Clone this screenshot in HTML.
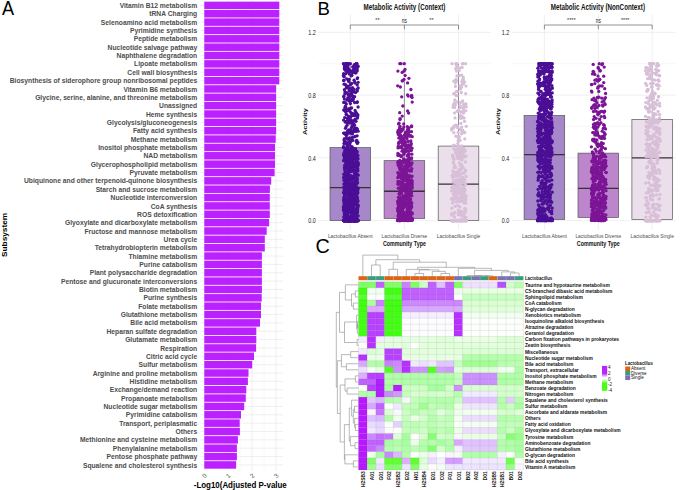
<!DOCTYPE html>
<html><head><meta charset="utf-8"><style>
html,body{margin:0;padding:0;background:#fff;width:685px;height:490px;overflow:hidden;}
svg{display:block;}
</style></head><body>
<svg width="685" height="490" viewBox="0 0 685 490">
<rect width="685" height="490" fill="#fff"/>
<line x1="200.5" x2="283" y1="5.40" y2="5.40" stroke="#ebebeb" stroke-width="0.8"/><line x1="200.5" x2="283" y1="13.76" y2="13.76" stroke="#ebebeb" stroke-width="0.8"/><line x1="200.5" x2="283" y1="22.11" y2="22.11" stroke="#ebebeb" stroke-width="0.8"/><line x1="200.5" x2="283" y1="30.46" y2="30.46" stroke="#ebebeb" stroke-width="0.8"/><line x1="200.5" x2="283" y1="38.82" y2="38.82" stroke="#ebebeb" stroke-width="0.8"/><line x1="200.5" x2="283" y1="47.18" y2="47.18" stroke="#ebebeb" stroke-width="0.8"/><line x1="200.5" x2="283" y1="55.53" y2="55.53" stroke="#ebebeb" stroke-width="0.8"/><line x1="200.5" x2="283" y1="63.88" y2="63.88" stroke="#ebebeb" stroke-width="0.8"/><line x1="200.5" x2="283" y1="72.24" y2="72.24" stroke="#ebebeb" stroke-width="0.8"/><line x1="200.5" x2="283" y1="80.60" y2="80.60" stroke="#ebebeb" stroke-width="0.8"/><line x1="200.5" x2="283" y1="88.95" y2="88.95" stroke="#ebebeb" stroke-width="0.8"/><line x1="200.5" x2="283" y1="97.31" y2="97.31" stroke="#ebebeb" stroke-width="0.8"/><line x1="200.5" x2="283" y1="105.66" y2="105.66" stroke="#ebebeb" stroke-width="0.8"/><line x1="200.5" x2="283" y1="114.02" y2="114.02" stroke="#ebebeb" stroke-width="0.8"/><line x1="200.5" x2="283" y1="122.37" y2="122.37" stroke="#ebebeb" stroke-width="0.8"/><line x1="200.5" x2="283" y1="130.73" y2="130.73" stroke="#ebebeb" stroke-width="0.8"/><line x1="200.5" x2="283" y1="139.08" y2="139.08" stroke="#ebebeb" stroke-width="0.8"/><line x1="200.5" x2="283" y1="147.44" y2="147.44" stroke="#ebebeb" stroke-width="0.8"/><line x1="200.5" x2="283" y1="155.79" y2="155.79" stroke="#ebebeb" stroke-width="0.8"/><line x1="200.5" x2="283" y1="164.15" y2="164.15" stroke="#ebebeb" stroke-width="0.8"/><line x1="200.5" x2="283" y1="172.50" y2="172.50" stroke="#ebebeb" stroke-width="0.8"/><line x1="200.5" x2="283" y1="180.86" y2="180.86" stroke="#ebebeb" stroke-width="0.8"/><line x1="200.5" x2="283" y1="189.21" y2="189.21" stroke="#ebebeb" stroke-width="0.8"/><line x1="200.5" x2="283" y1="197.57" y2="197.57" stroke="#ebebeb" stroke-width="0.8"/><line x1="200.5" x2="283" y1="205.92" y2="205.92" stroke="#ebebeb" stroke-width="0.8"/><line x1="200.5" x2="283" y1="214.28" y2="214.28" stroke="#ebebeb" stroke-width="0.8"/><line x1="200.5" x2="283" y1="222.63" y2="222.63" stroke="#ebebeb" stroke-width="0.8"/><line x1="200.5" x2="283" y1="230.99" y2="230.99" stroke="#ebebeb" stroke-width="0.8"/><line x1="200.5" x2="283" y1="239.34" y2="239.34" stroke="#ebebeb" stroke-width="0.8"/><line x1="200.5" x2="283" y1="247.70" y2="247.70" stroke="#ebebeb" stroke-width="0.8"/><line x1="200.5" x2="283" y1="256.05" y2="256.05" stroke="#ebebeb" stroke-width="0.8"/><line x1="200.5" x2="283" y1="264.40" y2="264.40" stroke="#ebebeb" stroke-width="0.8"/><line x1="200.5" x2="283" y1="272.76" y2="272.76" stroke="#ebebeb" stroke-width="0.8"/><line x1="200.5" x2="283" y1="281.12" y2="281.12" stroke="#ebebeb" stroke-width="0.8"/><line x1="200.5" x2="283" y1="289.47" y2="289.47" stroke="#ebebeb" stroke-width="0.8"/><line x1="200.5" x2="283" y1="297.82" y2="297.82" stroke="#ebebeb" stroke-width="0.8"/><line x1="200.5" x2="283" y1="306.18" y2="306.18" stroke="#ebebeb" stroke-width="0.8"/><line x1="200.5" x2="283" y1="314.53" y2="314.53" stroke="#ebebeb" stroke-width="0.8"/><line x1="200.5" x2="283" y1="322.89" y2="322.89" stroke="#ebebeb" stroke-width="0.8"/><line x1="200.5" x2="283" y1="331.25" y2="331.25" stroke="#ebebeb" stroke-width="0.8"/><line x1="200.5" x2="283" y1="339.60" y2="339.60" stroke="#ebebeb" stroke-width="0.8"/><line x1="200.5" x2="283" y1="347.95" y2="347.95" stroke="#ebebeb" stroke-width="0.8"/><line x1="200.5" x2="283" y1="356.31" y2="356.31" stroke="#ebebeb" stroke-width="0.8"/><line x1="200.5" x2="283" y1="364.67" y2="364.67" stroke="#ebebeb" stroke-width="0.8"/><line x1="200.5" x2="283" y1="373.02" y2="373.02" stroke="#ebebeb" stroke-width="0.8"/><line x1="200.5" x2="283" y1="381.38" y2="381.38" stroke="#ebebeb" stroke-width="0.8"/><line x1="200.5" x2="283" y1="389.73" y2="389.73" stroke="#ebebeb" stroke-width="0.8"/><line x1="200.5" x2="283" y1="398.08" y2="398.08" stroke="#ebebeb" stroke-width="0.8"/><line x1="200.5" x2="283" y1="406.44" y2="406.44" stroke="#ebebeb" stroke-width="0.8"/><line x1="200.5" x2="283" y1="414.80" y2="414.80" stroke="#ebebeb" stroke-width="0.8"/><line x1="200.5" x2="283" y1="423.15" y2="423.15" stroke="#ebebeb" stroke-width="0.8"/><line x1="200.5" x2="283" y1="431.50" y2="431.50" stroke="#ebebeb" stroke-width="0.8"/><line x1="200.5" x2="283" y1="439.86" y2="439.86" stroke="#ebebeb" stroke-width="0.8"/><line x1="200.5" x2="283" y1="448.21" y2="448.21" stroke="#ebebeb" stroke-width="0.8"/><line x1="200.5" x2="283" y1="456.57" y2="456.57" stroke="#ebebeb" stroke-width="0.8"/><line x1="200.5" x2="283" y1="464.93" y2="464.93" stroke="#ebebeb" stroke-width="0.8"/><line x1="216.25" x2="216.25" y1="-2" y2="471" stroke="#f3f3f3" stroke-width="0.6"/><line x1="240.15" x2="240.15" y1="-2" y2="471" stroke="#f3f3f3" stroke-width="0.6"/><line x1="264.05" x2="264.05" y1="-2" y2="471" stroke="#f3f3f3" stroke-width="0.6"/><line x1="204.30" x2="204.30" y1="-2" y2="471" stroke="#ebebeb" stroke-width="0.8"/><line x1="228.20" x2="228.20" y1="-2" y2="471" stroke="#ebebeb" stroke-width="0.8"/><line x1="252.10" x2="252.10" y1="-2" y2="471" stroke="#ebebeb" stroke-width="0.8"/><line x1="276.00" x2="276.00" y1="-2" y2="471" stroke="#ebebeb" stroke-width="0.8"/>
<rect x="204.3" y="1.65" width="75.00" height="7.5" fill="#bb20ff"/><rect x="204.3" y="10.01" width="75.00" height="7.5" fill="#bb20ff"/><rect x="204.3" y="18.36" width="75.00" height="7.5" fill="#bb20ff"/><rect x="204.3" y="26.71" width="75.00" height="7.5" fill="#bb20ff"/><rect x="204.3" y="35.07" width="75.00" height="7.5" fill="#bb20ff"/><rect x="204.3" y="43.43" width="75.00" height="7.5" fill="#bb20ff"/><rect x="204.3" y="51.78" width="75.00" height="7.5" fill="#bb20ff"/><rect x="204.3" y="60.13" width="75.00" height="7.5" fill="#bb20ff"/><rect x="204.3" y="68.49" width="75.00" height="7.5" fill="#bb20ff"/><rect x="204.3" y="76.85" width="75.00" height="7.5" fill="#bb20ff"/><rect x="204.3" y="85.20" width="71.80" height="7.5" fill="#bb20ff"/><rect x="204.3" y="93.56" width="71.80" height="7.5" fill="#bb20ff"/><rect x="204.3" y="101.91" width="71.80" height="7.5" fill="#bb20ff"/><rect x="204.3" y="110.27" width="71.80" height="7.5" fill="#bb20ff"/><rect x="204.3" y="118.62" width="71.80" height="7.5" fill="#bb20ff"/><rect x="204.3" y="126.98" width="71.80" height="7.5" fill="#bb20ff"/><rect x="204.3" y="135.33" width="71.40" height="7.5" fill="#bb20ff"/><rect x="204.3" y="143.69" width="70.70" height="7.5" fill="#bb20ff"/><rect x="204.3" y="152.04" width="70.70" height="7.5" fill="#bb20ff"/><rect x="204.3" y="160.40" width="70.70" height="7.5" fill="#bb20ff"/><rect x="204.3" y="168.75" width="70.30" height="7.5" fill="#bb20ff"/><rect x="204.3" y="177.11" width="66.90" height="7.5" fill="#bb20ff"/><rect x="204.3" y="185.46" width="65.60" height="7.5" fill="#bb20ff"/><rect x="204.3" y="193.82" width="65.50" height="7.5" fill="#bb20ff"/><rect x="204.3" y="202.17" width="65.50" height="7.5" fill="#bb20ff"/><rect x="204.3" y="210.53" width="65.50" height="7.5" fill="#bb20ff"/><rect x="204.3" y="218.88" width="64.80" height="7.5" fill="#bb20ff"/><rect x="204.3" y="227.24" width="62.40" height="7.5" fill="#bb20ff"/><rect x="204.3" y="235.59" width="60.50" height="7.5" fill="#bb20ff"/><rect x="204.3" y="243.95" width="60.50" height="7.5" fill="#bb20ff"/><rect x="204.3" y="252.30" width="57.60" height="7.5" fill="#bb20ff"/><rect x="204.3" y="260.65" width="57.60" height="7.5" fill="#bb20ff"/><rect x="204.3" y="269.01" width="57.60" height="7.5" fill="#bb20ff"/><rect x="204.3" y="277.37" width="57.60" height="7.5" fill="#bb20ff"/><rect x="204.3" y="285.72" width="57.60" height="7.5" fill="#bb20ff"/><rect x="204.3" y="294.07" width="57.40" height="7.5" fill="#bb20ff"/><rect x="204.3" y="302.43" width="56.70" height="7.5" fill="#bb20ff"/><rect x="204.3" y="310.78" width="56.70" height="7.5" fill="#bb20ff"/><rect x="204.3" y="319.14" width="55.70" height="7.5" fill="#bb20ff"/><rect x="204.3" y="327.50" width="52.00" height="7.5" fill="#bb20ff"/><rect x="204.3" y="335.85" width="52.00" height="7.5" fill="#bb20ff"/><rect x="204.3" y="344.20" width="51.80" height="7.5" fill="#bb20ff"/><rect x="204.3" y="352.56" width="49.70" height="7.5" fill="#bb20ff"/><rect x="204.3" y="360.92" width="47.90" height="7.5" fill="#bb20ff"/><rect x="204.3" y="369.27" width="44.20" height="7.5" fill="#bb20ff"/><rect x="204.3" y="377.62" width="43.60" height="7.5" fill="#bb20ff"/><rect x="204.3" y="385.98" width="42.00" height="7.5" fill="#bb20ff"/><rect x="204.3" y="394.33" width="41.50" height="7.5" fill="#bb20ff"/><rect x="204.3" y="402.69" width="39.90" height="7.5" fill="#bb20ff"/><rect x="204.3" y="411.05" width="36.70" height="7.5" fill="#bb20ff"/><rect x="204.3" y="419.40" width="35.40" height="7.5" fill="#bb20ff"/><rect x="204.3" y="427.75" width="35.60" height="7.5" fill="#bb20ff"/><rect x="204.3" y="436.11" width="33.60" height="7.5" fill="#bb20ff"/><rect x="204.3" y="444.46" width="32.60" height="7.5" fill="#bb20ff"/><rect x="204.3" y="452.82" width="32.60" height="7.5" fill="#bb20ff"/><rect x="204.3" y="461.18" width="31.80" height="7.5" fill="#bb20ff"/>
<g font-family='"Liberation Sans", sans-serif' font-weight="bold" font-size="7.8" fill="#4d4d4d" text-anchor="end"><text x="197.2" y="8.00" textLength="77.55" lengthAdjust="spacingAndGlyphs">Vitamin B12 metabolism</text><text x="197.2" y="16.36" textLength="47.91" lengthAdjust="spacingAndGlyphs">tRNA Charging</text><text x="197.2" y="24.71" textLength="96.34" lengthAdjust="spacingAndGlyphs">Selenoamino acid metabolism</text><text x="197.2" y="33.06" textLength="67.22" lengthAdjust="spacingAndGlyphs">Pyrimidine synthesis</text><text x="197.2" y="41.42" textLength="63.48" lengthAdjust="spacingAndGlyphs">Peptide metabolism</text><text x="197.2" y="49.78" textLength="89.62" lengthAdjust="spacingAndGlyphs">Nucleotide salvage pathway</text><text x="197.2" y="58.13" textLength="80.64" lengthAdjust="spacingAndGlyphs">Naphthalene degradation</text><text x="197.2" y="66.48" textLength="63.10" lengthAdjust="spacingAndGlyphs">Lipoate metabolism</text><text x="197.2" y="74.84" textLength="69.83" lengthAdjust="spacingAndGlyphs">Cell wall biosynthesis</text><text x="197.2" y="83.20" textLength="187.42" lengthAdjust="spacingAndGlyphs">Biosynthesis of siderophore group nonribosomal peptides</text><text x="197.2" y="91.55" textLength="73.81" lengthAdjust="spacingAndGlyphs">Vitamin B6 metabolism</text><text x="197.2" y="99.91" textLength="162.06" lengthAdjust="spacingAndGlyphs">Glycine, serine, alanine, and threonine metabolism</text><text x="197.2" y="108.26" textLength="38.09" lengthAdjust="spacingAndGlyphs">Unassigned</text><text x="197.2" y="116.62" textLength="51.17" lengthAdjust="spacingAndGlyphs">Heme synthesis</text><text x="197.2" y="124.97" textLength="90.37" lengthAdjust="spacingAndGlyphs">Glycolysis/gluconeogenesis</text><text x="197.2" y="133.33" textLength="64.23" lengthAdjust="spacingAndGlyphs">Fatty acid synthesis</text><text x="197.2" y="141.68" textLength="66.46" lengthAdjust="spacingAndGlyphs">Methane metabolism</text><text x="197.2" y="150.03" textLength="98.94" lengthAdjust="spacingAndGlyphs">Inositol phosphate metabolism</text><text x="197.2" y="158.39" textLength="53.77" lengthAdjust="spacingAndGlyphs">NAD metabolism</text><text x="197.2" y="166.75" textLength="106.41" lengthAdjust="spacingAndGlyphs">Glycerophospholipid metabolism</text><text x="197.2" y="175.10" textLength="67.60" lengthAdjust="spacingAndGlyphs">Pyruvate metabolism</text><text x="197.2" y="183.46" textLength="173.21" lengthAdjust="spacingAndGlyphs">Ubiquinone and other terpenoid-quinone biosynthesis</text><text x="197.2" y="191.81" textLength="101.57" lengthAdjust="spacingAndGlyphs">Starch and sucrose metabolism</text><text x="197.2" y="200.17" textLength="86.62" lengthAdjust="spacingAndGlyphs">Nucleotide interconversion</text><text x="197.2" y="208.52" textLength="46.43" lengthAdjust="spacingAndGlyphs">CoA synthesis</text><text x="197.2" y="216.88" textLength="60.11" lengthAdjust="spacingAndGlyphs">ROS detoxification</text><text x="197.2" y="225.23" textLength="132.20" lengthAdjust="spacingAndGlyphs">Glyoxylate and dicarboxylate metabolism</text><text x="197.2" y="233.59" textLength="112.77" lengthAdjust="spacingAndGlyphs">Fructose and mannose metabolism</text><text x="197.2" y="241.94" textLength="33.62" lengthAdjust="spacingAndGlyphs">Urea cycle</text><text x="197.2" y="250.30" textLength="102.55" lengthAdjust="spacingAndGlyphs">Tetrahydrobiopterin metabolism</text><text x="197.2" y="258.65" textLength="68.71" lengthAdjust="spacingAndGlyphs">Thiamine metabolism</text><text x="197.2" y="267.00" textLength="57.88" lengthAdjust="spacingAndGlyphs">Purine catabolism</text><text x="197.2" y="275.36" textLength="107.54" lengthAdjust="spacingAndGlyphs">Plant polysaccharide degradation</text><text x="197.2" y="283.72" textLength="136.29" lengthAdjust="spacingAndGlyphs">Pentose and glucuronate interconversions</text><text x="197.2" y="292.07" textLength="58.24" lengthAdjust="spacingAndGlyphs">Biotin metabolism</text><text x="197.2" y="300.43" textLength="53.78" lengthAdjust="spacingAndGlyphs">Purine synthesis</text><text x="197.2" y="308.78" textLength="59.00" lengthAdjust="spacingAndGlyphs">Folate metabolism</text><text x="197.2" y="317.13" textLength="76.54" lengthAdjust="spacingAndGlyphs">Glutathione metabolism</text><text x="197.2" y="325.49" textLength="66.85" lengthAdjust="spacingAndGlyphs">Bile acid metabolism</text><text x="197.2" y="333.85" textLength="90.73" lengthAdjust="spacingAndGlyphs">Heparan sulfate degradation</text><text x="197.2" y="342.20" textLength="72.07" lengthAdjust="spacingAndGlyphs">Glutamate metabolism</text><text x="197.2" y="350.56" textLength="36.96" lengthAdjust="spacingAndGlyphs">Respiration</text><text x="197.2" y="358.91" textLength="51.17" lengthAdjust="spacingAndGlyphs">Citric acid cycle</text><text x="197.2" y="367.27" textLength="58.62" lengthAdjust="spacingAndGlyphs">Sulfur metabolism</text><text x="197.2" y="375.62" textLength="104.54" lengthAdjust="spacingAndGlyphs">Arginine and proline metabolism</text><text x="197.2" y="383.98" textLength="67.58" lengthAdjust="spacingAndGlyphs">Histidine metabolism</text><text x="197.2" y="392.33" textLength="87.38" lengthAdjust="spacingAndGlyphs">Exchange/demand reaction</text><text x="197.2" y="400.69" textLength="76.17" lengthAdjust="spacingAndGlyphs">Propanoate metabolism</text><text x="197.2" y="409.04" textLength="93.72" lengthAdjust="spacingAndGlyphs">Nucleotide sugar metabolism</text><text x="197.2" y="417.40" textLength="71.33" lengthAdjust="spacingAndGlyphs">Pyrimidine catabolism</text><text x="197.2" y="425.75" textLength="78.05" lengthAdjust="spacingAndGlyphs">Transport, periplasmatic</text><text x="197.2" y="434.11" textLength="21.66" lengthAdjust="spacingAndGlyphs">Others</text><text x="197.2" y="442.46" textLength="117.24" lengthAdjust="spacingAndGlyphs">Methionine and cysteine metabolism</text><text x="197.2" y="450.81" textLength="84.39" lengthAdjust="spacingAndGlyphs">Phenylalanine metabolism</text><text x="197.2" y="459.17" textLength="90.73" lengthAdjust="spacingAndGlyphs">Pentose phosphate pathway</text><text x="197.2" y="467.53" textLength="114.27" lengthAdjust="spacingAndGlyphs">Squalene and cholesterol synthesis</text></g>
<text x="204.30" y="477.9" font-family='"Liberation Sans", sans-serif' font-size="6.2" fill="#4d4d4d" text-anchor="middle" transform="rotate(-45 204.30 475.6)">0</text>
<text x="228.20" y="477.9" font-family='"Liberation Sans", sans-serif' font-size="6.2" fill="#4d4d4d" text-anchor="middle" transform="rotate(-45 228.20 475.6)">1</text>
<text x="252.10" y="477.9" font-family='"Liberation Sans", sans-serif' font-size="6.2" fill="#4d4d4d" text-anchor="middle" transform="rotate(-45 252.10 475.6)">2</text>
<text x="276.00" y="477.9" font-family='"Liberation Sans", sans-serif' font-size="6.2" fill="#4d4d4d" text-anchor="middle" transform="rotate(-45 276.00 475.6)">3</text>
<text x="240.25" y="488.0" font-family='"Liberation Sans", sans-serif' font-weight="bold" font-size="8.6" fill="#000" text-anchor="middle" textLength="93" lengthAdjust="spacingAndGlyphs">-Log10(Adjusted P-value</text>
<text x="0" y="0" font-family='"Liberation Sans", sans-serif' font-weight="bold" font-size="8.1" fill="#000" text-anchor="middle" textLength="44.3" lengthAdjust="spacingAndGlyphs" transform="translate(6.8 234.9) rotate(-90)">Subsystem</text>
<text x="1.9" y="15.0" font-family='"Liberation Sans", sans-serif' font-size="19.6" fill="#000" textLength="12.1" lengthAdjust="spacingAndGlyphs">A</text>
<line x1="318" x2="491" y1="189.22" y2="189.22" stroke="#f2f2f2" stroke-width="0.6"/><line x1="318" x2="491" y1="126.46" y2="126.46" stroke="#f2f2f2" stroke-width="0.6"/><line x1="318" x2="491" y1="63.70" y2="63.70" stroke="#f2f2f2" stroke-width="0.6"/><line x1="318" x2="491" y1="220.60" y2="220.60" stroke="#ebebeb" stroke-width="0.8"/><line x1="318" x2="491" y1="157.84" y2="157.84" stroke="#ebebeb" stroke-width="0.8"/><line x1="318" x2="491" y1="95.08" y2="95.08" stroke="#ebebeb" stroke-width="0.8"/><line x1="318" x2="491" y1="32.32" y2="32.32" stroke="#ebebeb" stroke-width="0.8"/><line x1="350.3" x2="350.3" y1="14.6" y2="229.5" stroke="#ebebeb" stroke-width="0.8"/><line x1="404.4" x2="404.4" y1="14.6" y2="229.5" stroke="#ebebeb" stroke-width="0.8"/><line x1="458.5" x2="458.5" y1="14.6" y2="229.5" stroke="#ebebeb" stroke-width="0.8"/><text x="315.7" y="223.35" font-family='"Liberation Sans", sans-serif' font-size="7.3" fill="#1a1a1a" text-anchor="end" textLength="7.5" lengthAdjust="spacingAndGlyphs">0.0</text><text x="315.7" y="160.59" font-family='"Liberation Sans", sans-serif' font-size="7.3" fill="#1a1a1a" text-anchor="end" textLength="7.5" lengthAdjust="spacingAndGlyphs">0.4</text><text x="315.7" y="97.83" font-family='"Liberation Sans", sans-serif' font-size="7.3" fill="#1a1a1a" text-anchor="end" textLength="7.5" lengthAdjust="spacingAndGlyphs">0.8</text><text x="315.7" y="35.07" font-family='"Liberation Sans", sans-serif' font-size="7.3" fill="#1a1a1a" text-anchor="end" textLength="7.5" lengthAdjust="spacingAndGlyphs">1.2</text><line x1="350.3" x2="350.3" y1="63.70" y2="147.64" stroke="#666" stroke-width="0.7"/><rect x="330.00" y="147.64" width="40.60" height="72.96" fill="#a587ca" stroke="#555" stroke-width="0.7"/><line x1="330.00" x2="370.60" y1="187.65" y2="187.65" stroke="#333" stroke-width="1.3"/><g fill="#4b0f96"><circle cx="357.1" cy="193.9" r="1.65"/><circle cx="352.1" cy="192.2" r="1.65"/><circle cx="352.7" cy="220.6" r="1.65"/><circle cx="347.9" cy="132.8" r="1.65"/><circle cx="353.7" cy="220.6" r="1.65"/><circle cx="357.7" cy="220.6" r="1.65"/><circle cx="345.7" cy="163.0" r="1.65"/><circle cx="344.3" cy="220.6" r="1.65"/><circle cx="343.8" cy="220.6" r="1.65"/><circle cx="355.9" cy="192.4" r="1.65"/><circle cx="350.8" cy="184.6" r="1.65"/><circle cx="347.5" cy="161.7" r="1.65"/><circle cx="355.8" cy="64.3" r="1.65"/><circle cx="346.8" cy="154.4" r="1.65"/><circle cx="354.7" cy="215.5" r="1.65"/><circle cx="349.1" cy="200.8" r="1.65"/><circle cx="343.4" cy="75.7" r="1.65"/><circle cx="350.4" cy="220.6" r="1.65"/><circle cx="344.5" cy="68.8" r="1.65"/><circle cx="347.4" cy="166.9" r="1.65"/><circle cx="357.7" cy="220.6" r="1.65"/><circle cx="347.0" cy="144.9" r="1.65"/><circle cx="355.2" cy="220.6" r="1.65"/><circle cx="350.0" cy="220.6" r="1.65"/><circle cx="345.3" cy="220.6" r="1.65"/><circle cx="349.6" cy="164.7" r="1.65"/><circle cx="357.8" cy="220.6" r="1.65"/><circle cx="356.5" cy="129.2" r="1.65"/><circle cx="356.0" cy="220.6" r="1.65"/><circle cx="358.0" cy="165.0" r="1.65"/><circle cx="354.8" cy="220.6" r="1.65"/><circle cx="344.5" cy="210.2" r="1.65"/><circle cx="347.0" cy="220.6" r="1.65"/><circle cx="350.1" cy="171.4" r="1.65"/><circle cx="351.9" cy="75.3" r="1.65"/><circle cx="345.7" cy="107.3" r="1.65"/><circle cx="347.1" cy="92.8" r="1.65"/><circle cx="357.3" cy="220.6" r="1.65"/><circle cx="356.5" cy="220.6" r="1.65"/><circle cx="344.9" cy="171.1" r="1.65"/><circle cx="346.9" cy="220.6" r="1.65"/><circle cx="355.6" cy="154.9" r="1.65"/><circle cx="346.0" cy="172.2" r="1.65"/><circle cx="346.8" cy="152.4" r="1.65"/><circle cx="352.5" cy="178.2" r="1.65"/><circle cx="346.4" cy="216.6" r="1.65"/><circle cx="350.0" cy="220.6" r="1.65"/><circle cx="348.9" cy="220.6" r="1.65"/><circle cx="348.8" cy="176.1" r="1.65"/><circle cx="353.1" cy="98.9" r="1.65"/><circle cx="345.5" cy="157.0" r="1.65"/><circle cx="356.9" cy="63.7" r="1.65"/><circle cx="343.7" cy="155.5" r="1.65"/><circle cx="354.2" cy="165.9" r="1.65"/><circle cx="344.5" cy="211.5" r="1.65"/><circle cx="356.7" cy="180.3" r="1.65"/><circle cx="355.1" cy="149.7" r="1.65"/><circle cx="353.5" cy="90.6" r="1.65"/><circle cx="349.6" cy="95.5" r="1.65"/><circle cx="351.9" cy="133.6" r="1.65"/><circle cx="352.0" cy="167.7" r="1.65"/><circle cx="352.9" cy="170.2" r="1.65"/><circle cx="354.2" cy="65.4" r="1.65"/><circle cx="352.0" cy="202.4" r="1.65"/><circle cx="344.6" cy="195.5" r="1.65"/><circle cx="352.3" cy="147.6" r="1.65"/><circle cx="353.7" cy="190.2" r="1.65"/><circle cx="357.0" cy="188.0" r="1.65"/><circle cx="347.9" cy="63.7" r="1.65"/><circle cx="345.9" cy="159.1" r="1.65"/><circle cx="349.9" cy="93.8" r="1.65"/><circle cx="353.3" cy="98.6" r="1.65"/><circle cx="355.3" cy="220.6" r="1.65"/><circle cx="349.1" cy="90.8" r="1.65"/><circle cx="345.4" cy="174.4" r="1.65"/><circle cx="356.0" cy="188.1" r="1.65"/><circle cx="347.5" cy="153.8" r="1.65"/><circle cx="347.5" cy="220.6" r="1.65"/><circle cx="352.7" cy="220.6" r="1.65"/><circle cx="355.8" cy="188.5" r="1.65"/><circle cx="344.5" cy="68.4" r="1.65"/><circle cx="344.0" cy="220.6" r="1.65"/><circle cx="348.0" cy="154.3" r="1.65"/><circle cx="345.4" cy="63.7" r="1.65"/><circle cx="355.7" cy="193.6" r="1.65"/><circle cx="344.1" cy="220.6" r="1.65"/><circle cx="352.7" cy="167.0" r="1.65"/><circle cx="357.6" cy="162.8" r="1.65"/><circle cx="350.4" cy="158.1" r="1.65"/><circle cx="350.4" cy="63.7" r="1.65"/><circle cx="347.4" cy="153.4" r="1.65"/><circle cx="351.1" cy="208.0" r="1.65"/><circle cx="349.2" cy="169.3" r="1.65"/><circle cx="344.7" cy="133.1" r="1.65"/><circle cx="345.3" cy="84.5" r="1.65"/><circle cx="356.9" cy="193.8" r="1.65"/><circle cx="356.4" cy="203.9" r="1.65"/><circle cx="350.3" cy="131.5" r="1.65"/><circle cx="354.1" cy="163.4" r="1.65"/><circle cx="354.0" cy="124.0" r="1.65"/><circle cx="357.9" cy="220.6" r="1.65"/><circle cx="355.1" cy="69.6" r="1.65"/><circle cx="356.1" cy="211.3" r="1.65"/><circle cx="349.9" cy="207.6" r="1.65"/><circle cx="350.6" cy="179.6" r="1.65"/><circle cx="344.3" cy="220.6" r="1.65"/><circle cx="348.4" cy="130.4" r="1.65"/><circle cx="345.6" cy="134.5" r="1.65"/><circle cx="355.8" cy="185.0" r="1.65"/><circle cx="350.7" cy="157.3" r="1.65"/><circle cx="346.7" cy="78.8" r="1.65"/><circle cx="354.2" cy="183.4" r="1.65"/><circle cx="355.9" cy="165.4" r="1.65"/><circle cx="349.0" cy="178.1" r="1.65"/><circle cx="346.5" cy="114.7" r="1.65"/><circle cx="351.2" cy="112.8" r="1.65"/><circle cx="351.3" cy="176.0" r="1.65"/><circle cx="343.8" cy="187.1" r="1.65"/><circle cx="349.3" cy="71.8" r="1.65"/><circle cx="350.7" cy="130.0" r="1.65"/><circle cx="351.4" cy="157.1" r="1.65"/><circle cx="357.1" cy="199.0" r="1.65"/><circle cx="345.3" cy="218.1" r="1.65"/><circle cx="356.7" cy="196.4" r="1.65"/><circle cx="346.2" cy="190.7" r="1.65"/><circle cx="345.3" cy="168.8" r="1.65"/><circle cx="346.3" cy="137.5" r="1.65"/><circle cx="348.2" cy="220.6" r="1.65"/><circle cx="345.0" cy="206.7" r="1.65"/><circle cx="351.0" cy="150.7" r="1.65"/><circle cx="351.2" cy="220.5" r="1.65"/><circle cx="349.5" cy="196.0" r="1.65"/><circle cx="346.4" cy="183.0" r="1.65"/><circle cx="351.2" cy="166.6" r="1.65"/><circle cx="356.1" cy="112.6" r="1.65"/><circle cx="355.4" cy="220.6" r="1.65"/><circle cx="348.1" cy="94.8" r="1.65"/><circle cx="358.2" cy="87.9" r="1.65"/><circle cx="346.9" cy="100.1" r="1.65"/><circle cx="344.8" cy="151.4" r="1.65"/><circle cx="355.1" cy="119.2" r="1.65"/><circle cx="353.5" cy="220.6" r="1.65"/><circle cx="353.5" cy="220.6" r="1.65"/><circle cx="345.1" cy="91.8" r="1.65"/><circle cx="350.8" cy="186.7" r="1.65"/><circle cx="344.4" cy="157.9" r="1.65"/><circle cx="351.6" cy="220.6" r="1.65"/><circle cx="345.6" cy="185.3" r="1.65"/><circle cx="355.8" cy="220.6" r="1.65"/><circle cx="344.8" cy="66.2" r="1.65"/><circle cx="350.2" cy="220.6" r="1.65"/><circle cx="350.3" cy="142.5" r="1.65"/><circle cx="352.3" cy="185.2" r="1.65"/><circle cx="355.9" cy="220.6" r="1.65"/><circle cx="354.3" cy="220.6" r="1.65"/><circle cx="345.8" cy="200.1" r="1.65"/><circle cx="356.6" cy="63.7" r="1.65"/><circle cx="356.1" cy="129.8" r="1.65"/><circle cx="352.3" cy="166.9" r="1.65"/><circle cx="355.3" cy="187.0" r="1.65"/><circle cx="354.4" cy="219.5" r="1.65"/><circle cx="349.4" cy="138.0" r="1.65"/><circle cx="353.7" cy="97.0" r="1.65"/><circle cx="349.4" cy="141.7" r="1.65"/><circle cx="348.5" cy="152.0" r="1.65"/><circle cx="348.7" cy="63.7" r="1.65"/><circle cx="346.8" cy="165.5" r="1.65"/><circle cx="348.4" cy="80.3" r="1.65"/><circle cx="351.3" cy="162.1" r="1.65"/><circle cx="352.9" cy="202.2" r="1.65"/><circle cx="357.9" cy="155.4" r="1.65"/><circle cx="354.3" cy="220.6" r="1.65"/><circle cx="344.1" cy="219.7" r="1.65"/><circle cx="344.9" cy="220.6" r="1.65"/><circle cx="351.5" cy="220.5" r="1.65"/><circle cx="351.8" cy="186.4" r="1.65"/><circle cx="355.4" cy="65.0" r="1.65"/><circle cx="354.6" cy="220.6" r="1.65"/><circle cx="345.8" cy="220.6" r="1.65"/><circle cx="350.7" cy="191.4" r="1.65"/><circle cx="357.4" cy="169.9" r="1.65"/><circle cx="352.2" cy="198.1" r="1.65"/><circle cx="353.1" cy="205.4" r="1.65"/><circle cx="354.0" cy="177.9" r="1.65"/><circle cx="347.0" cy="63.7" r="1.65"/><circle cx="354.6" cy="220.6" r="1.65"/><circle cx="354.5" cy="202.2" r="1.65"/><circle cx="357.4" cy="220.6" r="1.65"/><circle cx="349.8" cy="220.6" r="1.65"/><circle cx="347.0" cy="190.6" r="1.65"/><circle cx="354.1" cy="183.9" r="1.65"/><circle cx="355.5" cy="191.8" r="1.65"/><circle cx="352.6" cy="171.1" r="1.65"/><circle cx="344.2" cy="193.5" r="1.65"/><circle cx="350.0" cy="183.2" r="1.65"/><circle cx="347.3" cy="160.8" r="1.65"/><circle cx="354.9" cy="174.5" r="1.65"/><circle cx="357.5" cy="182.7" r="1.65"/><circle cx="345.1" cy="150.2" r="1.65"/><circle cx="352.6" cy="98.3" r="1.65"/><circle cx="353.5" cy="206.2" r="1.65"/><circle cx="352.8" cy="177.3" r="1.65"/><circle cx="347.1" cy="146.5" r="1.65"/><circle cx="356.4" cy="69.0" r="1.65"/><circle cx="347.4" cy="220.6" r="1.65"/><circle cx="344.9" cy="197.5" r="1.65"/><circle cx="344.7" cy="181.0" r="1.65"/><circle cx="352.7" cy="159.4" r="1.65"/><circle cx="346.5" cy="204.4" r="1.65"/><circle cx="355.8" cy="208.3" r="1.65"/><circle cx="355.4" cy="220.6" r="1.65"/><circle cx="346.6" cy="167.8" r="1.65"/><circle cx="355.4" cy="197.6" r="1.65"/><circle cx="358.0" cy="204.9" r="1.65"/><circle cx="354.4" cy="210.7" r="1.65"/><circle cx="348.9" cy="88.6" r="1.65"/><circle cx="344.6" cy="220.6" r="1.65"/><circle cx="350.6" cy="220.6" r="1.65"/><circle cx="354.9" cy="158.0" r="1.65"/><circle cx="353.2" cy="220.6" r="1.65"/><circle cx="354.1" cy="220.6" r="1.65"/><circle cx="345.5" cy="156.6" r="1.65"/><circle cx="348.8" cy="206.4" r="1.65"/><circle cx="351.8" cy="220.6" r="1.65"/><circle cx="356.9" cy="89.3" r="1.65"/><circle cx="347.9" cy="195.8" r="1.65"/><circle cx="357.2" cy="211.7" r="1.65"/><circle cx="348.8" cy="97.6" r="1.65"/><circle cx="349.3" cy="205.4" r="1.65"/><circle cx="351.7" cy="202.5" r="1.65"/><circle cx="355.8" cy="131.4" r="1.65"/><circle cx="354.6" cy="177.6" r="1.65"/><circle cx="343.7" cy="102.4" r="1.65"/><circle cx="351.8" cy="185.1" r="1.65"/><circle cx="355.3" cy="72.8" r="1.65"/><circle cx="355.1" cy="220.6" r="1.65"/><circle cx="354.3" cy="220.6" r="1.65"/><circle cx="352.8" cy="96.1" r="1.65"/><circle cx="353.0" cy="220.6" r="1.65"/><circle cx="354.7" cy="220.6" r="1.65"/><circle cx="349.2" cy="184.2" r="1.65"/><circle cx="353.4" cy="209.0" r="1.65"/><circle cx="354.1" cy="188.5" r="1.65"/><circle cx="349.5" cy="154.3" r="1.65"/><circle cx="356.0" cy="121.3" r="1.65"/><circle cx="356.6" cy="128.3" r="1.65"/><circle cx="351.2" cy="75.8" r="1.65"/><circle cx="349.6" cy="154.0" r="1.65"/><circle cx="354.4" cy="198.1" r="1.65"/><circle cx="345.9" cy="66.1" r="1.65"/><circle cx="347.7" cy="220.6" r="1.65"/><circle cx="348.0" cy="71.6" r="1.65"/><circle cx="354.9" cy="220.6" r="1.65"/><circle cx="350.2" cy="220.6" r="1.65"/><circle cx="343.9" cy="174.2" r="1.65"/><circle cx="346.6" cy="220.6" r="1.65"/><circle cx="352.2" cy="220.6" r="1.65"/><circle cx="347.6" cy="220.6" r="1.65"/><circle cx="348.0" cy="220.6" r="1.65"/><circle cx="350.5" cy="179.9" r="1.65"/><circle cx="356.9" cy="219.2" r="1.65"/><circle cx="357.6" cy="208.5" r="1.65"/><circle cx="344.1" cy="189.9" r="1.65"/><circle cx="349.1" cy="79.3" r="1.65"/><circle cx="347.5" cy="183.2" r="1.65"/><circle cx="346.9" cy="66.3" r="1.65"/><circle cx="348.9" cy="220.6" r="1.65"/><circle cx="352.4" cy="131.5" r="1.65"/><circle cx="348.2" cy="220.6" r="1.65"/><circle cx="351.0" cy="219.4" r="1.65"/><circle cx="347.3" cy="165.7" r="1.65"/><circle cx="354.8" cy="182.1" r="1.65"/><circle cx="355.9" cy="220.6" r="1.65"/><circle cx="347.4" cy="122.7" r="1.65"/><circle cx="350.5" cy="153.0" r="1.65"/><circle cx="352.1" cy="191.8" r="1.65"/><circle cx="355.1" cy="110.5" r="1.65"/><circle cx="344.7" cy="198.6" r="1.65"/><circle cx="351.4" cy="121.2" r="1.65"/><circle cx="355.7" cy="183.5" r="1.65"/><circle cx="344.5" cy="212.5" r="1.65"/><circle cx="354.0" cy="213.3" r="1.65"/><circle cx="345.0" cy="206.1" r="1.65"/><circle cx="357.7" cy="201.6" r="1.65"/><circle cx="343.6" cy="120.1" r="1.65"/><circle cx="346.9" cy="203.8" r="1.65"/><circle cx="343.6" cy="177.4" r="1.65"/><circle cx="346.5" cy="65.9" r="1.65"/><circle cx="349.0" cy="169.1" r="1.65"/><circle cx="348.4" cy="181.3" r="1.65"/><circle cx="347.2" cy="201.9" r="1.65"/><circle cx="348.3" cy="220.6" r="1.65"/><circle cx="354.1" cy="80.2" r="1.65"/><circle cx="344.8" cy="209.8" r="1.65"/><circle cx="353.4" cy="220.6" r="1.65"/><circle cx="349.4" cy="154.3" r="1.65"/><circle cx="344.7" cy="117.6" r="1.65"/><circle cx="345.2" cy="220.6" r="1.65"/><circle cx="357.0" cy="199.9" r="1.65"/><circle cx="353.0" cy="197.3" r="1.65"/><circle cx="349.1" cy="141.8" r="1.65"/><circle cx="343.6" cy="209.9" r="1.65"/><circle cx="357.9" cy="200.7" r="1.65"/><circle cx="352.4" cy="133.9" r="1.65"/><circle cx="348.5" cy="220.6" r="1.65"/><circle cx="349.0" cy="163.5" r="1.65"/><circle cx="355.6" cy="186.2" r="1.65"/><circle cx="354.7" cy="169.8" r="1.65"/><circle cx="348.6" cy="94.7" r="1.65"/><circle cx="354.0" cy="187.6" r="1.65"/><circle cx="354.0" cy="67.2" r="1.65"/><circle cx="357.4" cy="118.1" r="1.65"/><circle cx="344.6" cy="167.3" r="1.65"/><circle cx="353.7" cy="220.6" r="1.65"/><circle cx="348.7" cy="210.2" r="1.65"/><circle cx="357.8" cy="192.5" r="1.65"/><circle cx="351.4" cy="220.6" r="1.65"/><circle cx="347.3" cy="177.9" r="1.65"/><circle cx="355.5" cy="92.5" r="1.65"/><circle cx="355.6" cy="171.4" r="1.65"/><circle cx="347.0" cy="215.5" r="1.65"/><circle cx="346.1" cy="175.9" r="1.65"/><circle cx="343.9" cy="180.0" r="1.65"/><circle cx="357.3" cy="220.6" r="1.65"/><circle cx="353.3" cy="162.3" r="1.65"/><circle cx="352.2" cy="149.6" r="1.65"/><circle cx="346.4" cy="63.7" r="1.65"/><circle cx="349.1" cy="191.9" r="1.65"/><circle cx="351.1" cy="176.5" r="1.65"/><circle cx="348.3" cy="218.8" r="1.65"/><circle cx="353.3" cy="165.0" r="1.65"/><circle cx="352.3" cy="220.6" r="1.65"/><circle cx="352.6" cy="191.6" r="1.65"/><circle cx="354.5" cy="157.4" r="1.65"/><circle cx="355.8" cy="189.5" r="1.65"/><circle cx="349.8" cy="111.3" r="1.65"/><circle cx="351.2" cy="177.1" r="1.65"/><circle cx="356.8" cy="183.6" r="1.65"/><circle cx="354.1" cy="211.3" r="1.65"/><circle cx="352.2" cy="95.7" r="1.65"/><circle cx="352.2" cy="147.0" r="1.65"/><circle cx="350.0" cy="220.6" r="1.65"/><circle cx="344.2" cy="187.2" r="1.65"/><circle cx="346.9" cy="156.5" r="1.65"/><circle cx="346.9" cy="213.2" r="1.65"/><circle cx="357.7" cy="220.6" r="1.65"/><circle cx="349.6" cy="161.1" r="1.65"/><circle cx="354.5" cy="128.5" r="1.65"/><circle cx="344.9" cy="177.0" r="1.65"/><circle cx="351.4" cy="133.0" r="1.65"/><circle cx="347.0" cy="63.7" r="1.65"/><circle cx="344.3" cy="214.1" r="1.65"/><circle cx="349.3" cy="97.4" r="1.65"/><circle cx="344.1" cy="206.6" r="1.65"/><circle cx="348.0" cy="220.6" r="1.65"/><circle cx="357.9" cy="187.9" r="1.65"/><circle cx="347.8" cy="191.3" r="1.65"/><circle cx="346.3" cy="87.9" r="1.65"/><circle cx="350.4" cy="117.2" r="1.65"/><circle cx="358.1" cy="220.6" r="1.65"/><circle cx="346.2" cy="220.6" r="1.65"/><circle cx="345.0" cy="102.6" r="1.65"/><circle cx="356.7" cy="151.5" r="1.65"/><circle cx="345.4" cy="106.3" r="1.65"/><circle cx="350.0" cy="156.3" r="1.65"/><circle cx="347.9" cy="220.6" r="1.65"/><circle cx="346.1" cy="154.0" r="1.65"/><circle cx="355.1" cy="220.6" r="1.65"/><circle cx="356.5" cy="204.5" r="1.65"/><circle cx="347.9" cy="173.3" r="1.65"/><circle cx="347.5" cy="86.5" r="1.65"/><circle cx="357.9" cy="165.3" r="1.65"/><circle cx="351.3" cy="195.5" r="1.65"/><circle cx="347.6" cy="220.6" r="1.65"/><circle cx="344.7" cy="220.5" r="1.65"/><circle cx="347.0" cy="216.0" r="1.65"/><circle cx="346.2" cy="216.8" r="1.65"/><circle cx="343.9" cy="96.8" r="1.65"/><circle cx="349.1" cy="192.7" r="1.65"/><circle cx="346.1" cy="85.6" r="1.65"/><circle cx="348.7" cy="178.7" r="1.65"/><circle cx="351.0" cy="162.3" r="1.65"/><circle cx="353.5" cy="186.8" r="1.65"/><circle cx="346.0" cy="184.4" r="1.65"/><circle cx="352.4" cy="137.4" r="1.65"/><circle cx="354.8" cy="220.6" r="1.65"/><circle cx="346.9" cy="135.0" r="1.65"/><circle cx="352.0" cy="189.1" r="1.65"/><circle cx="352.2" cy="187.8" r="1.65"/><circle cx="356.3" cy="153.3" r="1.65"/><circle cx="343.7" cy="220.6" r="1.65"/><circle cx="349.9" cy="188.2" r="1.65"/><circle cx="344.5" cy="218.9" r="1.65"/><circle cx="351.4" cy="93.2" r="1.65"/><circle cx="345.6" cy="133.2" r="1.65"/><circle cx="348.1" cy="212.6" r="1.65"/><circle cx="347.3" cy="168.3" r="1.65"/><circle cx="355.5" cy="173.5" r="1.65"/><circle cx="345.8" cy="220.6" r="1.65"/><circle cx="355.0" cy="157.1" r="1.65"/><circle cx="348.8" cy="220.6" r="1.65"/><circle cx="344.0" cy="220.6" r="1.65"/><circle cx="358.0" cy="189.0" r="1.65"/><circle cx="354.4" cy="220.6" r="1.65"/><circle cx="356.6" cy="220.6" r="1.65"/><circle cx="347.8" cy="220.6" r="1.65"/><circle cx="343.9" cy="197.6" r="1.65"/><circle cx="354.3" cy="64.7" r="1.65"/><circle cx="351.6" cy="220.6" r="1.65"/><circle cx="357.2" cy="220.6" r="1.65"/><circle cx="357.9" cy="205.6" r="1.65"/><circle cx="349.4" cy="169.9" r="1.65"/><circle cx="348.5" cy="163.7" r="1.65"/><circle cx="352.1" cy="156.5" r="1.65"/><circle cx="349.2" cy="100.5" r="1.65"/><circle cx="355.0" cy="115.5" r="1.65"/><circle cx="346.1" cy="220.6" r="1.65"/><circle cx="346.4" cy="179.7" r="1.65"/><circle cx="348.0" cy="220.6" r="1.65"/><circle cx="353.5" cy="194.6" r="1.65"/><circle cx="349.1" cy="108.7" r="1.65"/><circle cx="348.8" cy="220.6" r="1.65"/><circle cx="346.1" cy="63.7" r="1.65"/><circle cx="357.1" cy="219.0" r="1.65"/><circle cx="348.7" cy="153.2" r="1.65"/><circle cx="348.7" cy="220.6" r="1.65"/><circle cx="356.8" cy="142.2" r="1.65"/><circle cx="349.1" cy="220.6" r="1.65"/><circle cx="348.2" cy="220.6" r="1.65"/><circle cx="344.2" cy="140.5" r="1.65"/><circle cx="344.0" cy="201.6" r="1.65"/><circle cx="343.9" cy="220.6" r="1.65"/><circle cx="351.5" cy="212.4" r="1.65"/><circle cx="347.3" cy="220.6" r="1.65"/><circle cx="345.6" cy="151.6" r="1.65"/><circle cx="353.9" cy="220.6" r="1.65"/><circle cx="356.2" cy="200.1" r="1.65"/><circle cx="348.5" cy="220.6" r="1.65"/><circle cx="343.8" cy="220.6" r="1.65"/><circle cx="355.4" cy="166.8" r="1.65"/><circle cx="353.3" cy="70.1" r="1.65"/><circle cx="353.6" cy="89.2" r="1.65"/><circle cx="356.3" cy="161.0" r="1.65"/><circle cx="344.7" cy="220.6" r="1.65"/><circle cx="344.3" cy="197.2" r="1.65"/><circle cx="350.8" cy="203.0" r="1.65"/><circle cx="349.4" cy="216.7" r="1.65"/><circle cx="353.2" cy="190.9" r="1.65"/><circle cx="348.5" cy="220.6" r="1.65"/><circle cx="352.0" cy="197.9" r="1.65"/><circle cx="353.8" cy="155.4" r="1.65"/><circle cx="348.8" cy="220.6" r="1.65"/><circle cx="344.2" cy="220.6" r="1.65"/><circle cx="350.3" cy="188.2" r="1.65"/><circle cx="343.7" cy="210.6" r="1.65"/><circle cx="351.8" cy="207.8" r="1.65"/><circle cx="346.2" cy="219.0" r="1.65"/><circle cx="357.5" cy="191.7" r="1.65"/><circle cx="357.3" cy="205.8" r="1.65"/><circle cx="352.6" cy="140.2" r="1.65"/><circle cx="347.5" cy="199.4" r="1.65"/><circle cx="349.1" cy="120.1" r="1.65"/><circle cx="345.4" cy="92.4" r="1.65"/><circle cx="348.7" cy="186.5" r="1.65"/><circle cx="346.2" cy="69.7" r="1.65"/><circle cx="346.9" cy="220.6" r="1.65"/><circle cx="349.2" cy="220.6" r="1.65"/><circle cx="353.0" cy="220.6" r="1.65"/><circle cx="351.7" cy="179.9" r="1.65"/><circle cx="348.3" cy="119.6" r="1.65"/><circle cx="348.0" cy="207.9" r="1.65"/><circle cx="353.6" cy="153.1" r="1.65"/><circle cx="345.8" cy="73.7" r="1.65"/><circle cx="351.7" cy="168.2" r="1.65"/><circle cx="354.5" cy="204.8" r="1.65"/><circle cx="347.1" cy="182.2" r="1.65"/><circle cx="351.0" cy="210.7" r="1.65"/><circle cx="344.4" cy="220.6" r="1.65"/><circle cx="345.1" cy="220.6" r="1.65"/><circle cx="350.5" cy="194.0" r="1.65"/><circle cx="356.3" cy="220.6" r="1.65"/><circle cx="350.9" cy="220.6" r="1.65"/><circle cx="354.0" cy="131.6" r="1.65"/><circle cx="348.2" cy="220.4" r="1.65"/><circle cx="355.9" cy="209.6" r="1.65"/><circle cx="349.6" cy="120.5" r="1.65"/><circle cx="355.7" cy="154.5" r="1.65"/><circle cx="349.0" cy="129.9" r="1.65"/><circle cx="346.1" cy="160.5" r="1.65"/><circle cx="357.3" cy="220.6" r="1.65"/><circle cx="353.6" cy="71.4" r="1.65"/><circle cx="349.3" cy="198.3" r="1.65"/><circle cx="344.1" cy="84.2" r="1.65"/><circle cx="344.0" cy="153.5" r="1.65"/><circle cx="358.1" cy="215.8" r="1.65"/><circle cx="343.8" cy="220.6" r="1.65"/><circle cx="348.9" cy="180.8" r="1.65"/><circle cx="355.8" cy="212.8" r="1.65"/><circle cx="352.5" cy="216.2" r="1.65"/><circle cx="349.2" cy="142.3" r="1.65"/><circle cx="355.2" cy="156.6" r="1.65"/><circle cx="345.0" cy="220.6" r="1.65"/><circle cx="350.6" cy="84.2" r="1.65"/><circle cx="343.7" cy="220.6" r="1.65"/><circle cx="352.7" cy="177.1" r="1.65"/><circle cx="350.5" cy="217.4" r="1.65"/><circle cx="344.2" cy="205.3" r="1.65"/><circle cx="348.0" cy="220.6" r="1.65"/><circle cx="350.6" cy="220.6" r="1.65"/><circle cx="356.2" cy="64.4" r="1.65"/><circle cx="355.3" cy="189.7" r="1.65"/><circle cx="351.5" cy="201.4" r="1.65"/><circle cx="347.5" cy="162.5" r="1.65"/><circle cx="358.1" cy="82.3" r="1.65"/><circle cx="354.1" cy="195.1" r="1.65"/><circle cx="345.9" cy="220.6" r="1.65"/><circle cx="348.7" cy="220.6" r="1.65"/><circle cx="351.0" cy="146.4" r="1.65"/><circle cx="357.6" cy="220.6" r="1.65"/><circle cx="355.4" cy="220.6" r="1.65"/><circle cx="349.3" cy="133.0" r="1.65"/><circle cx="354.8" cy="129.3" r="1.65"/><circle cx="357.5" cy="67.4" r="1.65"/><circle cx="347.1" cy="200.5" r="1.65"/><circle cx="351.9" cy="92.4" r="1.65"/><circle cx="348.9" cy="220.6" r="1.65"/><circle cx="348.8" cy="162.5" r="1.65"/><circle cx="347.5" cy="165.6" r="1.65"/><circle cx="344.8" cy="94.0" r="1.65"/><circle cx="346.5" cy="209.4" r="1.65"/><circle cx="353.5" cy="148.7" r="1.65"/><circle cx="345.5" cy="220.6" r="1.65"/><circle cx="343.5" cy="207.4" r="1.65"/><circle cx="348.2" cy="187.2" r="1.65"/><circle cx="346.4" cy="181.7" r="1.65"/><circle cx="354.6" cy="102.5" r="1.65"/><circle cx="349.8" cy="220.6" r="1.65"/><circle cx="349.4" cy="74.1" r="1.65"/><circle cx="347.4" cy="154.7" r="1.65"/><circle cx="348.2" cy="159.3" r="1.65"/><circle cx="358.0" cy="220.6" r="1.65"/><circle cx="349.0" cy="220.6" r="1.65"/><circle cx="352.5" cy="164.6" r="1.65"/><circle cx="352.7" cy="100.0" r="1.65"/><circle cx="345.1" cy="186.9" r="1.65"/><circle cx="350.1" cy="117.4" r="1.65"/><circle cx="349.1" cy="161.2" r="1.65"/><circle cx="351.9" cy="220.6" r="1.65"/><circle cx="352.7" cy="185.2" r="1.65"/><circle cx="352.2" cy="194.7" r="1.65"/><circle cx="350.3" cy="84.8" r="1.65"/><circle cx="348.0" cy="65.6" r="1.65"/><circle cx="349.4" cy="149.8" r="1.65"/><circle cx="358.1" cy="107.0" r="1.65"/><circle cx="355.8" cy="188.8" r="1.65"/><circle cx="355.7" cy="163.8" r="1.65"/><circle cx="358.1" cy="131.2" r="1.65"/><circle cx="353.9" cy="220.6" r="1.65"/><circle cx="350.1" cy="220.5" r="1.65"/><circle cx="346.3" cy="181.8" r="1.65"/><circle cx="344.5" cy="216.7" r="1.65"/><circle cx="350.7" cy="178.8" r="1.65"/><circle cx="356.1" cy="220.6" r="1.65"/><circle cx="356.8" cy="140.4" r="1.65"/><circle cx="348.8" cy="131.5" r="1.65"/><circle cx="348.5" cy="220.6" r="1.65"/><circle cx="345.1" cy="107.9" r="1.65"/><circle cx="356.0" cy="220.6" r="1.65"/><circle cx="344.5" cy="168.9" r="1.65"/><circle cx="352.7" cy="66.9" r="1.65"/><circle cx="346.3" cy="103.9" r="1.65"/><circle cx="343.6" cy="160.7" r="1.65"/><circle cx="352.7" cy="208.8" r="1.65"/><circle cx="353.7" cy="216.8" r="1.65"/><circle cx="353.7" cy="220.6" r="1.65"/><circle cx="345.1" cy="192.1" r="1.65"/><circle cx="348.7" cy="81.6" r="1.65"/><circle cx="353.6" cy="220.6" r="1.65"/><circle cx="348.0" cy="149.8" r="1.65"/><circle cx="352.7" cy="199.7" r="1.65"/><circle cx="349.5" cy="197.6" r="1.65"/><circle cx="357.3" cy="193.3" r="1.65"/><circle cx="346.9" cy="207.9" r="1.65"/><circle cx="356.3" cy="175.0" r="1.65"/><circle cx="353.4" cy="215.8" r="1.65"/><circle cx="349.1" cy="193.6" r="1.65"/><circle cx="350.0" cy="148.7" r="1.65"/><circle cx="347.6" cy="220.6" r="1.65"/><circle cx="347.7" cy="195.4" r="1.65"/><circle cx="347.0" cy="156.5" r="1.65"/><circle cx="356.7" cy="199.3" r="1.65"/><circle cx="348.5" cy="220.4" r="1.65"/><circle cx="352.1" cy="123.3" r="1.65"/><circle cx="356.7" cy="180.3" r="1.65"/><circle cx="348.9" cy="220.6" r="1.65"/><circle cx="348.5" cy="152.0" r="1.65"/><circle cx="343.7" cy="96.5" r="1.65"/><circle cx="348.8" cy="166.4" r="1.65"/><circle cx="353.3" cy="192.3" r="1.65"/><circle cx="357.9" cy="170.8" r="1.65"/><circle cx="355.7" cy="65.6" r="1.65"/><circle cx="358.2" cy="163.7" r="1.65"/><circle cx="349.3" cy="220.6" r="1.65"/><circle cx="358.0" cy="162.7" r="1.65"/><circle cx="345.5" cy="220.6" r="1.65"/><circle cx="344.6" cy="201.5" r="1.65"/><circle cx="352.6" cy="220.6" r="1.65"/><circle cx="355.4" cy="148.9" r="1.65"/><circle cx="345.2" cy="150.7" r="1.65"/><circle cx="356.1" cy="63.7" r="1.65"/><circle cx="343.8" cy="80.4" r="1.65"/><circle cx="351.3" cy="207.3" r="1.65"/><circle cx="347.9" cy="220.6" r="1.65"/><circle cx="351.8" cy="186.5" r="1.65"/><circle cx="351.0" cy="220.6" r="1.65"/><circle cx="347.1" cy="214.8" r="1.65"/><circle cx="346.6" cy="199.0" r="1.65"/><circle cx="350.2" cy="194.0" r="1.65"/><circle cx="356.0" cy="112.8" r="1.65"/><circle cx="351.2" cy="220.6" r="1.65"/><circle cx="356.2" cy="200.0" r="1.65"/><circle cx="343.6" cy="73.7" r="1.65"/><circle cx="354.3" cy="220.6" r="1.65"/><circle cx="351.3" cy="153.6" r="1.65"/><circle cx="347.9" cy="220.6" r="1.65"/><circle cx="355.9" cy="72.9" r="1.65"/><circle cx="344.6" cy="220.6" r="1.65"/><circle cx="357.0" cy="219.2" r="1.65"/><circle cx="353.1" cy="210.2" r="1.65"/><circle cx="351.8" cy="100.4" r="1.65"/><circle cx="349.2" cy="187.5" r="1.65"/><circle cx="347.2" cy="214.1" r="1.65"/><circle cx="350.5" cy="205.1" r="1.65"/><circle cx="350.1" cy="206.3" r="1.65"/><circle cx="344.3" cy="220.6" r="1.65"/><circle cx="349.3" cy="183.2" r="1.65"/><circle cx="348.9" cy="220.6" r="1.65"/><circle cx="346.8" cy="212.1" r="1.65"/><circle cx="343.5" cy="147.7" r="1.65"/><circle cx="343.5" cy="200.0" r="1.65"/><circle cx="348.8" cy="172.7" r="1.65"/><circle cx="347.9" cy="172.0" r="1.65"/><circle cx="348.1" cy="170.2" r="1.65"/><circle cx="354.6" cy="188.0" r="1.65"/><circle cx="347.1" cy="220.6" r="1.65"/><circle cx="349.7" cy="217.9" r="1.65"/><circle cx="347.6" cy="109.6" r="1.65"/><circle cx="358.0" cy="158.9" r="1.65"/><circle cx="348.1" cy="119.4" r="1.65"/><circle cx="352.9" cy="123.7" r="1.65"/><circle cx="344.1" cy="220.6" r="1.65"/><circle cx="357.1" cy="167.7" r="1.65"/><circle cx="357.2" cy="165.5" r="1.65"/><circle cx="343.5" cy="146.7" r="1.65"/><circle cx="353.5" cy="149.7" r="1.65"/><circle cx="344.5" cy="68.0" r="1.65"/><circle cx="354.5" cy="136.8" r="1.65"/><circle cx="349.9" cy="203.8" r="1.65"/><circle cx="354.3" cy="220.6" r="1.65"/><circle cx="355.7" cy="220.6" r="1.65"/><circle cx="345.1" cy="161.0" r="1.65"/><circle cx="357.5" cy="220.6" r="1.65"/><circle cx="346.5" cy="178.0" r="1.65"/><circle cx="355.8" cy="198.9" r="1.65"/><circle cx="350.4" cy="220.6" r="1.65"/><circle cx="349.0" cy="220.6" r="1.65"/><circle cx="350.7" cy="159.7" r="1.65"/><circle cx="354.9" cy="157.3" r="1.65"/><circle cx="345.9" cy="220.6" r="1.65"/><circle cx="348.5" cy="173.9" r="1.65"/><circle cx="352.2" cy="220.6" r="1.65"/><circle cx="351.9" cy="184.5" r="1.65"/><circle cx="352.0" cy="115.7" r="1.65"/><circle cx="348.3" cy="190.2" r="1.65"/><circle cx="347.3" cy="156.1" r="1.65"/><circle cx="347.2" cy="150.8" r="1.65"/><circle cx="349.0" cy="220.6" r="1.65"/><circle cx="352.5" cy="153.0" r="1.65"/><circle cx="356.9" cy="178.1" r="1.65"/><circle cx="346.8" cy="193.5" r="1.65"/><circle cx="347.9" cy="146.6" r="1.65"/><circle cx="353.7" cy="113.9" r="1.65"/><circle cx="348.3" cy="176.8" r="1.65"/><circle cx="354.7" cy="220.6" r="1.65"/><circle cx="355.0" cy="128.4" r="1.65"/><circle cx="351.3" cy="220.6" r="1.65"/><circle cx="354.7" cy="170.1" r="1.65"/><circle cx="357.1" cy="174.5" r="1.65"/><circle cx="357.5" cy="157.4" r="1.65"/><circle cx="356.1" cy="152.7" r="1.65"/><circle cx="347.1" cy="151.3" r="1.65"/><circle cx="347.2" cy="220.6" r="1.65"/><circle cx="345.3" cy="214.9" r="1.65"/><circle cx="347.6" cy="189.6" r="1.65"/><circle cx="356.3" cy="217.0" r="1.65"/><circle cx="356.1" cy="220.6" r="1.65"/><circle cx="354.3" cy="170.1" r="1.65"/><circle cx="357.0" cy="182.1" r="1.65"/><circle cx="344.2" cy="138.9" r="1.65"/><circle cx="355.1" cy="83.1" r="1.65"/><circle cx="348.9" cy="220.6" r="1.65"/><circle cx="350.9" cy="151.0" r="1.65"/><circle cx="346.8" cy="177.1" r="1.65"/><circle cx="357.3" cy="78.5" r="1.65"/><circle cx="356.7" cy="162.5" r="1.65"/><circle cx="345.2" cy="220.6" r="1.65"/><circle cx="356.3" cy="66.6" r="1.65"/><circle cx="344.4" cy="220.6" r="1.65"/><circle cx="357.9" cy="220.6" r="1.65"/><circle cx="355.0" cy="158.0" r="1.65"/><circle cx="351.2" cy="184.3" r="1.65"/><circle cx="348.6" cy="220.6" r="1.65"/><circle cx="353.8" cy="187.8" r="1.65"/><circle cx="344.6" cy="198.6" r="1.65"/><circle cx="357.8" cy="189.4" r="1.65"/><circle cx="347.8" cy="177.8" r="1.65"/><circle cx="357.3" cy="209.3" r="1.65"/><circle cx="357.1" cy="70.0" r="1.65"/><circle cx="343.7" cy="110.1" r="1.65"/><circle cx="353.5" cy="189.0" r="1.65"/><circle cx="357.2" cy="169.6" r="1.65"/><circle cx="357.6" cy="220.6" r="1.65"/><circle cx="356.3" cy="220.6" r="1.65"/><circle cx="343.9" cy="76.0" r="1.65"/><circle cx="351.1" cy="120.1" r="1.65"/><circle cx="355.4" cy="174.8" r="1.65"/><circle cx="355.2" cy="220.6" r="1.65"/><circle cx="349.4" cy="70.1" r="1.65"/><circle cx="343.6" cy="209.3" r="1.65"/><circle cx="352.1" cy="140.7" r="1.65"/><circle cx="353.4" cy="183.5" r="1.65"/><circle cx="356.5" cy="193.6" r="1.65"/><circle cx="347.2" cy="220.6" r="1.65"/><circle cx="348.3" cy="190.4" r="1.65"/><circle cx="347.3" cy="220.6" r="1.65"/><circle cx="356.4" cy="184.0" r="1.65"/><circle cx="347.9" cy="220.6" r="1.65"/><circle cx="353.4" cy="210.1" r="1.65"/><circle cx="344.6" cy="133.7" r="1.65"/><circle cx="346.6" cy="143.0" r="1.65"/><circle cx="348.9" cy="198.9" r="1.65"/><circle cx="358.1" cy="206.6" r="1.65"/><circle cx="355.1" cy="202.5" r="1.65"/><circle cx="355.1" cy="136.5" r="1.65"/><circle cx="352.2" cy="203.5" r="1.65"/><circle cx="355.5" cy="149.0" r="1.65"/><circle cx="349.0" cy="220.6" r="1.65"/><circle cx="345.5" cy="220.6" r="1.65"/><circle cx="357.6" cy="220.6" r="1.65"/><circle cx="357.2" cy="84.9" r="1.65"/><circle cx="357.4" cy="220.6" r="1.65"/><circle cx="353.4" cy="220.6" r="1.65"/><circle cx="357.4" cy="101.8" r="1.65"/><circle cx="345.2" cy="193.7" r="1.65"/><circle cx="344.5" cy="217.6" r="1.65"/><circle cx="344.1" cy="220.6" r="1.65"/><circle cx="345.2" cy="213.1" r="1.65"/><circle cx="351.8" cy="183.3" r="1.65"/><circle cx="357.4" cy="143.4" r="1.65"/><circle cx="344.5" cy="220.6" r="1.65"/><circle cx="357.1" cy="212.8" r="1.65"/><circle cx="348.3" cy="187.0" r="1.65"/><circle cx="355.1" cy="176.7" r="1.65"/><circle cx="352.3" cy="70.9" r="1.65"/><circle cx="346.2" cy="114.4" r="1.65"/><circle cx="343.8" cy="80.5" r="1.65"/><circle cx="344.2" cy="143.2" r="1.65"/><circle cx="354.3" cy="220.6" r="1.65"/><circle cx="346.7" cy="63.7" r="1.65"/><circle cx="353.1" cy="130.6" r="1.65"/><circle cx="343.6" cy="192.3" r="1.65"/><circle cx="347.3" cy="213.4" r="1.65"/><circle cx="350.4" cy="168.6" r="1.65"/><circle cx="348.7" cy="167.8" r="1.65"/><circle cx="349.6" cy="101.3" r="1.65"/><circle cx="348.3" cy="181.2" r="1.65"/><circle cx="357.3" cy="91.0" r="1.65"/><circle cx="345.8" cy="112.0" r="1.65"/><circle cx="347.7" cy="186.2" r="1.65"/><circle cx="346.9" cy="220.6" r="1.65"/><circle cx="357.4" cy="174.3" r="1.65"/><circle cx="353.6" cy="216.1" r="1.65"/><circle cx="350.8" cy="207.8" r="1.65"/><circle cx="349.0" cy="88.0" r="1.65"/><circle cx="347.4" cy="220.6" r="1.65"/><circle cx="350.2" cy="175.8" r="1.65"/><circle cx="350.5" cy="220.6" r="1.65"/><circle cx="347.5" cy="165.0" r="1.65"/><circle cx="355.2" cy="195.2" r="1.65"/><circle cx="355.2" cy="220.6" r="1.65"/><circle cx="350.9" cy="220.0" r="1.65"/><circle cx="357.4" cy="197.4" r="1.65"/><circle cx="347.7" cy="189.0" r="1.65"/><circle cx="348.5" cy="116.1" r="1.65"/><circle cx="355.7" cy="220.6" r="1.65"/><circle cx="357.0" cy="129.1" r="1.65"/><circle cx="353.9" cy="158.0" r="1.65"/><circle cx="346.0" cy="127.0" r="1.65"/><circle cx="347.0" cy="125.3" r="1.65"/><circle cx="351.0" cy="89.0" r="1.65"/><circle cx="352.4" cy="208.3" r="1.65"/><circle cx="352.9" cy="91.9" r="1.65"/><circle cx="345.0" cy="220.6" r="1.65"/><circle cx="348.0" cy="68.4" r="1.65"/><circle cx="354.6" cy="220.6" r="1.65"/><circle cx="345.3" cy="67.6" r="1.65"/><circle cx="356.2" cy="151.4" r="1.65"/><circle cx="356.3" cy="141.2" r="1.65"/><circle cx="352.9" cy="176.6" r="1.65"/><circle cx="348.6" cy="188.7" r="1.65"/><circle cx="355.2" cy="220.6" r="1.65"/><circle cx="354.9" cy="220.6" r="1.65"/><circle cx="348.1" cy="156.5" r="1.65"/><circle cx="353.0" cy="217.6" r="1.65"/><circle cx="348.3" cy="157.8" r="1.65"/><circle cx="347.7" cy="86.4" r="1.65"/><circle cx="357.6" cy="77.8" r="1.65"/><circle cx="347.5" cy="139.3" r="1.65"/><circle cx="343.9" cy="184.0" r="1.65"/><circle cx="350.4" cy="108.7" r="1.65"/><circle cx="346.3" cy="148.5" r="1.65"/><circle cx="348.2" cy="174.7" r="1.65"/><circle cx="348.7" cy="220.6" r="1.65"/><circle cx="352.9" cy="183.3" r="1.65"/><circle cx="346.9" cy="198.9" r="1.65"/><circle cx="345.2" cy="191.1" r="1.65"/><circle cx="354.7" cy="196.5" r="1.65"/><circle cx="357.3" cy="178.8" r="1.65"/><circle cx="351.4" cy="94.9" r="1.65"/><circle cx="346.2" cy="64.4" r="1.65"/><circle cx="345.6" cy="142.1" r="1.65"/><circle cx="354.1" cy="179.4" r="1.65"/><circle cx="354.8" cy="151.4" r="1.65"/><circle cx="350.2" cy="164.0" r="1.65"/><circle cx="350.4" cy="196.6" r="1.65"/><circle cx="344.2" cy="76.8" r="1.65"/><circle cx="353.7" cy="220.6" r="1.65"/><circle cx="349.7" cy="195.9" r="1.65"/><circle cx="349.4" cy="175.9" r="1.65"/><circle cx="352.5" cy="163.7" r="1.65"/><circle cx="345.3" cy="220.6" r="1.65"/><circle cx="343.6" cy="220.6" r="1.65"/><circle cx="350.3" cy="220.6" r="1.65"/><circle cx="356.0" cy="220.6" r="1.65"/><circle cx="348.1" cy="189.4" r="1.65"/><circle cx="347.9" cy="68.0" r="1.65"/><circle cx="350.9" cy="220.6" r="1.65"/><circle cx="356.5" cy="199.5" r="1.65"/><circle cx="353.9" cy="219.6" r="1.65"/><circle cx="349.9" cy="194.5" r="1.65"/><circle cx="352.6" cy="193.8" r="1.65"/><circle cx="354.8" cy="199.4" r="1.65"/><circle cx="356.4" cy="193.6" r="1.65"/><circle cx="356.7" cy="193.6" r="1.65"/><circle cx="349.3" cy="69.9" r="1.65"/><circle cx="347.8" cy="160.3" r="1.65"/><circle cx="353.1" cy="151.8" r="1.65"/><circle cx="353.1" cy="160.6" r="1.65"/><circle cx="351.4" cy="220.6" r="1.65"/><circle cx="353.9" cy="68.9" r="1.65"/><circle cx="354.7" cy="220.6" r="1.65"/><circle cx="346.7" cy="219.4" r="1.65"/><circle cx="346.3" cy="201.0" r="1.65"/><circle cx="352.0" cy="91.3" r="1.65"/><circle cx="349.2" cy="123.0" r="1.65"/><circle cx="354.7" cy="173.2" r="1.65"/><circle cx="347.1" cy="148.2" r="1.65"/><circle cx="351.5" cy="154.8" r="1.65"/><circle cx="355.0" cy="67.1" r="1.65"/><circle cx="357.5" cy="210.7" r="1.65"/><circle cx="351.2" cy="217.4" r="1.65"/><circle cx="352.7" cy="188.3" r="1.65"/><circle cx="347.7" cy="98.0" r="1.65"/><circle cx="345.5" cy="128.3" r="1.65"/><circle cx="351.2" cy="170.7" r="1.65"/><circle cx="357.5" cy="66.0" r="1.65"/><circle cx="344.5" cy="207.1" r="1.65"/><circle cx="353.6" cy="214.0" r="1.65"/><circle cx="347.4" cy="120.5" r="1.65"/><circle cx="343.8" cy="206.3" r="1.65"/><circle cx="345.6" cy="204.2" r="1.65"/><circle cx="357.2" cy="212.5" r="1.65"/><circle cx="345.1" cy="220.6" r="1.65"/><circle cx="354.3" cy="220.6" r="1.65"/><circle cx="353.7" cy="218.7" r="1.65"/><circle cx="356.1" cy="220.6" r="1.65"/><circle cx="353.7" cy="220.6" r="1.65"/><circle cx="346.6" cy="209.1" r="1.65"/><circle cx="349.9" cy="191.1" r="1.65"/><circle cx="352.4" cy="126.1" r="1.65"/><circle cx="346.7" cy="67.1" r="1.65"/><circle cx="357.7" cy="168.5" r="1.65"/><circle cx="349.8" cy="208.6" r="1.65"/><circle cx="353.4" cy="120.8" r="1.65"/><circle cx="353.9" cy="220.6" r="1.65"/><circle cx="356.3" cy="220.6" r="1.65"/><circle cx="346.8" cy="220.6" r="1.65"/><circle cx="353.7" cy="152.7" r="1.65"/><circle cx="351.4" cy="220.6" r="1.65"/><circle cx="344.1" cy="174.3" r="1.65"/><circle cx="352.3" cy="207.0" r="1.65"/><circle cx="344.9" cy="108.8" r="1.65"/><circle cx="346.0" cy="220.6" r="1.65"/><circle cx="353.7" cy="217.6" r="1.65"/><circle cx="347.7" cy="211.1" r="1.65"/><circle cx="348.7" cy="177.8" r="1.65"/><circle cx="347.3" cy="220.6" r="1.65"/><circle cx="352.2" cy="220.6" r="1.65"/><circle cx="355.9" cy="218.1" r="1.65"/><circle cx="348.0" cy="191.7" r="1.65"/><circle cx="352.6" cy="100.2" r="1.65"/><circle cx="350.8" cy="162.1" r="1.65"/><circle cx="350.9" cy="199.1" r="1.65"/><circle cx="351.3" cy="191.8" r="1.65"/><circle cx="346.7" cy="134.3" r="1.65"/><circle cx="343.9" cy="220.6" r="1.65"/><circle cx="347.6" cy="131.6" r="1.65"/><circle cx="355.8" cy="220.6" r="1.65"/><circle cx="354.4" cy="158.3" r="1.65"/><circle cx="351.6" cy="193.6" r="1.65"/><circle cx="357.0" cy="102.5" r="1.65"/><circle cx="347.1" cy="118.1" r="1.65"/><circle cx="351.0" cy="71.3" r="1.65"/><circle cx="351.0" cy="212.7" r="1.65"/><circle cx="358.1" cy="66.2" r="1.65"/><circle cx="349.2" cy="220.6" r="1.65"/><circle cx="351.7" cy="165.3" r="1.65"/><circle cx="354.7" cy="82.1" r="1.65"/><circle cx="346.0" cy="172.9" r="1.65"/><circle cx="353.4" cy="192.4" r="1.65"/><circle cx="351.4" cy="220.6" r="1.65"/><circle cx="352.7" cy="209.2" r="1.65"/><circle cx="353.1" cy="220.6" r="1.65"/><circle cx="354.7" cy="220.6" r="1.65"/><circle cx="351.7" cy="209.5" r="1.65"/><circle cx="347.3" cy="220.6" r="1.65"/><circle cx="354.6" cy="125.4" r="1.65"/><circle cx="355.2" cy="220.6" r="1.65"/><circle cx="343.8" cy="220.6" r="1.65"/><circle cx="357.6" cy="220.6" r="1.65"/><circle cx="355.7" cy="211.2" r="1.65"/><circle cx="352.5" cy="220.6" r="1.65"/><circle cx="351.7" cy="83.5" r="1.65"/><circle cx="347.1" cy="203.1" r="1.65"/><circle cx="350.7" cy="153.2" r="1.65"/><circle cx="347.5" cy="72.1" r="1.65"/><circle cx="344.4" cy="89.7" r="1.65"/><circle cx="347.7" cy="220.6" r="1.65"/><circle cx="357.9" cy="114.9" r="1.65"/><circle cx="349.1" cy="160.5" r="1.65"/><circle cx="344.3" cy="152.9" r="1.65"/><circle cx="351.3" cy="188.7" r="1.65"/><circle cx="357.9" cy="220.6" r="1.65"/><circle cx="345.6" cy="204.6" r="1.65"/><circle cx="346.1" cy="172.8" r="1.65"/><circle cx="354.7" cy="187.6" r="1.65"/><circle cx="346.2" cy="177.2" r="1.65"/><circle cx="356.2" cy="151.7" r="1.65"/><circle cx="350.3" cy="220.6" r="1.65"/><circle cx="354.4" cy="115.1" r="1.65"/><circle cx="344.2" cy="143.8" r="1.65"/><circle cx="345.8" cy="121.6" r="1.65"/><circle cx="356.4" cy="220.6" r="1.65"/><circle cx="344.1" cy="203.3" r="1.65"/><circle cx="357.0" cy="114.3" r="1.65"/><circle cx="347.6" cy="220.6" r="1.65"/><circle cx="346.4" cy="220.6" r="1.65"/><circle cx="345.9" cy="165.2" r="1.65"/><circle cx="345.6" cy="182.0" r="1.65"/><circle cx="349.1" cy="176.7" r="1.65"/><circle cx="352.5" cy="191.0" r="1.65"/><circle cx="343.5" cy="220.6" r="1.65"/><circle cx="349.2" cy="100.0" r="1.65"/><circle cx="345.4" cy="181.0" r="1.65"/><circle cx="348.9" cy="203.0" r="1.65"/><circle cx="344.0" cy="154.6" r="1.65"/><circle cx="354.5" cy="216.1" r="1.65"/><circle cx="357.1" cy="135.8" r="1.65"/><circle cx="356.0" cy="220.6" r="1.65"/><circle cx="357.9" cy="142.3" r="1.65"/><circle cx="348.8" cy="149.2" r="1.65"/><circle cx="356.7" cy="170.8" r="1.65"/><circle cx="358.2" cy="175.3" r="1.65"/><circle cx="357.6" cy="116.8" r="1.65"/><circle cx="351.7" cy="220.6" r="1.65"/><circle cx="344.3" cy="220.6" r="1.65"/><circle cx="348.2" cy="167.0" r="1.65"/><circle cx="350.0" cy="170.6" r="1.65"/><circle cx="347.3" cy="110.6" r="1.65"/><circle cx="346.2" cy="205.4" r="1.65"/><circle cx="351.6" cy="113.4" r="1.65"/><circle cx="343.4" cy="63.7" r="1.65"/><circle cx="347.5" cy="220.6" r="1.65"/><circle cx="344.4" cy="66.0" r="1.65"/><circle cx="350.5" cy="153.1" r="1.65"/><circle cx="357.2" cy="152.0" r="1.65"/><circle cx="349.3" cy="198.1" r="1.65"/><circle cx="350.3" cy="212.3" r="1.65"/><circle cx="355.0" cy="158.0" r="1.65"/><circle cx="352.5" cy="72.7" r="1.65"/><circle cx="349.5" cy="220.6" r="1.65"/><circle cx="351.9" cy="220.6" r="1.65"/><circle cx="344.3" cy="159.7" r="1.65"/><circle cx="350.2" cy="220.6" r="1.65"/><circle cx="351.5" cy="121.9" r="1.65"/><circle cx="345.1" cy="110.9" r="1.65"/><circle cx="346.8" cy="165.0" r="1.65"/><circle cx="344.3" cy="220.6" r="1.65"/><circle cx="352.3" cy="182.6" r="1.65"/><circle cx="345.2" cy="122.0" r="1.65"/><circle cx="356.5" cy="160.3" r="1.65"/><circle cx="356.2" cy="179.0" r="1.65"/><circle cx="347.6" cy="159.3" r="1.65"/><circle cx="350.3" cy="139.2" r="1.65"/><circle cx="347.3" cy="220.6" r="1.65"/><circle cx="351.0" cy="171.4" r="1.65"/><circle cx="352.4" cy="220.6" r="1.65"/><circle cx="355.1" cy="158.5" r="1.65"/><circle cx="350.9" cy="215.3" r="1.65"/><circle cx="357.0" cy="129.0" r="1.65"/><circle cx="350.5" cy="189.8" r="1.65"/><circle cx="344.1" cy="206.5" r="1.65"/><circle cx="353.4" cy="200.9" r="1.65"/><circle cx="349.7" cy="220.6" r="1.65"/><circle cx="350.0" cy="171.3" r="1.65"/><circle cx="356.5" cy="214.7" r="1.65"/><circle cx="356.5" cy="63.7" r="1.65"/><circle cx="345.4" cy="189.9" r="1.65"/><circle cx="344.4" cy="99.1" r="1.65"/><circle cx="350.0" cy="159.6" r="1.65"/><circle cx="357.2" cy="170.8" r="1.65"/><circle cx="354.9" cy="209.4" r="1.65"/><circle cx="353.0" cy="220.6" r="1.65"/><circle cx="355.1" cy="191.6" r="1.65"/><circle cx="352.3" cy="220.6" r="1.65"/><circle cx="357.0" cy="191.6" r="1.65"/><circle cx="344.5" cy="220.6" r="1.65"/><circle cx="352.5" cy="87.6" r="1.65"/><circle cx="356.8" cy="211.3" r="1.65"/><circle cx="350.9" cy="132.1" r="1.65"/><circle cx="357.5" cy="220.6" r="1.65"/><circle cx="351.6" cy="107.9" r="1.65"/><circle cx="354.4" cy="211.7" r="1.65"/><circle cx="349.6" cy="144.4" r="1.65"/><circle cx="350.3" cy="156.2" r="1.65"/><circle cx="345.9" cy="220.6" r="1.65"/><circle cx="352.9" cy="121.2" r="1.65"/><circle cx="346.0" cy="205.5" r="1.65"/><circle cx="345.3" cy="70.3" r="1.65"/><circle cx="352.5" cy="155.2" r="1.65"/><circle cx="356.4" cy="140.8" r="1.65"/><circle cx="353.0" cy="71.7" r="1.65"/><circle cx="348.8" cy="204.2" r="1.65"/><circle cx="348.6" cy="164.1" r="1.65"/><circle cx="353.4" cy="114.2" r="1.65"/><circle cx="352.9" cy="115.3" r="1.65"/><circle cx="344.9" cy="220.4" r="1.65"/><circle cx="347.9" cy="130.9" r="1.65"/><circle cx="345.5" cy="203.7" r="1.65"/><circle cx="344.6" cy="165.5" r="1.65"/><circle cx="346.7" cy="220.0" r="1.65"/><circle cx="350.4" cy="103.5" r="1.65"/><circle cx="349.7" cy="220.6" r="1.65"/><circle cx="343.8" cy="216.9" r="1.65"/><circle cx="348.2" cy="165.4" r="1.65"/><circle cx="344.5" cy="220.6" r="1.65"/><circle cx="343.6" cy="133.1" r="1.65"/><circle cx="348.1" cy="193.8" r="1.65"/><circle cx="348.6" cy="220.6" r="1.65"/><circle cx="357.1" cy="71.0" r="1.65"/><circle cx="345.3" cy="106.8" r="1.65"/><circle cx="351.6" cy="127.6" r="1.65"/><circle cx="349.5" cy="220.6" r="1.65"/><circle cx="352.0" cy="220.6" r="1.65"/><circle cx="354.6" cy="96.7" r="1.65"/><circle cx="354.9" cy="164.3" r="1.65"/><circle cx="351.2" cy="160.5" r="1.65"/><circle cx="354.0" cy="199.0" r="1.65"/><circle cx="355.1" cy="157.4" r="1.65"/><circle cx="345.5" cy="121.6" r="1.65"/></g><line x1="404.4" x2="404.4" y1="77.82" y2="160.66" stroke="#666" stroke-width="0.7"/><rect x="384.10" y="160.66" width="40.60" height="57.90" fill="#bd86cc" stroke="#555" stroke-width="0.7"/><line x1="384.10" x2="424.70" y1="191.26" y2="191.26" stroke="#333" stroke-width="1.3"/><g fill="#7b1596"><circle cx="407.4" cy="194.0" r="1.65"/><circle cx="403.0" cy="219.4" r="1.65"/><circle cx="407.7" cy="215.9" r="1.65"/><circle cx="407.3" cy="178.8" r="1.65"/><circle cx="399.9" cy="219.4" r="1.65"/><circle cx="409.6" cy="135.3" r="1.65"/><circle cx="402.5" cy="220.0" r="1.65"/><circle cx="397.8" cy="201.7" r="1.65"/><circle cx="405.0" cy="220.1" r="1.65"/><circle cx="411.5" cy="219.9" r="1.65"/><circle cx="399.5" cy="219.7" r="1.65"/><circle cx="399.9" cy="211.7" r="1.65"/><circle cx="400.0" cy="167.2" r="1.65"/><circle cx="403.7" cy="150.0" r="1.65"/><circle cx="403.2" cy="179.5" r="1.65"/><circle cx="411.8" cy="220.4" r="1.65"/><circle cx="402.8" cy="106.0" r="1.65"/><circle cx="407.5" cy="206.2" r="1.65"/><circle cx="402.9" cy="219.7" r="1.65"/><circle cx="404.9" cy="189.9" r="1.65"/><circle cx="403.9" cy="220.4" r="1.65"/><circle cx="403.8" cy="188.9" r="1.65"/><circle cx="399.0" cy="203.5" r="1.65"/><circle cx="407.8" cy="185.1" r="1.65"/><circle cx="402.6" cy="220.3" r="1.65"/><circle cx="404.3" cy="174.5" r="1.65"/><circle cx="404.5" cy="218.9" r="1.65"/><circle cx="411.6" cy="126.7" r="1.65"/><circle cx="402.9" cy="219.2" r="1.65"/><circle cx="411.0" cy="219.1" r="1.65"/><circle cx="408.9" cy="220.5" r="1.65"/><circle cx="397.6" cy="208.5" r="1.65"/><circle cx="412.1" cy="220.3" r="1.65"/><circle cx="397.9" cy="71.1" r="1.65"/><circle cx="409.8" cy="210.6" r="1.65"/><circle cx="405.3" cy="174.2" r="1.65"/><circle cx="401.4" cy="193.7" r="1.65"/><circle cx="399.9" cy="128.6" r="1.65"/><circle cx="401.6" cy="214.0" r="1.65"/><circle cx="407.8" cy="129.1" r="1.65"/><circle cx="401.7" cy="166.2" r="1.65"/><circle cx="407.8" cy="218.0" r="1.65"/><circle cx="403.7" cy="219.5" r="1.65"/><circle cx="412.0" cy="218.6" r="1.65"/><circle cx="411.1" cy="183.9" r="1.65"/><circle cx="403.7" cy="124.0" r="1.65"/><circle cx="409.2" cy="180.4" r="1.65"/><circle cx="403.0" cy="181.4" r="1.65"/><circle cx="397.8" cy="162.4" r="1.65"/><circle cx="409.3" cy="165.5" r="1.65"/><circle cx="405.4" cy="136.6" r="1.65"/><circle cx="399.0" cy="154.3" r="1.65"/><circle cx="411.3" cy="207.3" r="1.65"/><circle cx="406.7" cy="168.1" r="1.65"/><circle cx="407.9" cy="219.6" r="1.65"/><circle cx="403.5" cy="202.8" r="1.65"/><circle cx="399.6" cy="210.5" r="1.65"/><circle cx="407.8" cy="219.9" r="1.65"/><circle cx="411.3" cy="159.1" r="1.65"/><circle cx="404.7" cy="205.9" r="1.65"/><circle cx="407.4" cy="197.4" r="1.65"/><circle cx="402.3" cy="208.6" r="1.65"/><circle cx="402.8" cy="129.1" r="1.65"/><circle cx="403.9" cy="215.3" r="1.65"/><circle cx="404.9" cy="218.8" r="1.65"/><circle cx="404.4" cy="167.0" r="1.65"/><circle cx="401.2" cy="178.2" r="1.65"/><circle cx="409.8" cy="195.7" r="1.65"/><circle cx="408.8" cy="218.7" r="1.65"/><circle cx="407.3" cy="202.7" r="1.65"/><circle cx="407.6" cy="110.9" r="1.65"/><circle cx="402.3" cy="207.6" r="1.65"/><circle cx="402.0" cy="191.3" r="1.65"/><circle cx="405.6" cy="219.5" r="1.65"/><circle cx="409.4" cy="218.4" r="1.65"/><circle cx="406.4" cy="214.7" r="1.65"/><circle cx="410.8" cy="203.4" r="1.65"/><circle cx="407.0" cy="210.8" r="1.65"/><circle cx="409.1" cy="145.6" r="1.65"/><circle cx="401.4" cy="200.8" r="1.65"/><circle cx="403.2" cy="201.4" r="1.65"/><circle cx="400.0" cy="202.2" r="1.65"/><circle cx="411.9" cy="218.9" r="1.65"/><circle cx="409.9" cy="188.5" r="1.65"/><circle cx="402.8" cy="140.5" r="1.65"/><circle cx="399.5" cy="162.5" r="1.65"/><circle cx="400.6" cy="141.9" r="1.65"/><circle cx="402.1" cy="139.5" r="1.65"/><circle cx="399.9" cy="220.5" r="1.65"/><circle cx="400.3" cy="164.8" r="1.65"/><circle cx="410.3" cy="219.1" r="1.65"/><circle cx="407.6" cy="178.2" r="1.65"/><circle cx="405.3" cy="186.8" r="1.65"/><circle cx="405.0" cy="172.7" r="1.65"/><circle cx="406.9" cy="174.7" r="1.65"/><circle cx="405.1" cy="203.4" r="1.65"/><circle cx="411.2" cy="164.9" r="1.65"/><circle cx="407.7" cy="192.2" r="1.65"/><circle cx="403.8" cy="127.1" r="1.65"/><circle cx="408.7" cy="201.5" r="1.65"/><circle cx="398.4" cy="146.2" r="1.65"/><circle cx="398.3" cy="219.7" r="1.65"/><circle cx="399.2" cy="220.5" r="1.65"/><circle cx="411.8" cy="168.6" r="1.65"/><circle cx="411.6" cy="125.8" r="1.65"/><circle cx="411.2" cy="220.4" r="1.65"/><circle cx="408.7" cy="193.9" r="1.65"/><circle cx="402.2" cy="199.6" r="1.65"/><circle cx="406.5" cy="218.6" r="1.65"/><circle cx="408.8" cy="127.6" r="1.65"/><circle cx="401.9" cy="130.8" r="1.65"/><circle cx="407.4" cy="132.4" r="1.65"/><circle cx="404.6" cy="220.5" r="1.65"/><circle cx="408.7" cy="163.0" r="1.65"/><circle cx="410.3" cy="208.8" r="1.65"/><circle cx="400.4" cy="87.0" r="1.65"/><circle cx="402.9" cy="176.0" r="1.65"/><circle cx="406.6" cy="218.7" r="1.65"/><circle cx="411.6" cy="219.6" r="1.65"/><circle cx="403.7" cy="161.3" r="1.65"/><circle cx="406.9" cy="219.8" r="1.65"/><circle cx="406.3" cy="219.2" r="1.65"/><circle cx="402.1" cy="181.8" r="1.65"/><circle cx="402.4" cy="207.1" r="1.65"/><circle cx="400.1" cy="191.0" r="1.65"/><circle cx="402.3" cy="202.2" r="1.65"/><circle cx="411.4" cy="205.8" r="1.65"/><circle cx="407.2" cy="213.4" r="1.65"/><circle cx="407.1" cy="202.5" r="1.65"/><circle cx="399.0" cy="220.0" r="1.65"/><circle cx="412.1" cy="218.5" r="1.65"/><circle cx="404.0" cy="170.0" r="1.65"/><circle cx="401.0" cy="215.0" r="1.65"/><circle cx="406.9" cy="219.0" r="1.65"/><circle cx="411.7" cy="180.3" r="1.65"/><circle cx="403.3" cy="195.8" r="1.65"/><circle cx="408.1" cy="195.0" r="1.65"/><circle cx="405.3" cy="160.4" r="1.65"/><circle cx="407.3" cy="163.5" r="1.65"/><circle cx="402.8" cy="177.0" r="1.65"/><circle cx="410.7" cy="212.4" r="1.65"/><circle cx="411.8" cy="154.2" r="1.65"/><circle cx="409.9" cy="135.8" r="1.65"/><circle cx="401.3" cy="199.9" r="1.65"/><circle cx="398.2" cy="200.7" r="1.65"/><circle cx="399.8" cy="219.6" r="1.65"/><circle cx="403.1" cy="219.6" r="1.65"/><circle cx="411.3" cy="192.3" r="1.65"/><circle cx="410.2" cy="219.4" r="1.65"/><circle cx="405.3" cy="134.7" r="1.65"/><circle cx="411.0" cy="205.8" r="1.65"/><circle cx="409.2" cy="158.2" r="1.65"/><circle cx="410.9" cy="217.4" r="1.65"/><circle cx="400.2" cy="219.7" r="1.65"/><circle cx="407.0" cy="146.4" r="1.65"/><circle cx="404.8" cy="198.3" r="1.65"/><circle cx="398.6" cy="206.6" r="1.65"/><circle cx="405.8" cy="132.9" r="1.65"/><circle cx="405.6" cy="145.6" r="1.65"/><circle cx="403.0" cy="185.9" r="1.65"/><circle cx="409.3" cy="136.2" r="1.65"/><circle cx="412.2" cy="187.9" r="1.65"/><circle cx="409.3" cy="218.8" r="1.65"/><circle cx="409.0" cy="161.1" r="1.65"/><circle cx="407.1" cy="169.6" r="1.65"/><circle cx="398.7" cy="206.2" r="1.65"/><circle cx="411.9" cy="219.6" r="1.65"/><circle cx="399.5" cy="219.5" r="1.65"/><circle cx="400.1" cy="118.7" r="1.65"/><circle cx="412.0" cy="148.2" r="1.65"/><circle cx="407.3" cy="218.8" r="1.65"/><circle cx="407.9" cy="215.0" r="1.65"/><circle cx="408.6" cy="160.4" r="1.65"/><circle cx="403.9" cy="214.7" r="1.65"/><circle cx="406.7" cy="219.2" r="1.65"/><circle cx="404.8" cy="206.8" r="1.65"/><circle cx="405.9" cy="200.6" r="1.65"/><circle cx="412.1" cy="186.5" r="1.65"/><circle cx="410.4" cy="135.5" r="1.65"/><circle cx="398.4" cy="211.4" r="1.65"/><circle cx="407.3" cy="211.1" r="1.65"/><circle cx="399.3" cy="166.0" r="1.65"/><circle cx="400.1" cy="126.5" r="1.65"/><circle cx="407.6" cy="198.8" r="1.65"/><circle cx="404.0" cy="71.2" r="1.65"/><circle cx="398.3" cy="134.4" r="1.65"/><circle cx="407.3" cy="126.6" r="1.65"/><circle cx="400.7" cy="193.4" r="1.65"/><circle cx="404.6" cy="220.0" r="1.65"/><circle cx="405.1" cy="136.8" r="1.65"/><circle cx="409.0" cy="170.0" r="1.65"/><circle cx="410.0" cy="166.0" r="1.65"/><circle cx="400.0" cy="169.5" r="1.65"/><circle cx="399.8" cy="194.4" r="1.65"/><circle cx="400.1" cy="219.0" r="1.65"/><circle cx="412.1" cy="176.1" r="1.65"/><circle cx="403.9" cy="168.7" r="1.65"/><circle cx="411.8" cy="203.1" r="1.65"/><circle cx="407.1" cy="134.0" r="1.65"/><circle cx="400.0" cy="219.4" r="1.65"/><circle cx="400.0" cy="210.4" r="1.65"/><circle cx="404.7" cy="218.7" r="1.65"/><circle cx="398.8" cy="137.9" r="1.65"/><circle cx="407.8" cy="130.0" r="1.65"/><circle cx="412.0" cy="184.4" r="1.65"/><circle cx="399.7" cy="191.8" r="1.65"/><circle cx="401.2" cy="215.8" r="1.65"/><circle cx="398.7" cy="142.8" r="1.65"/><circle cx="411.5" cy="219.3" r="1.65"/><circle cx="403.8" cy="139.8" r="1.65"/><circle cx="399.4" cy="220.3" r="1.65"/><circle cx="410.3" cy="219.0" r="1.65"/><circle cx="410.9" cy="219.1" r="1.65"/><circle cx="399.6" cy="220.5" r="1.65"/><circle cx="404.0" cy="213.2" r="1.65"/><circle cx="405.4" cy="132.7" r="1.65"/><circle cx="401.9" cy="219.9" r="1.65"/><circle cx="397.9" cy="153.5" r="1.65"/><circle cx="399.7" cy="209.4" r="1.65"/><circle cx="410.7" cy="219.9" r="1.65"/><circle cx="399.3" cy="217.1" r="1.65"/><circle cx="406.3" cy="171.9" r="1.65"/><circle cx="404.0" cy="161.6" r="1.65"/><circle cx="411.6" cy="95.3" r="1.65"/><circle cx="399.1" cy="134.0" r="1.65"/><circle cx="410.6" cy="216.0" r="1.65"/><circle cx="404.6" cy="217.8" r="1.65"/><circle cx="397.6" cy="220.6" r="1.65"/><circle cx="407.6" cy="218.7" r="1.65"/><circle cx="403.3" cy="142.2" r="1.65"/><circle cx="407.7" cy="167.2" r="1.65"/><circle cx="399.8" cy="219.8" r="1.65"/><circle cx="408.5" cy="197.2" r="1.65"/><circle cx="401.9" cy="148.2" r="1.65"/><circle cx="410.4" cy="163.4" r="1.65"/><circle cx="402.1" cy="211.4" r="1.65"/><circle cx="399.5" cy="165.1" r="1.65"/><circle cx="406.7" cy="220.1" r="1.65"/><circle cx="404.3" cy="63.7" r="1.65"/><circle cx="402.6" cy="207.0" r="1.65"/><circle cx="401.4" cy="219.7" r="1.65"/><circle cx="411.2" cy="220.1" r="1.65"/><circle cx="409.5" cy="164.5" r="1.65"/><circle cx="399.1" cy="162.1" r="1.65"/><circle cx="408.2" cy="96.1" r="1.65"/><circle cx="405.4" cy="219.4" r="1.65"/><circle cx="411.8" cy="219.9" r="1.65"/><circle cx="398.7" cy="176.2" r="1.65"/><circle cx="404.6" cy="160.6" r="1.65"/><circle cx="404.9" cy="219.5" r="1.65"/><circle cx="399.7" cy="199.2" r="1.65"/><circle cx="398.4" cy="197.3" r="1.65"/><circle cx="408.4" cy="194.1" r="1.65"/><circle cx="411.6" cy="157.8" r="1.65"/><circle cx="403.6" cy="219.2" r="1.65"/><circle cx="398.1" cy="220.0" r="1.65"/><circle cx="412.1" cy="97.5" r="1.65"/><circle cx="411.8" cy="220.1" r="1.65"/><circle cx="407.1" cy="156.1" r="1.65"/><circle cx="406.1" cy="193.2" r="1.65"/><circle cx="406.8" cy="185.4" r="1.65"/><circle cx="408.9" cy="180.7" r="1.65"/><circle cx="401.0" cy="209.8" r="1.65"/><circle cx="408.3" cy="193.3" r="1.65"/><circle cx="400.2" cy="220.0" r="1.65"/><circle cx="405.8" cy="176.6" r="1.65"/><circle cx="400.8" cy="139.2" r="1.65"/><circle cx="404.0" cy="179.4" r="1.65"/><circle cx="402.6" cy="219.1" r="1.65"/><circle cx="407.6" cy="94.8" r="1.65"/><circle cx="397.8" cy="132.2" r="1.65"/><circle cx="411.5" cy="131.7" r="1.65"/><circle cx="408.1" cy="154.3" r="1.65"/><circle cx="406.8" cy="183.6" r="1.65"/><circle cx="407.8" cy="196.0" r="1.65"/><circle cx="407.9" cy="220.6" r="1.65"/><circle cx="405.5" cy="141.7" r="1.65"/><circle cx="410.8" cy="219.4" r="1.65"/><circle cx="399.3" cy="220.1" r="1.65"/><circle cx="397.9" cy="203.9" r="1.65"/><circle cx="403.2" cy="197.0" r="1.65"/><circle cx="411.5" cy="219.2" r="1.65"/><circle cx="406.9" cy="219.7" r="1.65"/><circle cx="407.7" cy="215.3" r="1.65"/><circle cx="411.2" cy="218.9" r="1.65"/><circle cx="404.2" cy="218.9" r="1.65"/><circle cx="408.8" cy="156.1" r="1.65"/><circle cx="398.9" cy="175.8" r="1.65"/><circle cx="408.7" cy="182.2" r="1.65"/><circle cx="403.2" cy="204.8" r="1.65"/><circle cx="407.4" cy="147.4" r="1.65"/><circle cx="401.4" cy="220.1" r="1.65"/><circle cx="411.5" cy="193.0" r="1.65"/><circle cx="401.0" cy="63.7" r="1.65"/><circle cx="409.6" cy="191.1" r="1.65"/><circle cx="410.2" cy="219.9" r="1.65"/><circle cx="402.0" cy="189.5" r="1.65"/><circle cx="411.7" cy="219.4" r="1.65"/><circle cx="406.4" cy="137.8" r="1.65"/><circle cx="399.0" cy="193.8" r="1.65"/><circle cx="406.2" cy="160.0" r="1.65"/><circle cx="406.6" cy="176.2" r="1.65"/><circle cx="403.0" cy="219.1" r="1.65"/><circle cx="412.0" cy="183.5" r="1.65"/><circle cx="402.2" cy="219.8" r="1.65"/><circle cx="411.0" cy="144.9" r="1.65"/><circle cx="408.8" cy="153.6" r="1.65"/><circle cx="401.9" cy="169.3" r="1.65"/><circle cx="403.4" cy="219.5" r="1.65"/><circle cx="412.1" cy="213.0" r="1.65"/><circle cx="400.9" cy="219.4" r="1.65"/><circle cx="408.9" cy="154.0" r="1.65"/><circle cx="410.1" cy="181.1" r="1.65"/><circle cx="411.7" cy="219.7" r="1.65"/><circle cx="407.5" cy="216.6" r="1.65"/><circle cx="403.7" cy="173.4" r="1.65"/><circle cx="400.1" cy="136.9" r="1.65"/><circle cx="406.4" cy="169.3" r="1.65"/><circle cx="401.8" cy="137.1" r="1.65"/><circle cx="399.4" cy="141.8" r="1.65"/><circle cx="409.7" cy="219.4" r="1.65"/><circle cx="400.4" cy="219.0" r="1.65"/><circle cx="406.0" cy="176.4" r="1.65"/><circle cx="406.8" cy="160.6" r="1.65"/><circle cx="409.1" cy="219.6" r="1.65"/><circle cx="406.4" cy="205.1" r="1.65"/><circle cx="402.0" cy="151.2" r="1.65"/><circle cx="403.8" cy="149.4" r="1.65"/><circle cx="406.0" cy="164.5" r="1.65"/><circle cx="402.1" cy="210.4" r="1.65"/><circle cx="406.6" cy="137.1" r="1.65"/><circle cx="400.1" cy="188.5" r="1.65"/><circle cx="402.6" cy="173.3" r="1.65"/><circle cx="407.1" cy="189.7" r="1.65"/><circle cx="399.9" cy="155.3" r="1.65"/><circle cx="402.2" cy="116.1" r="1.65"/><circle cx="400.7" cy="219.9" r="1.65"/><circle cx="401.6" cy="136.5" r="1.65"/><circle cx="400.8" cy="201.4" r="1.65"/><circle cx="403.8" cy="184.1" r="1.65"/><circle cx="399.0" cy="123.2" r="1.65"/><circle cx="401.6" cy="146.1" r="1.65"/><circle cx="400.8" cy="197.3" r="1.65"/><circle cx="407.2" cy="219.7" r="1.65"/><circle cx="410.2" cy="183.9" r="1.65"/><circle cx="410.6" cy="198.9" r="1.65"/><circle cx="403.8" cy="219.5" r="1.65"/><circle cx="401.1" cy="174.3" r="1.65"/><circle cx="401.9" cy="218.7" r="1.65"/><circle cx="408.3" cy="131.8" r="1.65"/><circle cx="406.0" cy="201.5" r="1.65"/><circle cx="399.3" cy="155.3" r="1.65"/><circle cx="403.5" cy="158.8" r="1.65"/><circle cx="410.8" cy="208.5" r="1.65"/><circle cx="398.8" cy="218.9" r="1.65"/><circle cx="410.9" cy="189.4" r="1.65"/><circle cx="411.3" cy="171.2" r="1.65"/><circle cx="410.8" cy="140.9" r="1.65"/><circle cx="408.9" cy="146.7" r="1.65"/><circle cx="397.6" cy="220.4" r="1.65"/><circle cx="405.1" cy="199.4" r="1.65"/><circle cx="402.2" cy="208.8" r="1.65"/><circle cx="402.6" cy="171.5" r="1.65"/><circle cx="397.8" cy="172.7" r="1.65"/><circle cx="405.2" cy="195.7" r="1.65"/><circle cx="412.0" cy="163.0" r="1.65"/><circle cx="406.8" cy="188.2" r="1.65"/><circle cx="411.2" cy="150.3" r="1.65"/><circle cx="410.9" cy="89.5" r="1.65"/><circle cx="410.7" cy="206.1" r="1.65"/><circle cx="405.8" cy="148.3" r="1.65"/><circle cx="398.4" cy="220.5" r="1.65"/><circle cx="406.5" cy="188.0" r="1.65"/><circle cx="408.9" cy="219.3" r="1.65"/><circle cx="412.1" cy="181.5" r="1.65"/><circle cx="408.1" cy="220.4" r="1.65"/><circle cx="410.9" cy="181.3" r="1.65"/><circle cx="401.2" cy="219.8" r="1.65"/><circle cx="406.8" cy="179.1" r="1.65"/><circle cx="403.8" cy="152.4" r="1.65"/><circle cx="411.0" cy="184.4" r="1.65"/><circle cx="409.9" cy="203.3" r="1.65"/><circle cx="408.0" cy="147.1" r="1.65"/><circle cx="409.0" cy="187.4" r="1.65"/><circle cx="405.8" cy="176.5" r="1.65"/><circle cx="409.8" cy="170.6" r="1.65"/><circle cx="401.8" cy="161.7" r="1.65"/><circle cx="402.5" cy="171.5" r="1.65"/><circle cx="409.9" cy="213.4" r="1.65"/><circle cx="401.3" cy="215.7" r="1.65"/><circle cx="410.3" cy="184.3" r="1.65"/><circle cx="409.9" cy="220.0" r="1.65"/><circle cx="404.1" cy="153.5" r="1.65"/><circle cx="402.2" cy="80.8" r="1.65"/><circle cx="398.5" cy="161.4" r="1.65"/><circle cx="412.2" cy="136.7" r="1.65"/><circle cx="404.6" cy="196.5" r="1.65"/><circle cx="400.1" cy="136.1" r="1.65"/><circle cx="406.5" cy="220.4" r="1.65"/><circle cx="403.2" cy="219.7" r="1.65"/><circle cx="406.8" cy="220.2" r="1.65"/><circle cx="401.4" cy="218.7" r="1.65"/><circle cx="410.1" cy="206.0" r="1.65"/><circle cx="398.9" cy="220.2" r="1.65"/><circle cx="408.6" cy="113.0" r="1.65"/><circle cx="407.7" cy="189.5" r="1.65"/><circle cx="411.0" cy="219.4" r="1.65"/><circle cx="398.3" cy="218.8" r="1.65"/><circle cx="398.1" cy="165.1" r="1.65"/><circle cx="404.8" cy="142.5" r="1.65"/><circle cx="402.3" cy="189.5" r="1.65"/><circle cx="401.3" cy="192.2" r="1.65"/><circle cx="401.4" cy="218.7" r="1.65"/><circle cx="411.2" cy="219.8" r="1.65"/><circle cx="410.4" cy="218.9" r="1.65"/><circle cx="397.6" cy="210.8" r="1.65"/><circle cx="404.8" cy="219.5" r="1.65"/><circle cx="401.5" cy="142.3" r="1.65"/><circle cx="404.6" cy="202.9" r="1.65"/><circle cx="406.1" cy="167.8" r="1.65"/><circle cx="402.2" cy="72.4" r="1.65"/><circle cx="399.1" cy="173.5" r="1.65"/><circle cx="406.7" cy="151.1" r="1.65"/><circle cx="409.9" cy="183.8" r="1.65"/><circle cx="408.4" cy="189.4" r="1.65"/><circle cx="402.7" cy="209.4" r="1.65"/><circle cx="411.6" cy="177.1" r="1.65"/><circle cx="399.9" cy="176.4" r="1.65"/><circle cx="399.7" cy="147.6" r="1.65"/><circle cx="408.4" cy="181.7" r="1.65"/><circle cx="411.6" cy="219.1" r="1.65"/><circle cx="403.3" cy="219.2" r="1.65"/><circle cx="402.1" cy="219.5" r="1.65"/><circle cx="406.9" cy="185.3" r="1.65"/><circle cx="410.1" cy="205.0" r="1.65"/><circle cx="401.3" cy="161.7" r="1.65"/><circle cx="408.8" cy="190.1" r="1.65"/><circle cx="399.8" cy="63.7" r="1.65"/><circle cx="405.1" cy="75.4" r="1.65"/><circle cx="409.7" cy="219.7" r="1.65"/><circle cx="398.6" cy="212.0" r="1.65"/><circle cx="404.1" cy="212.4" r="1.65"/><circle cx="401.0" cy="220.5" r="1.65"/><circle cx="410.3" cy="147.5" r="1.65"/><circle cx="410.8" cy="192.0" r="1.65"/><circle cx="407.9" cy="159.7" r="1.65"/><circle cx="401.3" cy="130.1" r="1.65"/><circle cx="400.9" cy="162.6" r="1.65"/><circle cx="409.3" cy="203.9" r="1.65"/><circle cx="401.1" cy="220.2" r="1.65"/><circle cx="404.3" cy="219.6" r="1.65"/><circle cx="408.0" cy="196.4" r="1.65"/><circle cx="412.3" cy="219.1" r="1.65"/><circle cx="398.5" cy="209.5" r="1.65"/><circle cx="409.0" cy="187.0" r="1.65"/><circle cx="399.9" cy="201.2" r="1.65"/><circle cx="407.6" cy="82.9" r="1.65"/><circle cx="408.7" cy="218.8" r="1.65"/><circle cx="402.7" cy="173.3" r="1.65"/><circle cx="407.1" cy="150.7" r="1.65"/><circle cx="405.7" cy="166.0" r="1.65"/><circle cx="408.6" cy="132.3" r="1.65"/><circle cx="398.5" cy="164.0" r="1.65"/><circle cx="399.4" cy="167.6" r="1.65"/><circle cx="404.4" cy="135.0" r="1.65"/><circle cx="401.8" cy="212.3" r="1.65"/><circle cx="408.6" cy="177.5" r="1.65"/><circle cx="409.8" cy="219.4" r="1.65"/><circle cx="404.3" cy="188.3" r="1.65"/><circle cx="410.0" cy="200.0" r="1.65"/><circle cx="400.7" cy="135.4" r="1.65"/><circle cx="401.7" cy="175.4" r="1.65"/><circle cx="401.4" cy="204.7" r="1.65"/><circle cx="397.8" cy="177.7" r="1.65"/><circle cx="411.3" cy="220.2" r="1.65"/><circle cx="399.7" cy="181.7" r="1.65"/><circle cx="398.5" cy="184.2" r="1.65"/><circle cx="409.1" cy="209.4" r="1.65"/><circle cx="401.6" cy="183.4" r="1.65"/><circle cx="401.8" cy="203.0" r="1.65"/><circle cx="402.5" cy="80.8" r="1.65"/><circle cx="409.5" cy="175.4" r="1.65"/><circle cx="398.3" cy="188.2" r="1.65"/><circle cx="409.1" cy="220.0" r="1.65"/><circle cx="399.6" cy="166.7" r="1.65"/><circle cx="398.0" cy="181.5" r="1.65"/><circle cx="403.6" cy="176.6" r="1.65"/><circle cx="402.7" cy="207.3" r="1.65"/><circle cx="399.8" cy="218.9" r="1.65"/><circle cx="412.2" cy="102.1" r="1.65"/><circle cx="400.5" cy="176.8" r="1.65"/><circle cx="407.9" cy="165.0" r="1.65"/><circle cx="410.2" cy="218.9" r="1.65"/><circle cx="399.6" cy="214.5" r="1.65"/><circle cx="401.1" cy="171.0" r="1.65"/><circle cx="405.3" cy="220.0" r="1.65"/><circle cx="411.0" cy="150.6" r="1.65"/><circle cx="403.8" cy="218.6" r="1.65"/><circle cx="401.5" cy="170.9" r="1.65"/><circle cx="402.6" cy="215.2" r="1.65"/><circle cx="407.3" cy="163.3" r="1.65"/><circle cx="408.9" cy="220.2" r="1.65"/><circle cx="411.3" cy="96.6" r="1.65"/><circle cx="400.5" cy="202.6" r="1.65"/><circle cx="405.8" cy="218.4" r="1.65"/><circle cx="403.8" cy="217.9" r="1.65"/><circle cx="402.2" cy="218.8" r="1.65"/><circle cx="403.7" cy="220.3" r="1.65"/><circle cx="410.7" cy="176.9" r="1.65"/><circle cx="397.9" cy="220.0" r="1.65"/><circle cx="407.5" cy="212.2" r="1.65"/><circle cx="409.7" cy="219.9" r="1.65"/><circle cx="399.0" cy="133.2" r="1.65"/><circle cx="407.5" cy="208.7" r="1.65"/><circle cx="402.4" cy="129.4" r="1.65"/><circle cx="398.5" cy="218.8" r="1.65"/><circle cx="403.0" cy="142.3" r="1.65"/><circle cx="400.9" cy="218.8" r="1.65"/><circle cx="397.9" cy="201.6" r="1.65"/><circle cx="404.1" cy="207.3" r="1.65"/><circle cx="408.7" cy="130.5" r="1.65"/><circle cx="408.4" cy="144.8" r="1.65"/><circle cx="402.9" cy="163.1" r="1.65"/><circle cx="406.1" cy="144.6" r="1.65"/><circle cx="408.7" cy="128.4" r="1.65"/><circle cx="405.8" cy="219.1" r="1.65"/><circle cx="405.5" cy="151.7" r="1.65"/><circle cx="401.3" cy="161.3" r="1.65"/><circle cx="400.4" cy="219.8" r="1.65"/><circle cx="398.2" cy="183.8" r="1.65"/><circle cx="400.4" cy="130.3" r="1.65"/><circle cx="398.0" cy="216.1" r="1.65"/><circle cx="410.0" cy="219.3" r="1.65"/><circle cx="408.7" cy="220.1" r="1.65"/><circle cx="407.1" cy="175.7" r="1.65"/><circle cx="401.5" cy="165.4" r="1.65"/><circle cx="398.9" cy="175.1" r="1.65"/><circle cx="399.9" cy="173.8" r="1.65"/><circle cx="409.7" cy="210.1" r="1.65"/><circle cx="410.3" cy="184.0" r="1.65"/><circle cx="398.0" cy="147.9" r="1.65"/><circle cx="406.5" cy="180.5" r="1.65"/><circle cx="410.1" cy="219.8" r="1.65"/><circle cx="398.9" cy="219.1" r="1.65"/><circle cx="401.0" cy="219.4" r="1.65"/><circle cx="408.8" cy="202.9" r="1.65"/><circle cx="401.0" cy="156.5" r="1.65"/><circle cx="403.5" cy="217.4" r="1.65"/><circle cx="401.0" cy="219.7" r="1.65"/><circle cx="399.9" cy="174.9" r="1.65"/><circle cx="399.8" cy="160.4" r="1.65"/><circle cx="399.9" cy="218.9" r="1.65"/><circle cx="398.6" cy="124.1" r="1.65"/><circle cx="401.2" cy="219.0" r="1.65"/><circle cx="403.4" cy="178.0" r="1.65"/><circle cx="404.8" cy="185.2" r="1.65"/><circle cx="407.5" cy="204.4" r="1.65"/><circle cx="401.2" cy="200.4" r="1.65"/><circle cx="402.4" cy="219.8" r="1.65"/><circle cx="398.6" cy="143.5" r="1.65"/><circle cx="404.9" cy="219.7" r="1.65"/><circle cx="399.6" cy="127.9" r="1.65"/><circle cx="405.0" cy="219.1" r="1.65"/><circle cx="404.7" cy="145.5" r="1.65"/><circle cx="410.6" cy="219.9" r="1.65"/><circle cx="409.1" cy="182.1" r="1.65"/><circle cx="411.7" cy="206.8" r="1.65"/><circle cx="410.6" cy="194.8" r="1.65"/><circle cx="408.5" cy="135.3" r="1.65"/><circle cx="405.0" cy="69.4" r="1.65"/><circle cx="407.9" cy="129.9" r="1.65"/><circle cx="409.1" cy="218.9" r="1.65"/><circle cx="408.1" cy="220.0" r="1.65"/><circle cx="406.3" cy="131.9" r="1.65"/><circle cx="411.0" cy="202.0" r="1.65"/><circle cx="401.8" cy="156.0" r="1.65"/><circle cx="400.0" cy="119.5" r="1.65"/><circle cx="409.5" cy="218.7" r="1.65"/><circle cx="406.4" cy="216.6" r="1.65"/><circle cx="409.1" cy="170.9" r="1.65"/><circle cx="406.4" cy="219.8" r="1.65"/><circle cx="410.1" cy="135.8" r="1.65"/><circle cx="411.2" cy="143.5" r="1.65"/><circle cx="399.7" cy="112.7" r="1.65"/><circle cx="405.6" cy="214.4" r="1.65"/><circle cx="407.0" cy="195.0" r="1.65"/><circle cx="398.1" cy="132.5" r="1.65"/><circle cx="399.0" cy="214.5" r="1.65"/><circle cx="407.3" cy="204.3" r="1.65"/><circle cx="411.8" cy="195.8" r="1.65"/><circle cx="407.0" cy="138.8" r="1.65"/><circle cx="404.0" cy="79.4" r="1.65"/><circle cx="397.7" cy="85.8" r="1.65"/><circle cx="398.0" cy="184.0" r="1.65"/><circle cx="403.5" cy="139.8" r="1.65"/><circle cx="398.2" cy="130.5" r="1.65"/><circle cx="401.3" cy="220.1" r="1.65"/><circle cx="404.5" cy="171.2" r="1.65"/><circle cx="408.2" cy="147.1" r="1.65"/><circle cx="405.5" cy="218.9" r="1.65"/><circle cx="400.9" cy="206.5" r="1.65"/><circle cx="399.6" cy="163.9" r="1.65"/><circle cx="401.6" cy="215.4" r="1.65"/><circle cx="408.1" cy="219.3" r="1.65"/><circle cx="400.4" cy="220.6" r="1.65"/><circle cx="401.8" cy="191.3" r="1.65"/><circle cx="402.0" cy="145.9" r="1.65"/><circle cx="407.8" cy="220.6" r="1.65"/><circle cx="400.7" cy="132.1" r="1.65"/><circle cx="401.6" cy="178.4" r="1.65"/><circle cx="411.3" cy="220.1" r="1.65"/><circle cx="409.3" cy="208.7" r="1.65"/><circle cx="412.2" cy="219.0" r="1.65"/><circle cx="407.2" cy="219.0" r="1.65"/><circle cx="400.0" cy="164.3" r="1.65"/><circle cx="400.5" cy="136.5" r="1.65"/><circle cx="403.8" cy="154.3" r="1.65"/><circle cx="408.7" cy="217.2" r="1.65"/><circle cx="404.9" cy="219.6" r="1.65"/><circle cx="403.0" cy="144.5" r="1.65"/><circle cx="400.5" cy="183.3" r="1.65"/><circle cx="401.4" cy="219.6" r="1.65"/><circle cx="398.2" cy="219.2" r="1.65"/><circle cx="406.2" cy="217.8" r="1.65"/><circle cx="403.3" cy="138.7" r="1.65"/><circle cx="408.1" cy="155.4" r="1.65"/><circle cx="398.5" cy="163.7" r="1.65"/><circle cx="408.5" cy="213.1" r="1.65"/><circle cx="406.1" cy="145.3" r="1.65"/><circle cx="401.0" cy="186.6" r="1.65"/><circle cx="408.9" cy="78.3" r="1.65"/><circle cx="410.7" cy="148.5" r="1.65"/><circle cx="397.9" cy="155.4" r="1.65"/><circle cx="409.0" cy="210.7" r="1.65"/><circle cx="403.7" cy="220.3" r="1.65"/><circle cx="401.5" cy="219.8" r="1.65"/><circle cx="401.1" cy="170.3" r="1.65"/><circle cx="408.9" cy="150.6" r="1.65"/><circle cx="400.1" cy="219.5" r="1.65"/><circle cx="410.4" cy="218.6" r="1.65"/><circle cx="402.5" cy="190.8" r="1.65"/><circle cx="401.8" cy="220.1" r="1.65"/><circle cx="412.3" cy="213.8" r="1.65"/><circle cx="400.9" cy="187.2" r="1.65"/><circle cx="400.6" cy="220.1" r="1.65"/><circle cx="401.3" cy="186.2" r="1.65"/><circle cx="409.3" cy="215.9" r="1.65"/><circle cx="408.3" cy="206.9" r="1.65"/><circle cx="400.4" cy="164.4" r="1.65"/><circle cx="401.4" cy="177.9" r="1.65"/><circle cx="410.1" cy="147.3" r="1.65"/><circle cx="409.9" cy="135.3" r="1.65"/><circle cx="400.4" cy="175.8" r="1.65"/><circle cx="403.3" cy="219.1" r="1.65"/><circle cx="401.7" cy="96.8" r="1.65"/><circle cx="406.4" cy="174.2" r="1.65"/><circle cx="406.2" cy="163.1" r="1.65"/><circle cx="398.8" cy="201.2" r="1.65"/><circle cx="410.0" cy="219.8" r="1.65"/><circle cx="408.3" cy="141.5" r="1.65"/><circle cx="410.8" cy="205.6" r="1.65"/><circle cx="411.1" cy="180.7" r="1.65"/><circle cx="399.2" cy="214.3" r="1.65"/><circle cx="398.4" cy="214.1" r="1.65"/><circle cx="405.0" cy="191.0" r="1.65"/><circle cx="404.5" cy="220.2" r="1.65"/><circle cx="399.7" cy="142.1" r="1.65"/><circle cx="411.6" cy="181.6" r="1.65"/><circle cx="406.4" cy="173.4" r="1.65"/><circle cx="405.2" cy="167.3" r="1.65"/><circle cx="404.1" cy="218.9" r="1.65"/><circle cx="408.3" cy="132.8" r="1.65"/><circle cx="408.9" cy="219.7" r="1.65"/><circle cx="407.7" cy="218.2" r="1.65"/><circle cx="398.7" cy="208.7" r="1.65"/><circle cx="401.6" cy="219.6" r="1.65"/><circle cx="400.5" cy="218.9" r="1.65"/><circle cx="403.6" cy="203.4" r="1.65"/><circle cx="410.2" cy="220.1" r="1.65"/><circle cx="405.3" cy="180.3" r="1.65"/></g><line x1="458.5" x2="458.5" y1="63.70" y2="146.07" stroke="#666" stroke-width="0.7"/><rect x="438.20" y="146.07" width="40.60" height="74.53" fill="#ebdfeb" stroke="#555" stroke-width="0.7"/><line x1="438.20" x2="478.80" y1="184.20" y2="184.20" stroke="#333" stroke-width="1.3"/><g fill="#d8bfd8"><circle cx="461.7" cy="211.4" r="1.65"/><circle cx="455.0" cy="117.9" r="1.65"/><circle cx="462.5" cy="220.6" r="1.65"/><circle cx="454.8" cy="220.6" r="1.65"/><circle cx="464.0" cy="203.0" r="1.65"/><circle cx="455.7" cy="167.7" r="1.65"/><circle cx="463.6" cy="220.6" r="1.65"/><circle cx="462.6" cy="130.2" r="1.65"/><circle cx="455.4" cy="86.4" r="1.65"/><circle cx="462.8" cy="117.8" r="1.65"/><circle cx="457.0" cy="174.4" r="1.65"/><circle cx="453.3" cy="190.4" r="1.65"/><circle cx="466.2" cy="126.3" r="1.65"/><circle cx="462.7" cy="155.1" r="1.65"/><circle cx="458.2" cy="220.6" r="1.65"/><circle cx="459.3" cy="220.6" r="1.65"/><circle cx="460.6" cy="212.8" r="1.65"/><circle cx="458.9" cy="193.4" r="1.65"/><circle cx="454.5" cy="217.0" r="1.65"/><circle cx="461.2" cy="195.9" r="1.65"/><circle cx="462.2" cy="84.5" r="1.65"/><circle cx="453.7" cy="93.7" r="1.65"/><circle cx="461.1" cy="130.2" r="1.65"/><circle cx="464.4" cy="220.6" r="1.65"/><circle cx="454.6" cy="107.5" r="1.65"/><circle cx="462.2" cy="116.7" r="1.65"/><circle cx="460.5" cy="220.6" r="1.65"/><circle cx="460.7" cy="150.2" r="1.65"/><circle cx="456.9" cy="171.9" r="1.65"/><circle cx="456.0" cy="149.5" r="1.65"/><circle cx="453.3" cy="220.6" r="1.65"/><circle cx="461.1" cy="219.3" r="1.65"/><circle cx="452.2" cy="175.6" r="1.65"/><circle cx="453.0" cy="189.5" r="1.65"/><circle cx="453.4" cy="220.6" r="1.65"/><circle cx="460.4" cy="201.6" r="1.65"/><circle cx="457.0" cy="220.6" r="1.65"/><circle cx="456.6" cy="63.7" r="1.65"/><circle cx="459.2" cy="184.5" r="1.65"/><circle cx="456.0" cy="186.5" r="1.65"/><circle cx="465.1" cy="220.6" r="1.65"/><circle cx="461.7" cy="147.8" r="1.65"/><circle cx="460.3" cy="118.0" r="1.65"/><circle cx="455.9" cy="196.9" r="1.65"/><circle cx="452.2" cy="220.6" r="1.65"/><circle cx="462.8" cy="193.2" r="1.65"/><circle cx="463.1" cy="63.7" r="1.65"/><circle cx="459.8" cy="220.6" r="1.65"/><circle cx="458.0" cy="198.9" r="1.65"/><circle cx="453.3" cy="220.6" r="1.65"/><circle cx="456.1" cy="125.2" r="1.65"/><circle cx="453.5" cy="194.0" r="1.65"/><circle cx="464.6" cy="196.4" r="1.65"/><circle cx="459.5" cy="68.2" r="1.65"/><circle cx="456.4" cy="220.6" r="1.65"/><circle cx="453.5" cy="105.6" r="1.65"/><circle cx="464.4" cy="220.6" r="1.65"/><circle cx="457.1" cy="220.6" r="1.65"/><circle cx="454.8" cy="197.8" r="1.65"/><circle cx="465.4" cy="150.9" r="1.65"/><circle cx="458.1" cy="181.2" r="1.65"/><circle cx="464.0" cy="173.0" r="1.65"/><circle cx="453.6" cy="104.3" r="1.65"/><circle cx="459.5" cy="179.0" r="1.65"/><circle cx="456.0" cy="201.9" r="1.65"/><circle cx="452.1" cy="220.6" r="1.65"/><circle cx="462.2" cy="149.6" r="1.65"/><circle cx="463.6" cy="113.1" r="1.65"/><circle cx="463.9" cy="190.8" r="1.65"/><circle cx="462.9" cy="151.3" r="1.65"/><circle cx="466.3" cy="220.6" r="1.65"/><circle cx="463.2" cy="186.7" r="1.65"/><circle cx="452.0" cy="63.7" r="1.65"/><circle cx="465.5" cy="211.4" r="1.65"/><circle cx="464.2" cy="214.2" r="1.65"/><circle cx="462.9" cy="191.6" r="1.65"/><circle cx="458.4" cy="185.6" r="1.65"/><circle cx="454.5" cy="103.0" r="1.65"/><circle cx="454.4" cy="195.1" r="1.65"/><circle cx="463.8" cy="173.1" r="1.65"/><circle cx="460.3" cy="220.6" r="1.65"/><circle cx="459.0" cy="201.1" r="1.65"/><circle cx="454.8" cy="180.9" r="1.65"/><circle cx="457.9" cy="146.8" r="1.65"/><circle cx="464.4" cy="81.9" r="1.65"/><circle cx="453.9" cy="220.6" r="1.65"/><circle cx="465.3" cy="220.6" r="1.65"/><circle cx="460.6" cy="211.8" r="1.65"/><circle cx="451.7" cy="215.0" r="1.65"/><circle cx="456.6" cy="188.6" r="1.65"/><circle cx="462.0" cy="220.5" r="1.65"/><circle cx="462.6" cy="190.6" r="1.65"/><circle cx="465.4" cy="220.6" r="1.65"/><circle cx="461.7" cy="127.1" r="1.65"/><circle cx="460.3" cy="150.5" r="1.65"/><circle cx="462.3" cy="211.8" r="1.65"/><circle cx="461.1" cy="169.5" r="1.65"/><circle cx="463.1" cy="167.4" r="1.65"/><circle cx="463.7" cy="110.3" r="1.65"/><circle cx="457.7" cy="184.3" r="1.65"/><circle cx="465.7" cy="93.7" r="1.65"/><circle cx="465.1" cy="198.4" r="1.65"/><circle cx="452.8" cy="156.2" r="1.65"/><circle cx="463.6" cy="186.1" r="1.65"/><circle cx="458.2" cy="136.3" r="1.65"/><circle cx="462.7" cy="192.1" r="1.65"/><circle cx="453.8" cy="220.6" r="1.65"/><circle cx="465.9" cy="199.6" r="1.65"/><circle cx="456.0" cy="220.6" r="1.65"/><circle cx="452.9" cy="220.6" r="1.65"/><circle cx="452.6" cy="220.6" r="1.65"/><circle cx="454.0" cy="194.2" r="1.65"/><circle cx="452.3" cy="220.6" r="1.65"/><circle cx="464.7" cy="217.9" r="1.65"/><circle cx="462.0" cy="159.9" r="1.65"/><circle cx="453.9" cy="132.7" r="1.65"/><circle cx="459.3" cy="220.6" r="1.65"/><circle cx="454.2" cy="181.0" r="1.65"/><circle cx="457.8" cy="152.8" r="1.65"/><circle cx="460.2" cy="214.8" r="1.65"/><circle cx="455.7" cy="176.0" r="1.65"/><circle cx="461.2" cy="151.3" r="1.65"/><circle cx="465.9" cy="220.6" r="1.65"/><circle cx="454.9" cy="212.5" r="1.65"/><circle cx="458.1" cy="201.3" r="1.65"/><circle cx="460.1" cy="220.6" r="1.65"/><circle cx="455.1" cy="191.2" r="1.65"/><circle cx="451.6" cy="199.0" r="1.65"/><circle cx="453.1" cy="107.3" r="1.65"/><circle cx="458.2" cy="132.5" r="1.65"/><circle cx="451.6" cy="191.1" r="1.65"/><circle cx="453.8" cy="181.1" r="1.65"/><circle cx="457.0" cy="102.0" r="1.65"/><circle cx="453.2" cy="145.6" r="1.65"/><circle cx="460.9" cy="147.3" r="1.65"/><circle cx="460.5" cy="89.1" r="1.65"/><circle cx="459.8" cy="140.4" r="1.65"/><circle cx="457.2" cy="127.0" r="1.65"/><circle cx="456.6" cy="220.6" r="1.65"/><circle cx="459.8" cy="190.4" r="1.65"/><circle cx="460.4" cy="192.9" r="1.65"/><circle cx="458.1" cy="175.3" r="1.65"/><circle cx="462.3" cy="178.6" r="1.65"/><circle cx="459.9" cy="147.0" r="1.65"/><circle cx="455.2" cy="175.8" r="1.65"/><circle cx="464.9" cy="190.0" r="1.65"/><circle cx="462.6" cy="220.6" r="1.65"/><circle cx="454.0" cy="187.8" r="1.65"/><circle cx="460.0" cy="140.1" r="1.65"/><circle cx="463.5" cy="220.6" r="1.65"/><circle cx="457.9" cy="148.3" r="1.65"/><circle cx="458.2" cy="220.6" r="1.65"/><circle cx="457.6" cy="150.0" r="1.65"/><circle cx="465.8" cy="110.8" r="1.65"/><circle cx="460.3" cy="220.6" r="1.65"/><circle cx="459.2" cy="188.8" r="1.65"/><circle cx="463.4" cy="182.9" r="1.65"/><circle cx="453.3" cy="163.0" r="1.65"/><circle cx="464.5" cy="191.2" r="1.65"/><circle cx="463.9" cy="187.2" r="1.65"/><circle cx="459.0" cy="220.6" r="1.65"/><circle cx="463.3" cy="80.0" r="1.65"/><circle cx="460.0" cy="150.6" r="1.65"/><circle cx="465.8" cy="203.0" r="1.65"/><circle cx="460.5" cy="158.9" r="1.65"/><circle cx="453.3" cy="213.9" r="1.65"/><circle cx="459.4" cy="150.6" r="1.65"/><circle cx="452.4" cy="220.6" r="1.65"/><circle cx="462.2" cy="220.6" r="1.65"/><circle cx="466.3" cy="106.9" r="1.65"/><circle cx="461.0" cy="220.6" r="1.65"/><circle cx="455.2" cy="220.6" r="1.65"/><circle cx="462.1" cy="180.6" r="1.65"/><circle cx="462.3" cy="173.2" r="1.65"/><circle cx="460.8" cy="182.3" r="1.65"/><circle cx="458.3" cy="214.6" r="1.65"/><circle cx="458.1" cy="145.7" r="1.65"/><circle cx="463.7" cy="217.0" r="1.65"/><circle cx="458.5" cy="210.2" r="1.65"/><circle cx="459.6" cy="220.6" r="1.65"/><circle cx="451.6" cy="130.0" r="1.65"/><circle cx="457.9" cy="137.2" r="1.65"/><circle cx="461.8" cy="215.6" r="1.65"/><circle cx="464.6" cy="208.6" r="1.65"/><circle cx="464.8" cy="189.3" r="1.65"/><circle cx="460.8" cy="220.6" r="1.65"/><circle cx="454.2" cy="159.1" r="1.65"/><circle cx="458.5" cy="173.6" r="1.65"/><circle cx="462.2" cy="151.5" r="1.65"/><circle cx="462.5" cy="82.5" r="1.65"/><circle cx="462.9" cy="197.8" r="1.65"/><circle cx="460.4" cy="115.5" r="1.65"/><circle cx="460.1" cy="85.9" r="1.65"/><circle cx="461.8" cy="220.6" r="1.65"/><circle cx="457.8" cy="205.3" r="1.65"/><circle cx="460.2" cy="220.6" r="1.65"/><circle cx="456.1" cy="194.4" r="1.65"/><circle cx="461.7" cy="75.1" r="1.65"/><circle cx="460.7" cy="190.7" r="1.65"/><circle cx="460.7" cy="220.6" r="1.65"/><circle cx="465.6" cy="63.7" r="1.65"/><circle cx="456.5" cy="220.6" r="1.65"/><circle cx="462.6" cy="132.7" r="1.65"/><circle cx="453.6" cy="190.4" r="1.65"/><circle cx="453.9" cy="81.2" r="1.65"/><circle cx="461.6" cy="145.8" r="1.65"/><circle cx="459.2" cy="213.9" r="1.65"/><circle cx="466.2" cy="220.6" r="1.65"/><circle cx="456.9" cy="220.6" r="1.65"/><circle cx="464.1" cy="105.5" r="1.65"/><circle cx="462.5" cy="63.7" r="1.65"/><circle cx="466.0" cy="220.6" r="1.65"/><circle cx="455.2" cy="220.6" r="1.65"/><circle cx="458.1" cy="220.6" r="1.65"/><circle cx="452.6" cy="203.0" r="1.65"/><circle cx="464.4" cy="190.9" r="1.65"/><circle cx="453.2" cy="220.6" r="1.65"/><circle cx="454.1" cy="220.6" r="1.65"/><circle cx="457.5" cy="220.6" r="1.65"/><circle cx="453.4" cy="220.6" r="1.65"/><circle cx="458.5" cy="156.5" r="1.65"/><circle cx="457.0" cy="191.1" r="1.65"/><circle cx="456.0" cy="191.8" r="1.65"/><circle cx="452.6" cy="155.1" r="1.65"/><circle cx="456.8" cy="220.6" r="1.65"/><circle cx="460.9" cy="123.4" r="1.65"/><circle cx="457.7" cy="196.9" r="1.65"/><circle cx="453.2" cy="181.7" r="1.65"/><circle cx="465.3" cy="220.6" r="1.65"/><circle cx="453.1" cy="128.3" r="1.65"/><circle cx="464.1" cy="150.9" r="1.65"/><circle cx="459.3" cy="193.3" r="1.65"/><circle cx="464.4" cy="220.6" r="1.65"/><circle cx="457.0" cy="188.7" r="1.65"/><circle cx="464.0" cy="220.6" r="1.65"/><circle cx="455.9" cy="79.4" r="1.65"/><circle cx="455.5" cy="198.5" r="1.65"/><circle cx="452.9" cy="220.6" r="1.65"/><circle cx="461.2" cy="220.6" r="1.65"/><circle cx="455.9" cy="95.4" r="1.65"/><circle cx="452.9" cy="170.9" r="1.65"/><circle cx="456.8" cy="173.0" r="1.65"/><circle cx="455.4" cy="191.6" r="1.65"/><circle cx="452.6" cy="220.6" r="1.65"/><circle cx="457.7" cy="127.4" r="1.65"/><circle cx="462.8" cy="220.6" r="1.65"/><circle cx="456.5" cy="81.1" r="1.65"/><circle cx="452.8" cy="177.8" r="1.65"/><circle cx="457.5" cy="191.0" r="1.65"/><circle cx="455.9" cy="136.2" r="1.65"/><circle cx="455.4" cy="104.9" r="1.65"/><circle cx="460.5" cy="102.4" r="1.65"/><circle cx="462.4" cy="187.0" r="1.65"/><circle cx="463.0" cy="189.3" r="1.65"/><circle cx="464.5" cy="121.3" r="1.65"/><circle cx="456.3" cy="180.0" r="1.65"/><circle cx="465.3" cy="209.0" r="1.65"/><circle cx="454.7" cy="176.2" r="1.65"/><circle cx="464.3" cy="190.9" r="1.65"/><circle cx="457.9" cy="143.4" r="1.65"/><circle cx="461.2" cy="87.3" r="1.65"/><circle cx="459.1" cy="220.6" r="1.65"/><circle cx="462.7" cy="100.9" r="1.65"/><circle cx="465.2" cy="199.0" r="1.65"/><circle cx="459.8" cy="220.6" r="1.65"/><circle cx="463.2" cy="201.3" r="1.65"/><circle cx="451.9" cy="220.6" r="1.65"/><circle cx="451.7" cy="187.6" r="1.65"/><circle cx="465.1" cy="220.6" r="1.65"/><circle cx="456.0" cy="183.3" r="1.65"/><circle cx="458.2" cy="148.6" r="1.65"/><circle cx="457.4" cy="155.0" r="1.65"/><circle cx="458.8" cy="109.7" r="1.65"/><circle cx="459.3" cy="136.9" r="1.65"/><circle cx="461.5" cy="220.6" r="1.65"/><circle cx="452.2" cy="198.1" r="1.65"/><circle cx="461.0" cy="87.2" r="1.65"/><circle cx="454.7" cy="165.5" r="1.65"/><circle cx="452.7" cy="174.8" r="1.65"/><circle cx="464.9" cy="220.6" r="1.65"/><circle cx="460.8" cy="220.6" r="1.65"/><circle cx="455.4" cy="83.1" r="1.65"/><circle cx="461.9" cy="220.6" r="1.65"/><circle cx="453.1" cy="156.9" r="1.65"/><circle cx="465.5" cy="162.0" r="1.65"/><circle cx="452.0" cy="213.4" r="1.65"/><circle cx="459.3" cy="170.6" r="1.65"/><circle cx="456.8" cy="220.6" r="1.65"/><circle cx="454.8" cy="187.4" r="1.65"/><circle cx="466.3" cy="220.6" r="1.65"/><circle cx="461.0" cy="118.2" r="1.65"/><circle cx="466.3" cy="220.6" r="1.65"/><circle cx="459.9" cy="198.3" r="1.65"/><circle cx="465.6" cy="170.9" r="1.65"/><circle cx="454.7" cy="182.3" r="1.65"/><circle cx="459.1" cy="171.8" r="1.65"/><circle cx="464.1" cy="193.8" r="1.65"/><circle cx="462.1" cy="67.4" r="1.65"/><circle cx="452.4" cy="199.6" r="1.65"/><circle cx="461.8" cy="166.3" r="1.65"/><circle cx="457.7" cy="157.8" r="1.65"/><circle cx="463.9" cy="190.5" r="1.65"/><circle cx="463.1" cy="155.2" r="1.65"/><circle cx="454.9" cy="100.0" r="1.65"/><circle cx="455.2" cy="187.0" r="1.65"/><circle cx="456.0" cy="189.2" r="1.65"/><circle cx="457.7" cy="158.4" r="1.65"/><circle cx="459.2" cy="163.0" r="1.65"/><circle cx="461.2" cy="159.1" r="1.65"/><circle cx="453.5" cy="188.5" r="1.65"/><circle cx="461.2" cy="107.3" r="1.65"/><circle cx="454.2" cy="145.2" r="1.65"/><circle cx="461.2" cy="179.3" r="1.65"/><circle cx="457.1" cy="111.2" r="1.65"/><circle cx="460.0" cy="153.0" r="1.65"/><circle cx="465.2" cy="169.9" r="1.65"/><circle cx="453.0" cy="220.6" r="1.65"/><circle cx="466.1" cy="176.3" r="1.65"/><circle cx="465.8" cy="217.4" r="1.65"/><circle cx="457.9" cy="188.0" r="1.65"/><circle cx="459.8" cy="207.1" r="1.65"/><circle cx="466.3" cy="220.6" r="1.65"/><circle cx="456.5" cy="71.1" r="1.65"/><circle cx="454.3" cy="220.6" r="1.65"/><circle cx="459.9" cy="220.6" r="1.65"/><circle cx="454.2" cy="106.5" r="1.65"/><circle cx="454.2" cy="172.3" r="1.65"/><circle cx="459.0" cy="183.9" r="1.65"/><circle cx="453.2" cy="200.5" r="1.65"/><circle cx="463.9" cy="220.6" r="1.65"/><circle cx="453.3" cy="213.7" r="1.65"/><circle cx="463.5" cy="108.1" r="1.65"/><circle cx="464.8" cy="179.4" r="1.65"/><circle cx="455.3" cy="220.6" r="1.65"/><circle cx="453.7" cy="220.6" r="1.65"/><circle cx="462.0" cy="157.3" r="1.65"/><circle cx="457.4" cy="65.8" r="1.65"/><circle cx="459.8" cy="75.6" r="1.65"/><circle cx="456.0" cy="191.7" r="1.65"/><circle cx="461.9" cy="81.6" r="1.65"/><circle cx="465.6" cy="184.5" r="1.65"/><circle cx="453.2" cy="220.6" r="1.65"/><circle cx="457.1" cy="220.6" r="1.65"/><circle cx="453.8" cy="185.6" r="1.65"/><circle cx="453.5" cy="161.8" r="1.65"/><circle cx="456.7" cy="65.4" r="1.65"/><circle cx="461.6" cy="112.0" r="1.65"/><circle cx="456.9" cy="95.7" r="1.65"/><circle cx="460.2" cy="220.6" r="1.65"/><circle cx="451.8" cy="208.2" r="1.65"/><circle cx="458.7" cy="212.9" r="1.65"/><circle cx="455.8" cy="152.8" r="1.65"/><circle cx="453.8" cy="148.7" r="1.65"/><circle cx="460.3" cy="165.6" r="1.65"/><circle cx="463.3" cy="77.5" r="1.65"/><circle cx="456.9" cy="75.9" r="1.65"/><circle cx="454.7" cy="93.8" r="1.65"/><circle cx="460.5" cy="183.3" r="1.65"/><circle cx="462.6" cy="177.3" r="1.65"/><circle cx="455.7" cy="220.6" r="1.65"/><circle cx="457.2" cy="91.6" r="1.65"/><circle cx="463.8" cy="151.7" r="1.65"/><circle cx="451.8" cy="220.6" r="1.65"/><circle cx="459.5" cy="175.6" r="1.65"/><circle cx="454.8" cy="186.6" r="1.65"/><circle cx="463.9" cy="220.6" r="1.65"/><circle cx="451.6" cy="128.7" r="1.65"/><circle cx="455.7" cy="68.6" r="1.65"/><circle cx="459.1" cy="179.3" r="1.65"/><circle cx="453.9" cy="220.6" r="1.65"/><circle cx="458.7" cy="174.3" r="1.65"/><circle cx="466.0" cy="86.1" r="1.65"/><circle cx="455.3" cy="150.6" r="1.65"/><circle cx="453.7" cy="127.0" r="1.65"/><circle cx="460.0" cy="129.1" r="1.65"/><circle cx="454.2" cy="105.8" r="1.65"/><circle cx="460.6" cy="220.6" r="1.65"/><circle cx="462.9" cy="79.3" r="1.65"/><circle cx="457.2" cy="125.6" r="1.65"/><circle cx="464.7" cy="132.5" r="1.65"/><circle cx="456.7" cy="65.0" r="1.65"/><circle cx="456.3" cy="220.6" r="1.65"/><circle cx="462.4" cy="200.4" r="1.65"/><circle cx="461.2" cy="156.6" r="1.65"/><circle cx="461.7" cy="164.7" r="1.65"/><circle cx="464.2" cy="118.1" r="1.65"/><circle cx="451.8" cy="220.6" r="1.65"/><circle cx="454.0" cy="167.6" r="1.65"/><circle cx="461.7" cy="147.2" r="1.65"/><circle cx="457.5" cy="220.6" r="1.65"/><circle cx="456.9" cy="173.4" r="1.65"/><circle cx="454.5" cy="113.1" r="1.65"/><circle cx="461.3" cy="193.6" r="1.65"/><circle cx="461.1" cy="107.3" r="1.65"/><circle cx="457.0" cy="155.2" r="1.65"/><circle cx="459.4" cy="189.2" r="1.65"/><circle cx="456.5" cy="220.6" r="1.65"/><circle cx="464.9" cy="220.6" r="1.65"/><circle cx="460.3" cy="148.5" r="1.65"/><circle cx="455.4" cy="220.6" r="1.65"/><circle cx="459.6" cy="169.3" r="1.65"/><circle cx="462.7" cy="220.6" r="1.65"/><circle cx="458.2" cy="111.2" r="1.65"/><circle cx="460.5" cy="111.8" r="1.65"/><circle cx="461.6" cy="220.6" r="1.65"/><circle cx="465.5" cy="220.6" r="1.65"/><circle cx="460.2" cy="201.2" r="1.65"/><circle cx="462.3" cy="194.5" r="1.65"/><circle cx="463.5" cy="198.7" r="1.65"/><circle cx="456.5" cy="91.4" r="1.65"/><circle cx="464.8" cy="138.9" r="1.65"/><circle cx="455.8" cy="195.3" r="1.65"/><circle cx="466.0" cy="104.0" r="1.65"/><circle cx="454.3" cy="125.8" r="1.65"/><circle cx="456.5" cy="191.6" r="1.65"/><circle cx="453.9" cy="220.6" r="1.65"/><circle cx="453.9" cy="197.8" r="1.65"/><circle cx="459.1" cy="154.3" r="1.65"/><circle cx="454.7" cy="126.1" r="1.65"/><circle cx="460.3" cy="146.6" r="1.65"/><circle cx="460.5" cy="184.0" r="1.65"/><circle cx="461.4" cy="220.6" r="1.65"/><circle cx="465.4" cy="209.6" r="1.65"/><circle cx="463.8" cy="148.6" r="1.65"/><circle cx="457.6" cy="220.6" r="1.65"/><circle cx="461.3" cy="181.4" r="1.65"/><circle cx="462.5" cy="181.4" r="1.65"/><circle cx="460.1" cy="175.3" r="1.65"/><circle cx="462.0" cy="187.9" r="1.65"/><circle cx="459.2" cy="70.4" r="1.65"/><circle cx="459.8" cy="158.2" r="1.65"/><circle cx="457.9" cy="67.7" r="1.65"/><circle cx="454.4" cy="190.3" r="1.65"/><circle cx="465.9" cy="156.2" r="1.65"/><circle cx="462.7" cy="220.6" r="1.65"/><circle cx="457.0" cy="176.0" r="1.65"/><circle cx="459.9" cy="105.6" r="1.65"/><circle cx="463.6" cy="83.8" r="1.65"/><circle cx="460.8" cy="169.0" r="1.65"/><circle cx="455.7" cy="220.6" r="1.65"/><circle cx="457.8" cy="220.3" r="1.65"/><circle cx="466.2" cy="196.0" r="1.65"/><circle cx="461.4" cy="185.5" r="1.65"/><circle cx="465.6" cy="220.6" r="1.65"/><circle cx="453.6" cy="158.7" r="1.65"/><circle cx="456.4" cy="149.7" r="1.65"/><circle cx="455.2" cy="206.4" r="1.65"/><circle cx="459.4" cy="220.6" r="1.65"/><circle cx="465.1" cy="220.6" r="1.65"/><circle cx="464.9" cy="182.7" r="1.65"/><circle cx="454.7" cy="220.6" r="1.65"/><circle cx="459.9" cy="153.8" r="1.65"/><circle cx="461.5" cy="133.8" r="1.65"/><circle cx="457.1" cy="220.6" r="1.65"/><circle cx="461.4" cy="157.5" r="1.65"/><circle cx="463.6" cy="103.9" r="1.65"/><circle cx="458.0" cy="152.8" r="1.65"/><circle cx="456.9" cy="220.6" r="1.65"/><circle cx="457.5" cy="198.7" r="1.65"/><circle cx="451.6" cy="220.6" r="1.65"/><circle cx="454.2" cy="220.6" r="1.65"/><circle cx="455.9" cy="63.7" r="1.65"/><circle cx="462.6" cy="193.4" r="1.65"/><circle cx="464.2" cy="157.1" r="1.65"/><circle cx="452.3" cy="220.6" r="1.65"/><circle cx="458.1" cy="140.6" r="1.65"/><circle cx="461.3" cy="92.5" r="1.65"/><circle cx="463.0" cy="154.1" r="1.65"/><circle cx="462.7" cy="198.2" r="1.65"/><circle cx="457.7" cy="198.7" r="1.65"/></g><path d="M350.3 29.4 V25.0 H458.5 V29.4 M404.4 25.0 V29.4" fill="none" stroke="#666" stroke-width="0.7"/><text x="377.4" y="22.3" font-family='"Liberation Sans", sans-serif' font-size="5.5" fill="#333" text-anchor="middle">**</text><text x="404.4" y="22.9" font-family='"Liberation Sans", sans-serif' font-size="7" fill="#222" text-anchor="middle" textLength="5.1" lengthAdjust="spacingAndGlyphs">ns</text><text x="431.4" y="22.3" font-family='"Liberation Sans", sans-serif' font-size="5.5" fill="#333" text-anchor="middle">**</text><text x="363.6" y="10.2" font-family='"Liberation Sans", sans-serif' font-weight="bold" font-size="8.5" fill="#111" textLength="81.8" lengthAdjust="spacingAndGlyphs">Metabolic Activity (Context)</text><text x="350.3" y="237.7" font-family='"Liberation Sans", sans-serif' font-size="5.8" fill="#4d4d4d" text-anchor="middle" textLength="44.8" lengthAdjust="spacingAndGlyphs">Lactobacillus Absent</text><text x="404.4" y="237.7" font-family='"Liberation Sans", sans-serif' font-size="5.8" fill="#4d4d4d" text-anchor="middle" textLength="45.8" lengthAdjust="spacingAndGlyphs">Lactobacillus Diverse</text><text x="458.5" y="237.7" font-family='"Liberation Sans", sans-serif' font-size="5.8" fill="#4d4d4d" text-anchor="middle" textLength="43.5" lengthAdjust="spacingAndGlyphs">Lactobacillus Single</text><text x="404.4" y="246.0" font-family='"Liberation Sans", sans-serif' font-weight="bold" font-size="7.5" fill="#111" text-anchor="middle" textLength="43" lengthAdjust="spacingAndGlyphs">Community Type</text><text x="0" y="0" font-family='"Liberation Sans", sans-serif' font-weight="bold" font-size="6.2" fill="#111" text-anchor="middle" textLength="27" lengthAdjust="spacingAndGlyphs" transform="translate(306.6 121.6) rotate(-90)">Activity</text>
<line x1="512" x2="676" y1="189.22" y2="189.22" stroke="#f2f2f2" stroke-width="0.6"/><line x1="512" x2="676" y1="126.46" y2="126.46" stroke="#f2f2f2" stroke-width="0.6"/><line x1="512" x2="676" y1="63.70" y2="63.70" stroke="#f2f2f2" stroke-width="0.6"/><line x1="512" x2="676" y1="220.60" y2="220.60" stroke="#ebebeb" stroke-width="0.8"/><line x1="512" x2="676" y1="157.84" y2="157.84" stroke="#ebebeb" stroke-width="0.8"/><line x1="512" x2="676" y1="95.08" y2="95.08" stroke="#ebebeb" stroke-width="0.8"/><line x1="512" x2="676" y1="32.32" y2="32.32" stroke="#ebebeb" stroke-width="0.8"/><line x1="544.4" x2="544.4" y1="14.6" y2="229.5" stroke="#ebebeb" stroke-width="0.8"/><line x1="598.3" x2="598.3" y1="14.6" y2="229.5" stroke="#ebebeb" stroke-width="0.8"/><line x1="652.2" x2="652.2" y1="14.6" y2="229.5" stroke="#ebebeb" stroke-width="0.8"/><text x="509.3" y="223.35" font-family='"Liberation Sans", sans-serif' font-size="7.3" fill="#1a1a1a" text-anchor="end" textLength="7.5" lengthAdjust="spacingAndGlyphs">0.0</text><text x="509.3" y="160.59" font-family='"Liberation Sans", sans-serif' font-size="7.3" fill="#1a1a1a" text-anchor="end" textLength="7.5" lengthAdjust="spacingAndGlyphs">0.4</text><text x="509.3" y="97.83" font-family='"Liberation Sans", sans-serif' font-size="7.3" fill="#1a1a1a" text-anchor="end" textLength="7.5" lengthAdjust="spacingAndGlyphs">0.8</text><text x="509.3" y="35.07" font-family='"Liberation Sans", sans-serif' font-size="7.3" fill="#1a1a1a" text-anchor="end" textLength="7.5" lengthAdjust="spacingAndGlyphs">1.2</text><line x1="544.4" x2="544.4" y1="63.70" y2="115.48" stroke="#b4b4b4" stroke-width="1.1"/><rect x="524.10" y="115.48" width="40.60" height="104.02" fill="#a587ca" stroke="#555" stroke-width="0.7"/><line x1="524.10" x2="564.70" y1="154.70" y2="154.70" stroke="#333" stroke-width="1.3"/><g fill="#4b0f96"><circle cx="546.9" cy="219.9" r="1.65"/><circle cx="549.2" cy="160.1" r="1.65"/><circle cx="545.0" cy="103.5" r="1.65"/><circle cx="543.0" cy="63.7" r="1.65"/><circle cx="549.2" cy="141.3" r="1.65"/><circle cx="538.1" cy="219.6" r="1.65"/><circle cx="550.5" cy="64.2" r="1.65"/><circle cx="542.4" cy="63.7" r="1.65"/><circle cx="551.6" cy="155.3" r="1.65"/><circle cx="549.6" cy="188.8" r="1.65"/><circle cx="544.2" cy="220.1" r="1.65"/><circle cx="544.7" cy="146.5" r="1.65"/><circle cx="550.3" cy="219.8" r="1.65"/><circle cx="540.6" cy="219.6" r="1.65"/><circle cx="548.7" cy="70.2" r="1.65"/><circle cx="548.3" cy="112.8" r="1.65"/><circle cx="549.7" cy="220.1" r="1.65"/><circle cx="550.6" cy="219.7" r="1.65"/><circle cx="544.2" cy="178.1" r="1.65"/><circle cx="543.2" cy="184.3" r="1.65"/><circle cx="548.1" cy="220.5" r="1.65"/><circle cx="544.8" cy="65.2" r="1.65"/><circle cx="540.8" cy="146.8" r="1.65"/><circle cx="546.7" cy="137.6" r="1.65"/><circle cx="542.7" cy="219.8" r="1.65"/><circle cx="546.3" cy="78.8" r="1.65"/><circle cx="538.5" cy="204.8" r="1.65"/><circle cx="543.0" cy="102.3" r="1.65"/><circle cx="550.8" cy="125.9" r="1.65"/><circle cx="552.1" cy="72.3" r="1.65"/><circle cx="550.6" cy="71.7" r="1.65"/><circle cx="541.2" cy="157.1" r="1.65"/><circle cx="538.5" cy="89.4" r="1.65"/><circle cx="544.7" cy="104.0" r="1.65"/><circle cx="541.3" cy="97.5" r="1.65"/><circle cx="540.0" cy="209.2" r="1.65"/><circle cx="550.8" cy="220.3" r="1.65"/><circle cx="544.6" cy="67.1" r="1.65"/><circle cx="545.3" cy="218.9" r="1.65"/><circle cx="540.6" cy="63.7" r="1.65"/><circle cx="550.5" cy="97.2" r="1.65"/><circle cx="546.1" cy="138.8" r="1.65"/><circle cx="545.4" cy="94.9" r="1.65"/><circle cx="537.7" cy="212.8" r="1.65"/><circle cx="537.8" cy="125.6" r="1.65"/><circle cx="550.1" cy="140.0" r="1.65"/><circle cx="543.5" cy="141.5" r="1.65"/><circle cx="539.5" cy="72.3" r="1.65"/><circle cx="537.9" cy="220.2" r="1.65"/><circle cx="550.3" cy="168.5" r="1.65"/><circle cx="545.5" cy="130.3" r="1.65"/><circle cx="540.8" cy="200.2" r="1.65"/><circle cx="543.1" cy="219.9" r="1.65"/><circle cx="538.2" cy="121.8" r="1.65"/><circle cx="549.0" cy="121.6" r="1.65"/><circle cx="544.4" cy="63.7" r="1.65"/><circle cx="540.1" cy="220.3" r="1.65"/><circle cx="547.8" cy="121.5" r="1.65"/><circle cx="543.3" cy="203.0" r="1.65"/><circle cx="541.9" cy="204.1" r="1.65"/><circle cx="551.5" cy="154.2" r="1.65"/><circle cx="545.0" cy="220.2" r="1.65"/><circle cx="542.1" cy="117.9" r="1.65"/><circle cx="545.8" cy="123.4" r="1.65"/><circle cx="552.0" cy="220.3" r="1.65"/><circle cx="552.2" cy="192.2" r="1.65"/><circle cx="538.6" cy="220.1" r="1.65"/><circle cx="544.1" cy="102.2" r="1.65"/><circle cx="547.0" cy="63.7" r="1.65"/><circle cx="543.3" cy="169.6" r="1.65"/><circle cx="538.2" cy="180.2" r="1.65"/><circle cx="547.9" cy="171.8" r="1.65"/><circle cx="544.2" cy="101.5" r="1.65"/><circle cx="544.7" cy="219.6" r="1.65"/><circle cx="538.8" cy="134.0" r="1.65"/><circle cx="548.1" cy="160.0" r="1.65"/><circle cx="546.8" cy="86.4" r="1.65"/><circle cx="550.2" cy="113.7" r="1.65"/><circle cx="541.1" cy="123.5" r="1.65"/><circle cx="546.6" cy="81.0" r="1.65"/><circle cx="552.1" cy="100.0" r="1.65"/><circle cx="542.1" cy="220.6" r="1.65"/><circle cx="545.7" cy="182.9" r="1.65"/><circle cx="551.5" cy="220.3" r="1.65"/><circle cx="539.1" cy="116.7" r="1.65"/><circle cx="540.5" cy="72.8" r="1.65"/><circle cx="547.6" cy="197.4" r="1.65"/><circle cx="542.3" cy="216.7" r="1.65"/><circle cx="539.8" cy="218.4" r="1.65"/><circle cx="546.3" cy="126.3" r="1.65"/><circle cx="551.4" cy="212.4" r="1.65"/><circle cx="546.6" cy="163.3" r="1.65"/><circle cx="543.2" cy="211.6" r="1.65"/><circle cx="551.7" cy="213.7" r="1.65"/><circle cx="551.3" cy="220.4" r="1.65"/><circle cx="544.9" cy="63.7" r="1.65"/><circle cx="547.9" cy="220.4" r="1.65"/><circle cx="545.6" cy="63.7" r="1.65"/><circle cx="544.2" cy="220.2" r="1.65"/><circle cx="539.5" cy="85.6" r="1.65"/><circle cx="545.3" cy="106.8" r="1.65"/><circle cx="543.5" cy="220.4" r="1.65"/><circle cx="549.4" cy="146.6" r="1.65"/><circle cx="550.6" cy="96.1" r="1.65"/><circle cx="538.7" cy="220.5" r="1.65"/><circle cx="548.7" cy="84.5" r="1.65"/><circle cx="549.6" cy="219.8" r="1.65"/><circle cx="544.5" cy="138.0" r="1.65"/><circle cx="541.5" cy="105.1" r="1.65"/><circle cx="546.8" cy="192.8" r="1.65"/><circle cx="538.5" cy="86.5" r="1.65"/><circle cx="540.3" cy="152.9" r="1.65"/><circle cx="538.0" cy="214.4" r="1.65"/><circle cx="547.2" cy="156.0" r="1.65"/><circle cx="551.3" cy="219.9" r="1.65"/><circle cx="547.7" cy="148.7" r="1.65"/><circle cx="538.7" cy="119.0" r="1.65"/><circle cx="538.1" cy="99.5" r="1.65"/><circle cx="546.8" cy="193.0" r="1.65"/><circle cx="544.8" cy="219.8" r="1.65"/><circle cx="549.4" cy="219.9" r="1.65"/><circle cx="540.7" cy="83.1" r="1.65"/><circle cx="545.4" cy="109.7" r="1.65"/><circle cx="543.3" cy="82.7" r="1.65"/><circle cx="549.2" cy="75.7" r="1.65"/><circle cx="546.6" cy="220.6" r="1.65"/><circle cx="547.1" cy="137.9" r="1.65"/><circle cx="545.4" cy="219.9" r="1.65"/><circle cx="552.3" cy="88.2" r="1.65"/><circle cx="548.5" cy="146.1" r="1.65"/><circle cx="538.7" cy="88.0" r="1.65"/><circle cx="545.5" cy="179.2" r="1.65"/><circle cx="539.4" cy="102.0" r="1.65"/><circle cx="546.1" cy="220.5" r="1.65"/><circle cx="540.6" cy="220.5" r="1.65"/><circle cx="545.2" cy="220.1" r="1.65"/><circle cx="539.3" cy="85.4" r="1.65"/><circle cx="547.0" cy="219.5" r="1.65"/><circle cx="547.1" cy="111.2" r="1.65"/><circle cx="543.1" cy="218.7" r="1.65"/><circle cx="545.5" cy="157.4" r="1.65"/><circle cx="549.7" cy="165.4" r="1.65"/><circle cx="548.4" cy="141.1" r="1.65"/><circle cx="543.1" cy="118.5" r="1.65"/><circle cx="547.3" cy="63.7" r="1.65"/><circle cx="552.3" cy="141.9" r="1.65"/><circle cx="548.4" cy="219.7" r="1.65"/><circle cx="538.3" cy="102.6" r="1.65"/><circle cx="544.9" cy="188.3" r="1.65"/><circle cx="546.8" cy="164.7" r="1.65"/><circle cx="550.3" cy="139.2" r="1.65"/><circle cx="541.2" cy="115.2" r="1.65"/><circle cx="551.2" cy="108.9" r="1.65"/><circle cx="550.7" cy="219.7" r="1.65"/><circle cx="546.9" cy="220.3" r="1.65"/><circle cx="541.4" cy="220.0" r="1.65"/><circle cx="540.7" cy="126.1" r="1.65"/><circle cx="548.1" cy="219.7" r="1.65"/><circle cx="542.5" cy="219.6" r="1.65"/><circle cx="540.4" cy="131.3" r="1.65"/><circle cx="547.8" cy="220.0" r="1.65"/><circle cx="550.5" cy="177.1" r="1.65"/><circle cx="548.2" cy="63.7" r="1.65"/><circle cx="544.9" cy="139.9" r="1.65"/><circle cx="546.9" cy="71.5" r="1.65"/><circle cx="542.6" cy="133.4" r="1.65"/><circle cx="544.3" cy="114.4" r="1.65"/><circle cx="549.2" cy="152.5" r="1.65"/><circle cx="544.2" cy="220.5" r="1.65"/><circle cx="546.1" cy="219.6" r="1.65"/><circle cx="539.9" cy="220.2" r="1.65"/><circle cx="542.4" cy="105.3" r="1.65"/><circle cx="540.3" cy="219.7" r="1.65"/><circle cx="550.0" cy="219.9" r="1.65"/><circle cx="545.4" cy="219.6" r="1.65"/><circle cx="548.8" cy="220.1" r="1.65"/><circle cx="545.5" cy="219.7" r="1.65"/><circle cx="546.4" cy="220.2" r="1.65"/><circle cx="546.0" cy="220.2" r="1.65"/><circle cx="547.3" cy="101.4" r="1.65"/><circle cx="542.2" cy="220.6" r="1.65"/><circle cx="549.1" cy="81.6" r="1.65"/><circle cx="550.7" cy="220.4" r="1.65"/><circle cx="540.2" cy="111.1" r="1.65"/><circle cx="551.8" cy="79.0" r="1.65"/><circle cx="545.4" cy="110.0" r="1.65"/><circle cx="547.3" cy="219.9" r="1.65"/><circle cx="549.4" cy="130.2" r="1.65"/><circle cx="538.8" cy="220.4" r="1.65"/><circle cx="548.7" cy="200.1" r="1.65"/><circle cx="539.2" cy="219.9" r="1.65"/><circle cx="540.9" cy="129.3" r="1.65"/><circle cx="543.8" cy="187.3" r="1.65"/><circle cx="544.5" cy="124.8" r="1.65"/><circle cx="540.4" cy="145.9" r="1.65"/><circle cx="542.4" cy="156.1" r="1.65"/><circle cx="543.8" cy="219.8" r="1.65"/><circle cx="540.7" cy="63.7" r="1.65"/><circle cx="547.4" cy="90.9" r="1.65"/><circle cx="544.2" cy="219.6" r="1.65"/><circle cx="543.1" cy="117.6" r="1.65"/><circle cx="549.8" cy="211.7" r="1.65"/><circle cx="542.4" cy="124.6" r="1.65"/><circle cx="539.7" cy="86.2" r="1.65"/><circle cx="547.5" cy="126.6" r="1.65"/><circle cx="541.1" cy="71.1" r="1.65"/><circle cx="543.1" cy="64.4" r="1.65"/><circle cx="543.4" cy="68.6" r="1.65"/><circle cx="541.5" cy="134.9" r="1.65"/><circle cx="548.5" cy="106.3" r="1.65"/><circle cx="550.7" cy="107.2" r="1.65"/><circle cx="544.9" cy="100.3" r="1.65"/><circle cx="551.8" cy="123.1" r="1.65"/><circle cx="547.3" cy="130.4" r="1.65"/><circle cx="543.2" cy="207.9" r="1.65"/><circle cx="538.9" cy="63.7" r="1.65"/><circle cx="538.2" cy="166.5" r="1.65"/><circle cx="545.1" cy="133.3" r="1.65"/><circle cx="548.0" cy="207.6" r="1.65"/><circle cx="548.3" cy="177.1" r="1.65"/><circle cx="547.9" cy="220.1" r="1.65"/><circle cx="541.3" cy="97.9" r="1.65"/><circle cx="547.9" cy="135.1" r="1.65"/><circle cx="542.6" cy="95.6" r="1.65"/><circle cx="546.9" cy="76.9" r="1.65"/><circle cx="549.1" cy="101.3" r="1.65"/><circle cx="540.0" cy="220.6" r="1.65"/><circle cx="537.9" cy="194.7" r="1.65"/><circle cx="546.0" cy="104.5" r="1.65"/><circle cx="550.0" cy="146.2" r="1.65"/><circle cx="548.8" cy="135.6" r="1.65"/><circle cx="542.1" cy="220.2" r="1.65"/><circle cx="543.4" cy="218.8" r="1.65"/><circle cx="548.5" cy="106.9" r="1.65"/><circle cx="542.3" cy="118.7" r="1.65"/><circle cx="550.4" cy="205.4" r="1.65"/><circle cx="551.8" cy="64.5" r="1.65"/><circle cx="547.8" cy="80.6" r="1.65"/><circle cx="546.6" cy="108.3" r="1.65"/><circle cx="551.0" cy="67.5" r="1.65"/><circle cx="544.7" cy="220.2" r="1.65"/><circle cx="545.6" cy="82.5" r="1.65"/><circle cx="548.2" cy="220.1" r="1.65"/><circle cx="539.6" cy="220.5" r="1.65"/><circle cx="538.4" cy="133.4" r="1.65"/><circle cx="544.0" cy="73.9" r="1.65"/><circle cx="546.5" cy="143.1" r="1.65"/><circle cx="548.6" cy="181.0" r="1.65"/><circle cx="548.8" cy="219.8" r="1.65"/><circle cx="551.0" cy="219.6" r="1.65"/><circle cx="542.1" cy="219.9" r="1.65"/><circle cx="545.5" cy="216.5" r="1.65"/><circle cx="538.3" cy="220.1" r="1.65"/><circle cx="541.1" cy="220.3" r="1.65"/><circle cx="549.9" cy="195.8" r="1.65"/><circle cx="548.9" cy="129.9" r="1.65"/><circle cx="546.6" cy="125.5" r="1.65"/><circle cx="548.6" cy="116.2" r="1.65"/><circle cx="541.4" cy="133.9" r="1.65"/><circle cx="545.3" cy="127.8" r="1.65"/><circle cx="548.2" cy="83.3" r="1.65"/><circle cx="543.8" cy="215.5" r="1.65"/><circle cx="541.3" cy="149.2" r="1.65"/><circle cx="546.8" cy="91.6" r="1.65"/><circle cx="551.8" cy="220.1" r="1.65"/><circle cx="547.8" cy="219.7" r="1.65"/><circle cx="551.9" cy="153.1" r="1.65"/><circle cx="543.9" cy="109.0" r="1.65"/><circle cx="547.5" cy="175.5" r="1.65"/><circle cx="543.9" cy="216.7" r="1.65"/><circle cx="543.1" cy="220.5" r="1.65"/><circle cx="552.2" cy="219.7" r="1.65"/><circle cx="550.2" cy="77.9" r="1.65"/><circle cx="550.7" cy="156.9" r="1.65"/><circle cx="543.0" cy="220.3" r="1.65"/><circle cx="538.3" cy="195.9" r="1.65"/><circle cx="541.0" cy="126.6" r="1.65"/><circle cx="549.3" cy="219.8" r="1.65"/><circle cx="540.1" cy="219.6" r="1.65"/><circle cx="547.5" cy="139.8" r="1.65"/><circle cx="550.0" cy="220.2" r="1.65"/><circle cx="546.4" cy="159.6" r="1.65"/><circle cx="549.6" cy="219.9" r="1.65"/><circle cx="540.0" cy="164.1" r="1.65"/><circle cx="547.0" cy="219.8" r="1.65"/><circle cx="551.7" cy="168.2" r="1.65"/><circle cx="540.5" cy="195.4" r="1.65"/><circle cx="539.2" cy="152.5" r="1.65"/><circle cx="543.1" cy="197.0" r="1.65"/><circle cx="549.3" cy="130.7" r="1.65"/><circle cx="548.3" cy="160.6" r="1.65"/><circle cx="551.9" cy="180.1" r="1.65"/><circle cx="542.8" cy="150.9" r="1.65"/><circle cx="539.0" cy="155.1" r="1.65"/><circle cx="549.6" cy="181.0" r="1.65"/><circle cx="549.4" cy="113.1" r="1.65"/><circle cx="538.3" cy="177.7" r="1.65"/><circle cx="541.4" cy="106.4" r="1.65"/><circle cx="549.3" cy="161.9" r="1.65"/><circle cx="551.2" cy="173.7" r="1.65"/><circle cx="542.6" cy="109.7" r="1.65"/><circle cx="540.3" cy="74.9" r="1.65"/><circle cx="548.7" cy="190.4" r="1.65"/><circle cx="551.7" cy="210.9" r="1.65"/><circle cx="547.3" cy="220.2" r="1.65"/><circle cx="544.4" cy="82.9" r="1.65"/><circle cx="542.4" cy="107.1" r="1.65"/><circle cx="549.1" cy="219.6" r="1.65"/><circle cx="551.3" cy="220.0" r="1.65"/><circle cx="545.3" cy="219.7" r="1.65"/><circle cx="544.8" cy="70.7" r="1.65"/><circle cx="539.6" cy="83.7" r="1.65"/><circle cx="551.8" cy="104.3" r="1.65"/><circle cx="543.7" cy="71.3" r="1.65"/><circle cx="540.6" cy="219.6" r="1.65"/><circle cx="538.3" cy="219.9" r="1.65"/><circle cx="548.4" cy="139.2" r="1.65"/><circle cx="541.7" cy="144.1" r="1.65"/><circle cx="541.5" cy="220.2" r="1.65"/><circle cx="547.7" cy="66.2" r="1.65"/><circle cx="544.7" cy="98.2" r="1.65"/><circle cx="543.0" cy="185.1" r="1.65"/><circle cx="537.9" cy="160.5" r="1.65"/><circle cx="551.8" cy="148.5" r="1.65"/><circle cx="542.2" cy="146.6" r="1.65"/><circle cx="551.0" cy="122.4" r="1.65"/><circle cx="546.8" cy="142.0" r="1.65"/><circle cx="542.0" cy="220.4" r="1.65"/><circle cx="546.3" cy="120.3" r="1.65"/><circle cx="541.4" cy="219.9" r="1.65"/><circle cx="545.2" cy="95.1" r="1.65"/><circle cx="541.3" cy="107.1" r="1.65"/><circle cx="549.2" cy="124.3" r="1.65"/><circle cx="549.1" cy="194.4" r="1.65"/><circle cx="546.9" cy="219.3" r="1.65"/><circle cx="547.3" cy="94.5" r="1.65"/><circle cx="544.6" cy="219.6" r="1.65"/><circle cx="551.5" cy="131.5" r="1.65"/><circle cx="544.6" cy="219.9" r="1.65"/><circle cx="539.6" cy="217.2" r="1.65"/><circle cx="547.0" cy="216.8" r="1.65"/><circle cx="551.1" cy="130.0" r="1.65"/><circle cx="551.4" cy="133.5" r="1.65"/><circle cx="550.3" cy="94.1" r="1.65"/><circle cx="543.7" cy="220.0" r="1.65"/><circle cx="543.2" cy="73.0" r="1.65"/><circle cx="540.2" cy="219.7" r="1.65"/><circle cx="545.6" cy="95.2" r="1.65"/><circle cx="545.3" cy="89.3" r="1.65"/><circle cx="543.5" cy="133.4" r="1.65"/><circle cx="539.8" cy="131.8" r="1.65"/><circle cx="546.0" cy="220.6" r="1.65"/><circle cx="547.5" cy="105.2" r="1.65"/><circle cx="549.8" cy="166.8" r="1.65"/><circle cx="547.1" cy="151.7" r="1.65"/><circle cx="545.2" cy="220.0" r="1.65"/><circle cx="551.5" cy="220.4" r="1.65"/><circle cx="541.4" cy="68.1" r="1.65"/><circle cx="537.8" cy="76.9" r="1.65"/><circle cx="547.5" cy="219.5" r="1.65"/><circle cx="548.3" cy="220.3" r="1.65"/><circle cx="548.0" cy="195.0" r="1.65"/><circle cx="544.7" cy="171.1" r="1.65"/><circle cx="551.9" cy="102.5" r="1.65"/><circle cx="544.8" cy="102.4" r="1.65"/><circle cx="538.6" cy="137.5" r="1.65"/><circle cx="548.9" cy="87.6" r="1.65"/><circle cx="552.2" cy="92.9" r="1.65"/><circle cx="538.7" cy="161.6" r="1.65"/><circle cx="549.6" cy="186.2" r="1.65"/><circle cx="543.0" cy="151.4" r="1.65"/><circle cx="546.4" cy="126.9" r="1.65"/><circle cx="537.5" cy="220.5" r="1.65"/><circle cx="548.8" cy="205.8" r="1.65"/><circle cx="538.6" cy="219.9" r="1.65"/><circle cx="551.2" cy="219.7" r="1.65"/><circle cx="543.4" cy="220.3" r="1.65"/><circle cx="537.7" cy="135.6" r="1.65"/><circle cx="544.8" cy="220.3" r="1.65"/><circle cx="547.7" cy="137.1" r="1.65"/><circle cx="549.1" cy="84.2" r="1.65"/><circle cx="545.9" cy="95.1" r="1.65"/><circle cx="549.1" cy="132.0" r="1.65"/><circle cx="546.8" cy="203.8" r="1.65"/><circle cx="538.9" cy="65.9" r="1.65"/><circle cx="543.4" cy="219.8" r="1.65"/><circle cx="545.8" cy="120.7" r="1.65"/><circle cx="547.0" cy="167.1" r="1.65"/><circle cx="539.4" cy="171.8" r="1.65"/><circle cx="544.3" cy="84.7" r="1.65"/><circle cx="549.4" cy="220.3" r="1.65"/><circle cx="545.4" cy="193.6" r="1.65"/><circle cx="542.1" cy="220.2" r="1.65"/><circle cx="550.5" cy="159.8" r="1.65"/><circle cx="550.0" cy="94.0" r="1.65"/><circle cx="543.9" cy="219.9" r="1.65"/><circle cx="547.3" cy="91.4" r="1.65"/><circle cx="544.1" cy="102.9" r="1.65"/><circle cx="540.5" cy="220.1" r="1.65"/><circle cx="551.0" cy="118.4" r="1.65"/><circle cx="539.3" cy="139.0" r="1.65"/><circle cx="539.6" cy="168.6" r="1.65"/><circle cx="543.9" cy="68.6" r="1.65"/><circle cx="541.6" cy="210.4" r="1.65"/><circle cx="542.9" cy="93.9" r="1.65"/><circle cx="542.3" cy="139.4" r="1.65"/><circle cx="542.0" cy="158.8" r="1.65"/><circle cx="543.9" cy="171.5" r="1.65"/><circle cx="541.6" cy="176.7" r="1.65"/><circle cx="546.6" cy="146.8" r="1.65"/><circle cx="550.4" cy="148.6" r="1.65"/><circle cx="541.0" cy="106.1" r="1.65"/><circle cx="542.9" cy="73.2" r="1.65"/><circle cx="551.6" cy="166.4" r="1.65"/><circle cx="539.3" cy="104.1" r="1.65"/><circle cx="547.9" cy="219.7" r="1.65"/><circle cx="552.2" cy="63.7" r="1.65"/><circle cx="544.4" cy="196.7" r="1.65"/><circle cx="545.3" cy="220.2" r="1.65"/><circle cx="539.3" cy="137.1" r="1.65"/><circle cx="546.5" cy="219.7" r="1.65"/><circle cx="546.7" cy="170.7" r="1.65"/><circle cx="551.1" cy="75.2" r="1.65"/><circle cx="537.9" cy="68.2" r="1.65"/><circle cx="545.2" cy="99.1" r="1.65"/><circle cx="544.1" cy="162.9" r="1.65"/><circle cx="550.9" cy="220.0" r="1.65"/><circle cx="551.8" cy="101.8" r="1.65"/><circle cx="545.9" cy="187.9" r="1.65"/><circle cx="537.9" cy="93.1" r="1.65"/><circle cx="543.6" cy="145.7" r="1.65"/><circle cx="542.8" cy="99.7" r="1.65"/><circle cx="544.9" cy="191.2" r="1.65"/><circle cx="548.9" cy="72.1" r="1.65"/><circle cx="546.1" cy="219.8" r="1.65"/><circle cx="550.3" cy="63.7" r="1.65"/><circle cx="552.0" cy="220.0" r="1.65"/><circle cx="542.4" cy="209.3" r="1.65"/><circle cx="539.6" cy="148.1" r="1.65"/><circle cx="541.6" cy="219.5" r="1.65"/><circle cx="537.5" cy="128.5" r="1.65"/><circle cx="551.1" cy="220.5" r="1.65"/><circle cx="539.0" cy="124.2" r="1.65"/><circle cx="542.3" cy="150.5" r="1.65"/><circle cx="544.4" cy="220.4" r="1.65"/><circle cx="538.5" cy="210.6" r="1.65"/><circle cx="552.0" cy="220.5" r="1.65"/><circle cx="544.2" cy="220.5" r="1.65"/><circle cx="552.0" cy="141.0" r="1.65"/><circle cx="543.9" cy="103.5" r="1.65"/><circle cx="550.4" cy="80.7" r="1.65"/><circle cx="545.4" cy="136.0" r="1.65"/><circle cx="541.2" cy="140.4" r="1.65"/><circle cx="538.8" cy="192.6" r="1.65"/><circle cx="548.5" cy="121.3" r="1.65"/><circle cx="541.1" cy="182.7" r="1.65"/><circle cx="549.2" cy="152.8" r="1.65"/><circle cx="544.2" cy="220.0" r="1.65"/><circle cx="545.5" cy="135.2" r="1.65"/><circle cx="551.9" cy="66.8" r="1.65"/><circle cx="538.7" cy="70.6" r="1.65"/><circle cx="537.5" cy="155.6" r="1.65"/><circle cx="539.2" cy="114.9" r="1.65"/><circle cx="539.0" cy="138.6" r="1.65"/><circle cx="547.3" cy="151.4" r="1.65"/><circle cx="551.1" cy="150.5" r="1.65"/><circle cx="541.7" cy="220.6" r="1.65"/><circle cx="544.3" cy="84.6" r="1.65"/><circle cx="550.2" cy="219.7" r="1.65"/><circle cx="551.2" cy="71.8" r="1.65"/><circle cx="542.5" cy="85.5" r="1.65"/><circle cx="549.5" cy="138.4" r="1.65"/><circle cx="550.7" cy="146.4" r="1.65"/><circle cx="542.5" cy="114.5" r="1.65"/><circle cx="539.8" cy="220.2" r="1.65"/><circle cx="539.3" cy="206.6" r="1.65"/><circle cx="548.9" cy="80.7" r="1.65"/><circle cx="544.3" cy="219.6" r="1.65"/><circle cx="537.8" cy="136.1" r="1.65"/><circle cx="537.8" cy="220.2" r="1.65"/><circle cx="551.9" cy="85.7" r="1.65"/><circle cx="549.7" cy="162.2" r="1.65"/><circle cx="544.3" cy="100.3" r="1.65"/><circle cx="542.0" cy="107.5" r="1.65"/><circle cx="549.7" cy="90.4" r="1.65"/><circle cx="539.0" cy="195.2" r="1.65"/><circle cx="540.2" cy="98.4" r="1.65"/><circle cx="552.2" cy="220.5" r="1.65"/><circle cx="541.5" cy="220.3" r="1.65"/><circle cx="540.1" cy="123.1" r="1.65"/><circle cx="539.9" cy="124.6" r="1.65"/><circle cx="551.3" cy="220.3" r="1.65"/><circle cx="547.1" cy="220.3" r="1.65"/><circle cx="538.2" cy="113.1" r="1.65"/><circle cx="538.6" cy="146.7" r="1.65"/><circle cx="539.0" cy="220.4" r="1.65"/><circle cx="540.5" cy="161.1" r="1.65"/><circle cx="545.9" cy="183.2" r="1.65"/><circle cx="552.2" cy="219.7" r="1.65"/><circle cx="537.8" cy="101.3" r="1.65"/><circle cx="537.7" cy="220.3" r="1.65"/><circle cx="545.6" cy="71.5" r="1.65"/><circle cx="548.8" cy="89.1" r="1.65"/><circle cx="548.3" cy="219.9" r="1.65"/><circle cx="550.2" cy="163.0" r="1.65"/><circle cx="542.2" cy="191.6" r="1.65"/><circle cx="547.5" cy="99.4" r="1.65"/><circle cx="543.6" cy="73.7" r="1.65"/><circle cx="549.7" cy="67.7" r="1.65"/><circle cx="546.6" cy="219.6" r="1.65"/><circle cx="545.7" cy="220.0" r="1.65"/><circle cx="549.7" cy="75.2" r="1.65"/><circle cx="538.7" cy="71.8" r="1.65"/><circle cx="551.8" cy="220.0" r="1.65"/><circle cx="548.0" cy="219.8" r="1.65"/><circle cx="539.9" cy="220.2" r="1.65"/><circle cx="550.0" cy="142.4" r="1.65"/><circle cx="549.2" cy="219.9" r="1.65"/><circle cx="547.5" cy="187.2" r="1.65"/><circle cx="544.0" cy="220.1" r="1.65"/><circle cx="537.8" cy="152.4" r="1.65"/><circle cx="548.4" cy="63.7" r="1.65"/><circle cx="548.1" cy="219.6" r="1.65"/><circle cx="543.6" cy="64.6" r="1.65"/><circle cx="540.1" cy="107.6" r="1.65"/><circle cx="544.1" cy="127.3" r="1.65"/><circle cx="543.5" cy="185.3" r="1.65"/><circle cx="551.6" cy="96.8" r="1.65"/><circle cx="549.0" cy="191.6" r="1.65"/><circle cx="543.7" cy="82.0" r="1.65"/><circle cx="545.5" cy="167.3" r="1.65"/><circle cx="542.2" cy="101.2" r="1.65"/><circle cx="544.6" cy="220.3" r="1.65"/><circle cx="551.1" cy="65.8" r="1.65"/><circle cx="547.9" cy="219.7" r="1.65"/><circle cx="546.8" cy="220.3" r="1.65"/><circle cx="549.1" cy="220.5" r="1.65"/><circle cx="543.7" cy="219.9" r="1.65"/><circle cx="543.4" cy="183.3" r="1.65"/><circle cx="545.7" cy="88.7" r="1.65"/><circle cx="551.6" cy="220.2" r="1.65"/><circle cx="540.5" cy="215.9" r="1.65"/><circle cx="550.7" cy="118.2" r="1.65"/><circle cx="549.3" cy="140.0" r="1.65"/><circle cx="545.2" cy="142.7" r="1.65"/><circle cx="545.8" cy="200.2" r="1.65"/><circle cx="550.3" cy="123.6" r="1.65"/><circle cx="550.2" cy="149.1" r="1.65"/><circle cx="544.3" cy="121.5" r="1.65"/><circle cx="539.3" cy="94.6" r="1.65"/><circle cx="540.4" cy="91.5" r="1.65"/><circle cx="546.0" cy="124.2" r="1.65"/><circle cx="537.7" cy="74.4" r="1.65"/><circle cx="551.1" cy="129.7" r="1.65"/><circle cx="549.4" cy="114.4" r="1.65"/><circle cx="540.0" cy="161.5" r="1.65"/><circle cx="549.4" cy="220.4" r="1.65"/><circle cx="544.2" cy="83.1" r="1.65"/><circle cx="539.9" cy="63.7" r="1.65"/><circle cx="542.2" cy="180.6" r="1.65"/><circle cx="540.1" cy="151.7" r="1.65"/><circle cx="549.9" cy="220.2" r="1.65"/><circle cx="548.1" cy="168.3" r="1.65"/><circle cx="544.9" cy="104.3" r="1.65"/><circle cx="541.6" cy="220.4" r="1.65"/><circle cx="544.9" cy="196.9" r="1.65"/><circle cx="548.4" cy="209.6" r="1.65"/><circle cx="539.6" cy="64.6" r="1.65"/><circle cx="545.5" cy="124.1" r="1.65"/><circle cx="544.6" cy="133.7" r="1.65"/><circle cx="549.9" cy="122.3" r="1.65"/><circle cx="546.7" cy="143.6" r="1.65"/><circle cx="542.1" cy="100.0" r="1.65"/><circle cx="551.7" cy="121.6" r="1.65"/><circle cx="543.1" cy="204.0" r="1.65"/><circle cx="541.8" cy="220.0" r="1.65"/><circle cx="545.7" cy="160.4" r="1.65"/><circle cx="540.2" cy="65.8" r="1.65"/><circle cx="541.7" cy="220.3" r="1.65"/><circle cx="552.1" cy="219.6" r="1.65"/><circle cx="551.3" cy="114.8" r="1.65"/><circle cx="548.8" cy="150.4" r="1.65"/><circle cx="543.0" cy="219.6" r="1.65"/><circle cx="543.6" cy="117.2" r="1.65"/><circle cx="546.4" cy="220.0" r="1.65"/><circle cx="548.5" cy="156.2" r="1.65"/><circle cx="551.1" cy="143.2" r="1.65"/><circle cx="545.0" cy="151.7" r="1.65"/><circle cx="548.2" cy="219.5" r="1.65"/><circle cx="543.3" cy="63.7" r="1.65"/><circle cx="537.8" cy="201.0" r="1.65"/><circle cx="549.9" cy="136.9" r="1.65"/><circle cx="546.9" cy="139.5" r="1.65"/><circle cx="542.4" cy="214.5" r="1.65"/><circle cx="552.1" cy="220.0" r="1.65"/><circle cx="547.7" cy="220.2" r="1.65"/><circle cx="547.6" cy="116.7" r="1.65"/><circle cx="544.2" cy="219.7" r="1.65"/><circle cx="537.6" cy="84.0" r="1.65"/><circle cx="547.1" cy="141.5" r="1.65"/><circle cx="548.1" cy="220.2" r="1.65"/><circle cx="537.6" cy="140.3" r="1.65"/><circle cx="541.6" cy="220.4" r="1.65"/><circle cx="540.6" cy="220.3" r="1.65"/><circle cx="545.5" cy="147.9" r="1.65"/><circle cx="546.3" cy="131.7" r="1.65"/><circle cx="548.6" cy="219.5" r="1.65"/><circle cx="540.3" cy="210.4" r="1.65"/><circle cx="547.3" cy="160.4" r="1.65"/><circle cx="541.7" cy="212.8" r="1.65"/><circle cx="549.9" cy="115.2" r="1.65"/><circle cx="545.4" cy="124.0" r="1.65"/><circle cx="543.9" cy="211.2" r="1.65"/><circle cx="540.3" cy="220.4" r="1.65"/><circle cx="551.6" cy="220.3" r="1.65"/><circle cx="546.1" cy="128.2" r="1.65"/><circle cx="541.4" cy="184.0" r="1.65"/><circle cx="544.1" cy="93.7" r="1.65"/><circle cx="548.9" cy="145.9" r="1.65"/><circle cx="539.1" cy="97.8" r="1.65"/><circle cx="539.1" cy="82.8" r="1.65"/><circle cx="539.2" cy="177.1" r="1.65"/><circle cx="549.0" cy="132.1" r="1.65"/><circle cx="542.5" cy="99.4" r="1.65"/><circle cx="550.6" cy="219.5" r="1.65"/><circle cx="545.8" cy="64.5" r="1.65"/><circle cx="544.2" cy="137.7" r="1.65"/><circle cx="539.7" cy="220.1" r="1.65"/><circle cx="547.7" cy="160.9" r="1.65"/><circle cx="548.2" cy="219.7" r="1.65"/><circle cx="546.0" cy="164.3" r="1.65"/><circle cx="550.1" cy="185.4" r="1.65"/><circle cx="538.7" cy="126.5" r="1.65"/><circle cx="548.5" cy="134.3" r="1.65"/><circle cx="539.4" cy="79.8" r="1.65"/><circle cx="539.1" cy="219.8" r="1.65"/><circle cx="541.4" cy="158.8" r="1.65"/><circle cx="549.6" cy="101.5" r="1.65"/><circle cx="538.2" cy="220.3" r="1.65"/><circle cx="547.8" cy="63.7" r="1.65"/><circle cx="543.2" cy="176.0" r="1.65"/><circle cx="543.0" cy="98.1" r="1.65"/><circle cx="546.3" cy="109.4" r="1.65"/><circle cx="545.2" cy="173.7" r="1.65"/><circle cx="552.0" cy="151.8" r="1.65"/><circle cx="545.8" cy="219.8" r="1.65"/><circle cx="540.3" cy="220.2" r="1.65"/><circle cx="548.9" cy="155.8" r="1.65"/><circle cx="550.5" cy="82.4" r="1.65"/><circle cx="538.7" cy="76.7" r="1.65"/><circle cx="539.3" cy="63.7" r="1.65"/><circle cx="546.4" cy="153.0" r="1.65"/><circle cx="546.7" cy="219.7" r="1.65"/><circle cx="551.2" cy="220.3" r="1.65"/><circle cx="547.7" cy="64.9" r="1.65"/><circle cx="544.3" cy="201.6" r="1.65"/><circle cx="539.4" cy="220.4" r="1.65"/><circle cx="546.7" cy="93.6" r="1.65"/><circle cx="539.2" cy="63.7" r="1.65"/><circle cx="539.8" cy="155.7" r="1.65"/><circle cx="549.5" cy="220.2" r="1.65"/><circle cx="539.2" cy="220.0" r="1.65"/><circle cx="550.6" cy="101.6" r="1.65"/><circle cx="543.6" cy="183.1" r="1.65"/><circle cx="539.7" cy="134.2" r="1.65"/><circle cx="540.9" cy="220.4" r="1.65"/><circle cx="540.0" cy="219.6" r="1.65"/><circle cx="538.9" cy="214.2" r="1.65"/><circle cx="548.3" cy="101.9" r="1.65"/><circle cx="545.5" cy="170.4" r="1.65"/><circle cx="542.8" cy="63.7" r="1.65"/><circle cx="551.8" cy="219.6" r="1.65"/><circle cx="549.8" cy="134.7" r="1.65"/><circle cx="538.1" cy="220.2" r="1.65"/><circle cx="552.1" cy="71.0" r="1.65"/><circle cx="543.4" cy="159.3" r="1.65"/><circle cx="544.3" cy="115.3" r="1.65"/><circle cx="541.6" cy="104.4" r="1.65"/><circle cx="542.5" cy="217.5" r="1.65"/><circle cx="541.8" cy="189.0" r="1.65"/><circle cx="544.0" cy="166.1" r="1.65"/><circle cx="551.3" cy="105.5" r="1.65"/><circle cx="549.0" cy="77.5" r="1.65"/><circle cx="544.7" cy="124.5" r="1.65"/><circle cx="551.4" cy="80.2" r="1.65"/><circle cx="539.5" cy="220.1" r="1.65"/><circle cx="542.2" cy="120.1" r="1.65"/><circle cx="542.0" cy="196.9" r="1.65"/><circle cx="537.8" cy="156.4" r="1.65"/><circle cx="547.3" cy="219.6" r="1.65"/><circle cx="543.9" cy="140.2" r="1.65"/><circle cx="545.0" cy="81.9" r="1.65"/><circle cx="541.7" cy="143.6" r="1.65"/><circle cx="545.0" cy="211.1" r="1.65"/><circle cx="551.1" cy="220.4" r="1.65"/><circle cx="547.9" cy="91.6" r="1.65"/><circle cx="549.7" cy="188.0" r="1.65"/><circle cx="546.6" cy="148.5" r="1.65"/><circle cx="545.9" cy="68.9" r="1.65"/><circle cx="551.0" cy="117.9" r="1.65"/><circle cx="538.1" cy="220.4" r="1.65"/><circle cx="549.4" cy="202.0" r="1.65"/><circle cx="545.7" cy="86.7" r="1.65"/><circle cx="543.0" cy="63.7" r="1.65"/><circle cx="542.1" cy="167.2" r="1.65"/><circle cx="540.3" cy="211.8" r="1.65"/><circle cx="550.1" cy="188.2" r="1.65"/><circle cx="548.0" cy="201.6" r="1.65"/><circle cx="550.5" cy="220.1" r="1.65"/><circle cx="546.1" cy="220.0" r="1.65"/><circle cx="549.6" cy="103.8" r="1.65"/><circle cx="550.8" cy="220.0" r="1.65"/><circle cx="538.7" cy="128.7" r="1.65"/><circle cx="542.0" cy="163.6" r="1.65"/><circle cx="543.0" cy="194.8" r="1.65"/><circle cx="541.3" cy="172.5" r="1.65"/><circle cx="542.7" cy="154.7" r="1.65"/><circle cx="548.0" cy="219.5" r="1.65"/><circle cx="552.1" cy="106.8" r="1.65"/><circle cx="548.4" cy="63.7" r="1.65"/><circle cx="550.9" cy="129.5" r="1.65"/><circle cx="546.6" cy="104.4" r="1.65"/><circle cx="541.9" cy="175.8" r="1.65"/><circle cx="545.2" cy="119.0" r="1.65"/><circle cx="539.3" cy="130.4" r="1.65"/><circle cx="540.7" cy="220.2" r="1.65"/><circle cx="547.4" cy="143.9" r="1.65"/><circle cx="546.4" cy="132.9" r="1.65"/><circle cx="544.3" cy="77.2" r="1.65"/><circle cx="551.2" cy="118.4" r="1.65"/><circle cx="548.8" cy="220.6" r="1.65"/><circle cx="545.1" cy="81.9" r="1.65"/><circle cx="543.0" cy="137.9" r="1.65"/><circle cx="538.7" cy="133.3" r="1.65"/><circle cx="543.5" cy="220.3" r="1.65"/><circle cx="547.7" cy="220.0" r="1.65"/><circle cx="543.7" cy="184.8" r="1.65"/><circle cx="547.7" cy="90.1" r="1.65"/><circle cx="545.0" cy="184.5" r="1.65"/><circle cx="547.4" cy="196.1" r="1.65"/><circle cx="544.5" cy="220.4" r="1.65"/><circle cx="545.4" cy="110.2" r="1.65"/><circle cx="543.6" cy="220.0" r="1.65"/><circle cx="546.3" cy="190.7" r="1.65"/><circle cx="546.5" cy="99.1" r="1.65"/><circle cx="547.8" cy="145.8" r="1.65"/><circle cx="544.8" cy="220.6" r="1.65"/><circle cx="548.8" cy="220.4" r="1.65"/><circle cx="538.1" cy="189.3" r="1.65"/><circle cx="549.4" cy="117.4" r="1.65"/><circle cx="543.6" cy="161.5" r="1.65"/><circle cx="542.3" cy="220.6" r="1.65"/><circle cx="538.9" cy="219.6" r="1.65"/><circle cx="551.3" cy="131.3" r="1.65"/><circle cx="545.3" cy="192.6" r="1.65"/><circle cx="543.9" cy="138.8" r="1.65"/><circle cx="537.7" cy="220.5" r="1.65"/><circle cx="546.0" cy="126.1" r="1.65"/><circle cx="551.9" cy="124.7" r="1.65"/><circle cx="542.4" cy="219.9" r="1.65"/><circle cx="549.1" cy="165.6" r="1.65"/><circle cx="550.2" cy="198.0" r="1.65"/><circle cx="551.2" cy="220.5" r="1.65"/><circle cx="539.5" cy="128.6" r="1.65"/><circle cx="552.3" cy="127.6" r="1.65"/><circle cx="538.7" cy="75.7" r="1.65"/><circle cx="545.4" cy="107.7" r="1.65"/><circle cx="545.2" cy="63.7" r="1.65"/><circle cx="551.8" cy="131.9" r="1.65"/><circle cx="551.3" cy="220.3" r="1.65"/><circle cx="546.6" cy="220.2" r="1.65"/><circle cx="545.6" cy="171.7" r="1.65"/><circle cx="544.5" cy="78.9" r="1.65"/><circle cx="545.6" cy="165.3" r="1.65"/><circle cx="546.4" cy="92.6" r="1.65"/><circle cx="550.1" cy="167.2" r="1.65"/><circle cx="549.4" cy="151.9" r="1.65"/><circle cx="541.7" cy="217.8" r="1.65"/><circle cx="551.7" cy="112.5" r="1.65"/><circle cx="545.9" cy="124.5" r="1.65"/><circle cx="537.9" cy="141.6" r="1.65"/><circle cx="544.5" cy="167.0" r="1.65"/><circle cx="552.0" cy="219.7" r="1.65"/><circle cx="539.6" cy="186.3" r="1.65"/><circle cx="544.0" cy="220.2" r="1.65"/><circle cx="544.8" cy="63.7" r="1.65"/><circle cx="548.1" cy="139.4" r="1.65"/><circle cx="539.8" cy="219.7" r="1.65"/><circle cx="549.1" cy="220.4" r="1.65"/><circle cx="542.5" cy="219.8" r="1.65"/><circle cx="549.8" cy="219.6" r="1.65"/><circle cx="550.9" cy="220.1" r="1.65"/><circle cx="537.9" cy="220.5" r="1.65"/><circle cx="544.3" cy="202.3" r="1.65"/><circle cx="543.1" cy="219.7" r="1.65"/><circle cx="544.3" cy="220.2" r="1.65"/><circle cx="541.2" cy="117.1" r="1.65"/><circle cx="551.8" cy="184.7" r="1.65"/><circle cx="542.4" cy="146.5" r="1.65"/><circle cx="544.8" cy="171.6" r="1.65"/><circle cx="537.9" cy="210.2" r="1.65"/><circle cx="542.6" cy="220.2" r="1.65"/><circle cx="542.9" cy="71.3" r="1.65"/><circle cx="547.5" cy="85.7" r="1.65"/><circle cx="540.5" cy="110.1" r="1.65"/><circle cx="546.0" cy="220.6" r="1.65"/><circle cx="550.4" cy="108.9" r="1.65"/><circle cx="546.0" cy="140.3" r="1.65"/><circle cx="537.8" cy="158.8" r="1.65"/><circle cx="550.5" cy="194.7" r="1.65"/><circle cx="542.3" cy="65.1" r="1.65"/><circle cx="542.9" cy="94.1" r="1.65"/><circle cx="547.5" cy="142.5" r="1.65"/><circle cx="548.6" cy="220.3" r="1.65"/><circle cx="545.0" cy="220.3" r="1.65"/><circle cx="542.2" cy="193.9" r="1.65"/><circle cx="542.9" cy="219.8" r="1.65"/><circle cx="543.4" cy="100.9" r="1.65"/><circle cx="542.5" cy="109.3" r="1.65"/><circle cx="545.4" cy="220.0" r="1.65"/><circle cx="545.4" cy="109.4" r="1.65"/><circle cx="544.4" cy="155.2" r="1.65"/><circle cx="549.8" cy="218.3" r="1.65"/><circle cx="538.4" cy="219.6" r="1.65"/><circle cx="550.9" cy="219.8" r="1.65"/><circle cx="541.1" cy="159.5" r="1.65"/><circle cx="546.4" cy="163.1" r="1.65"/><circle cx="548.1" cy="85.9" r="1.65"/><circle cx="548.0" cy="71.6" r="1.65"/><circle cx="542.2" cy="104.0" r="1.65"/><circle cx="539.9" cy="166.9" r="1.65"/><circle cx="543.4" cy="168.1" r="1.65"/><circle cx="544.6" cy="172.0" r="1.65"/><circle cx="544.3" cy="111.6" r="1.65"/><circle cx="550.1" cy="173.8" r="1.65"/><circle cx="552.2" cy="208.1" r="1.65"/><circle cx="537.7" cy="220.5" r="1.65"/><circle cx="547.5" cy="208.6" r="1.65"/><circle cx="543.4" cy="133.3" r="1.65"/><circle cx="545.4" cy="93.9" r="1.65"/><circle cx="549.4" cy="145.5" r="1.65"/><circle cx="548.4" cy="107.2" r="1.65"/><circle cx="548.2" cy="85.7" r="1.65"/><circle cx="547.0" cy="164.3" r="1.65"/><circle cx="549.3" cy="103.3" r="1.65"/><circle cx="545.1" cy="77.7" r="1.65"/><circle cx="546.2" cy="124.6" r="1.65"/><circle cx="547.6" cy="220.3" r="1.65"/><circle cx="550.0" cy="220.5" r="1.65"/><circle cx="549.1" cy="63.7" r="1.65"/><circle cx="547.1" cy="137.3" r="1.65"/><circle cx="547.7" cy="220.2" r="1.65"/><circle cx="544.0" cy="126.1" r="1.65"/><circle cx="551.3" cy="219.7" r="1.65"/><circle cx="545.1" cy="209.1" r="1.65"/><circle cx="540.4" cy="220.6" r="1.65"/><circle cx="540.1" cy="220.1" r="1.65"/><circle cx="549.1" cy="208.1" r="1.65"/><circle cx="546.8" cy="91.1" r="1.65"/><circle cx="547.3" cy="63.7" r="1.65"/><circle cx="551.0" cy="73.2" r="1.65"/><circle cx="552.2" cy="220.0" r="1.65"/><circle cx="552.0" cy="219.5" r="1.65"/><circle cx="547.5" cy="219.5" r="1.65"/><circle cx="541.3" cy="200.5" r="1.65"/><circle cx="543.9" cy="219.6" r="1.65"/><circle cx="541.1" cy="128.3" r="1.65"/><circle cx="538.7" cy="219.7" r="1.65"/><circle cx="537.5" cy="121.5" r="1.65"/><circle cx="546.8" cy="220.5" r="1.65"/><circle cx="550.7" cy="219.7" r="1.65"/><circle cx="547.5" cy="220.4" r="1.65"/><circle cx="544.6" cy="110.3" r="1.65"/><circle cx="549.9" cy="197.5" r="1.65"/><circle cx="550.9" cy="142.7" r="1.65"/><circle cx="538.0" cy="81.2" r="1.65"/><circle cx="544.5" cy="188.5" r="1.65"/><circle cx="545.7" cy="220.5" r="1.65"/><circle cx="541.7" cy="119.1" r="1.65"/><circle cx="543.7" cy="187.0" r="1.65"/><circle cx="538.3" cy="153.4" r="1.65"/><circle cx="548.9" cy="133.9" r="1.65"/><circle cx="545.2" cy="163.5" r="1.65"/><circle cx="540.7" cy="207.6" r="1.65"/><circle cx="541.9" cy="103.2" r="1.65"/><circle cx="541.5" cy="139.5" r="1.65"/><circle cx="545.8" cy="122.3" r="1.65"/><circle cx="548.9" cy="83.5" r="1.65"/><circle cx="542.8" cy="99.6" r="1.65"/><circle cx="538.7" cy="216.7" r="1.65"/><circle cx="542.4" cy="220.4" r="1.65"/><circle cx="549.9" cy="186.4" r="1.65"/><circle cx="549.4" cy="189.5" r="1.65"/><circle cx="551.8" cy="168.0" r="1.65"/><circle cx="549.9" cy="85.1" r="1.65"/><circle cx="539.7" cy="79.1" r="1.65"/><circle cx="540.5" cy="118.8" r="1.65"/><circle cx="552.0" cy="67.5" r="1.65"/><circle cx="539.5" cy="154.7" r="1.65"/><circle cx="540.8" cy="103.2" r="1.65"/><circle cx="550.6" cy="173.9" r="1.65"/><circle cx="548.8" cy="113.0" r="1.65"/><circle cx="550.9" cy="187.4" r="1.65"/><circle cx="547.5" cy="171.4" r="1.65"/><circle cx="540.5" cy="107.1" r="1.65"/><circle cx="539.1" cy="158.2" r="1.65"/><circle cx="540.7" cy="187.9" r="1.65"/><circle cx="543.9" cy="220.5" r="1.65"/><circle cx="541.5" cy="211.4" r="1.65"/><circle cx="549.8" cy="172.1" r="1.65"/><circle cx="545.7" cy="113.7" r="1.65"/><circle cx="542.8" cy="105.0" r="1.65"/><circle cx="542.1" cy="220.0" r="1.65"/><circle cx="547.1" cy="127.6" r="1.65"/><circle cx="543.9" cy="142.7" r="1.65"/><circle cx="547.1" cy="175.8" r="1.65"/><circle cx="550.8" cy="200.8" r="1.65"/><circle cx="546.7" cy="176.1" r="1.65"/><circle cx="546.4" cy="180.7" r="1.65"/><circle cx="541.9" cy="154.2" r="1.65"/><circle cx="541.3" cy="102.4" r="1.65"/><circle cx="545.4" cy="220.5" r="1.65"/><circle cx="541.0" cy="91.3" r="1.65"/><circle cx="551.2" cy="140.8" r="1.65"/><circle cx="545.7" cy="146.0" r="1.65"/><circle cx="539.0" cy="154.6" r="1.65"/><circle cx="550.4" cy="89.6" r="1.65"/><circle cx="550.9" cy="63.7" r="1.65"/><circle cx="547.8" cy="67.6" r="1.65"/><circle cx="539.6" cy="220.4" r="1.65"/><circle cx="546.2" cy="136.3" r="1.65"/><circle cx="551.9" cy="87.9" r="1.65"/><circle cx="538.1" cy="131.0" r="1.65"/><circle cx="543.2" cy="219.7" r="1.65"/><circle cx="550.1" cy="220.1" r="1.65"/><circle cx="539.3" cy="123.1" r="1.65"/><circle cx="538.5" cy="220.2" r="1.65"/><circle cx="542.3" cy="220.0" r="1.65"/><circle cx="539.8" cy="98.8" r="1.65"/><circle cx="550.4" cy="220.4" r="1.65"/><circle cx="549.3" cy="94.5" r="1.65"/><circle cx="541.7" cy="183.1" r="1.65"/><circle cx="543.2" cy="198.5" r="1.65"/><circle cx="538.1" cy="219.7" r="1.65"/><circle cx="545.8" cy="186.5" r="1.65"/><circle cx="545.4" cy="214.7" r="1.65"/><circle cx="541.5" cy="220.0" r="1.65"/><circle cx="542.5" cy="220.1" r="1.65"/><circle cx="544.7" cy="120.6" r="1.65"/><circle cx="539.6" cy="142.3" r="1.65"/><circle cx="539.4" cy="109.2" r="1.65"/><circle cx="552.2" cy="127.7" r="1.65"/><circle cx="551.4" cy="217.9" r="1.65"/><circle cx="539.3" cy="149.8" r="1.65"/><circle cx="540.3" cy="209.0" r="1.65"/><circle cx="547.0" cy="220.1" r="1.65"/><circle cx="545.1" cy="153.8" r="1.65"/><circle cx="542.4" cy="115.5" r="1.65"/><circle cx="542.8" cy="220.1" r="1.65"/><circle cx="539.0" cy="175.6" r="1.65"/><circle cx="550.1" cy="219.7" r="1.65"/><circle cx="545.7" cy="215.8" r="1.65"/><circle cx="538.3" cy="218.1" r="1.65"/><circle cx="550.9" cy="76.6" r="1.65"/><circle cx="540.0" cy="86.1" r="1.65"/><circle cx="538.3" cy="209.7" r="1.65"/><circle cx="542.8" cy="215.8" r="1.65"/><circle cx="551.1" cy="67.3" r="1.65"/><circle cx="542.8" cy="63.7" r="1.65"/><circle cx="541.0" cy="197.9" r="1.65"/><circle cx="545.8" cy="219.6" r="1.65"/><circle cx="546.8" cy="168.8" r="1.65"/><circle cx="539.9" cy="63.7" r="1.65"/><circle cx="547.8" cy="103.4" r="1.65"/><circle cx="537.8" cy="172.3" r="1.65"/><circle cx="546.6" cy="133.9" r="1.65"/><circle cx="549.1" cy="151.1" r="1.65"/><circle cx="546.9" cy="177.8" r="1.65"/><circle cx="537.9" cy="131.8" r="1.65"/><circle cx="538.2" cy="142.7" r="1.65"/><circle cx="549.7" cy="126.6" r="1.65"/><circle cx="549.2" cy="148.3" r="1.65"/><circle cx="548.0" cy="63.7" r="1.65"/><circle cx="539.1" cy="219.9" r="1.65"/><circle cx="544.5" cy="85.9" r="1.65"/><circle cx="539.2" cy="118.6" r="1.65"/><circle cx="538.3" cy="136.9" r="1.65"/><circle cx="547.3" cy="63.7" r="1.65"/><circle cx="542.8" cy="219.8" r="1.65"/><circle cx="538.7" cy="116.6" r="1.65"/><circle cx="551.7" cy="202.3" r="1.65"/><circle cx="549.6" cy="171.1" r="1.65"/><circle cx="539.6" cy="114.1" r="1.65"/><circle cx="544.8" cy="106.7" r="1.65"/><circle cx="551.5" cy="175.4" r="1.65"/><circle cx="548.9" cy="219.6" r="1.65"/><circle cx="541.5" cy="219.6" r="1.65"/><circle cx="549.6" cy="92.1" r="1.65"/><circle cx="547.4" cy="192.3" r="1.65"/><circle cx="552.1" cy="219.8" r="1.65"/></g><line x1="598.3" x2="598.3" y1="63.70" y2="153.13" stroke="#b4b4b4" stroke-width="1.1"/><rect x="578.00" y="153.13" width="40.60" height="64.33" fill="#bd86cc" stroke="#555" stroke-width="0.7"/><line x1="578.00" x2="618.60" y1="188.28" y2="188.28" stroke="#333" stroke-width="1.3"/><g fill="#7b1596"><circle cx="591.7" cy="84.6" r="1.65"/><circle cx="593.2" cy="64.4" r="1.65"/><circle cx="604.6" cy="167.0" r="1.65"/><circle cx="596.1" cy="217.7" r="1.65"/><circle cx="601.5" cy="174.1" r="1.65"/><circle cx="592.1" cy="99.7" r="1.65"/><circle cx="596.0" cy="118.3" r="1.65"/><circle cx="600.0" cy="218.2" r="1.65"/><circle cx="605.6" cy="93.5" r="1.65"/><circle cx="600.5" cy="179.0" r="1.65"/><circle cx="596.0" cy="216.5" r="1.65"/><circle cx="601.0" cy="145.4" r="1.65"/><circle cx="601.3" cy="218.8" r="1.65"/><circle cx="599.3" cy="218.3" r="1.65"/><circle cx="598.9" cy="220.2" r="1.65"/><circle cx="601.2" cy="185.8" r="1.65"/><circle cx="596.9" cy="102.9" r="1.65"/><circle cx="600.2" cy="176.7" r="1.65"/><circle cx="601.4" cy="182.2" r="1.65"/><circle cx="606.1" cy="184.3" r="1.65"/><circle cx="597.4" cy="205.1" r="1.65"/><circle cx="599.0" cy="97.2" r="1.65"/><circle cx="604.7" cy="199.9" r="1.65"/><circle cx="596.6" cy="218.4" r="1.65"/><circle cx="594.2" cy="208.3" r="1.65"/><circle cx="603.2" cy="220.1" r="1.65"/><circle cx="601.7" cy="167.6" r="1.65"/><circle cx="603.7" cy="219.9" r="1.65"/><circle cx="603.9" cy="100.9" r="1.65"/><circle cx="600.1" cy="188.5" r="1.65"/><circle cx="598.4" cy="68.3" r="1.65"/><circle cx="596.6" cy="156.3" r="1.65"/><circle cx="600.4" cy="144.6" r="1.65"/><circle cx="598.8" cy="91.4" r="1.65"/><circle cx="593.9" cy="169.4" r="1.65"/><circle cx="595.4" cy="161.3" r="1.65"/><circle cx="596.6" cy="220.1" r="1.65"/><circle cx="595.2" cy="219.1" r="1.65"/><circle cx="595.5" cy="124.3" r="1.65"/><circle cx="594.5" cy="219.4" r="1.65"/><circle cx="605.1" cy="206.5" r="1.65"/><circle cx="597.0" cy="132.2" r="1.65"/><circle cx="594.4" cy="128.6" r="1.65"/><circle cx="602.5" cy="189.4" r="1.65"/><circle cx="595.1" cy="157.6" r="1.65"/><circle cx="592.4" cy="217.7" r="1.65"/><circle cx="604.6" cy="165.0" r="1.65"/><circle cx="598.8" cy="167.8" r="1.65"/><circle cx="598.6" cy="173.7" r="1.65"/><circle cx="591.5" cy="220.2" r="1.65"/><circle cx="603.9" cy="169.7" r="1.65"/><circle cx="593.5" cy="217.7" r="1.65"/><circle cx="603.5" cy="206.7" r="1.65"/><circle cx="600.9" cy="220.5" r="1.65"/><circle cx="604.6" cy="218.4" r="1.65"/><circle cx="604.0" cy="181.1" r="1.65"/><circle cx="595.5" cy="186.5" r="1.65"/><circle cx="598.9" cy="218.6" r="1.65"/><circle cx="605.8" cy="160.6" r="1.65"/><circle cx="604.3" cy="218.2" r="1.65"/><circle cx="601.1" cy="150.2" r="1.65"/><circle cx="592.1" cy="218.2" r="1.65"/><circle cx="599.1" cy="202.3" r="1.65"/><circle cx="599.7" cy="79.6" r="1.65"/><circle cx="599.2" cy="124.6" r="1.65"/><circle cx="605.4" cy="148.7" r="1.65"/><circle cx="603.6" cy="162.1" r="1.65"/><circle cx="594.0" cy="219.4" r="1.65"/><circle cx="604.9" cy="187.6" r="1.65"/><circle cx="602.3" cy="198.6" r="1.65"/><circle cx="605.3" cy="207.8" r="1.65"/><circle cx="603.3" cy="156.4" r="1.65"/><circle cx="595.6" cy="166.9" r="1.65"/><circle cx="605.1" cy="217.6" r="1.65"/><circle cx="596.1" cy="211.8" r="1.65"/><circle cx="596.3" cy="219.3" r="1.65"/><circle cx="597.5" cy="218.4" r="1.65"/><circle cx="595.9" cy="205.3" r="1.65"/><circle cx="605.6" cy="182.5" r="1.65"/><circle cx="605.5" cy="202.9" r="1.65"/><circle cx="593.3" cy="186.3" r="1.65"/><circle cx="593.5" cy="217.6" r="1.65"/><circle cx="603.5" cy="220.0" r="1.65"/><circle cx="603.3" cy="219.2" r="1.65"/><circle cx="596.4" cy="187.6" r="1.65"/><circle cx="600.0" cy="202.2" r="1.65"/><circle cx="592.1" cy="193.1" r="1.65"/><circle cx="601.3" cy="162.1" r="1.65"/><circle cx="591.6" cy="204.5" r="1.65"/><circle cx="598.1" cy="219.6" r="1.65"/><circle cx="598.4" cy="146.1" r="1.65"/><circle cx="591.7" cy="169.2" r="1.65"/><circle cx="595.9" cy="101.1" r="1.65"/><circle cx="605.2" cy="217.6" r="1.65"/><circle cx="599.6" cy="207.3" r="1.65"/><circle cx="605.0" cy="218.4" r="1.65"/><circle cx="595.3" cy="180.4" r="1.65"/><circle cx="594.7" cy="123.6" r="1.65"/><circle cx="599.9" cy="184.1" r="1.65"/><circle cx="599.6" cy="173.9" r="1.65"/><circle cx="596.9" cy="205.3" r="1.65"/><circle cx="594.8" cy="74.4" r="1.65"/><circle cx="602.3" cy="198.1" r="1.65"/><circle cx="596.0" cy="220.0" r="1.65"/><circle cx="601.5" cy="146.4" r="1.65"/><circle cx="593.3" cy="158.2" r="1.65"/><circle cx="595.3" cy="203.2" r="1.65"/><circle cx="603.4" cy="220.5" r="1.65"/><circle cx="598.9" cy="218.6" r="1.65"/><circle cx="596.9" cy="218.6" r="1.65"/><circle cx="592.6" cy="191.0" r="1.65"/><circle cx="598.0" cy="188.1" r="1.65"/><circle cx="599.9" cy="194.0" r="1.65"/><circle cx="604.1" cy="217.7" r="1.65"/><circle cx="592.4" cy="220.0" r="1.65"/><circle cx="605.1" cy="134.2" r="1.65"/><circle cx="597.8" cy="170.5" r="1.65"/><circle cx="603.3" cy="155.6" r="1.65"/><circle cx="596.5" cy="199.1" r="1.65"/><circle cx="604.8" cy="179.8" r="1.65"/><circle cx="604.8" cy="98.7" r="1.65"/><circle cx="593.7" cy="161.6" r="1.65"/><circle cx="598.1" cy="86.9" r="1.65"/><circle cx="600.6" cy="201.7" r="1.65"/><circle cx="595.7" cy="127.1" r="1.65"/><circle cx="593.9" cy="172.4" r="1.65"/><circle cx="592.0" cy="213.7" r="1.65"/><circle cx="603.7" cy="136.5" r="1.65"/><circle cx="591.7" cy="193.5" r="1.65"/><circle cx="602.6" cy="219.2" r="1.65"/><circle cx="595.9" cy="142.2" r="1.65"/><circle cx="596.8" cy="165.2" r="1.65"/><circle cx="594.7" cy="219.6" r="1.65"/><circle cx="592.5" cy="218.2" r="1.65"/><circle cx="604.7" cy="111.1" r="1.65"/><circle cx="604.7" cy="154.9" r="1.65"/><circle cx="604.5" cy="138.4" r="1.65"/><circle cx="593.6" cy="190.8" r="1.65"/><circle cx="603.7" cy="210.4" r="1.65"/><circle cx="593.1" cy="219.1" r="1.65"/><circle cx="597.5" cy="217.7" r="1.65"/><circle cx="595.0" cy="218.7" r="1.65"/><circle cx="597.8" cy="114.5" r="1.65"/><circle cx="595.2" cy="149.2" r="1.65"/><circle cx="594.9" cy="219.1" r="1.65"/><circle cx="601.9" cy="155.2" r="1.65"/><circle cx="595.9" cy="214.5" r="1.65"/><circle cx="594.3" cy="200.8" r="1.65"/><circle cx="595.1" cy="217.9" r="1.65"/><circle cx="594.8" cy="83.6" r="1.65"/><circle cx="600.1" cy="220.0" r="1.65"/><circle cx="602.8" cy="219.2" r="1.65"/><circle cx="601.5" cy="220.6" r="1.65"/><circle cx="598.3" cy="144.1" r="1.65"/><circle cx="599.0" cy="185.7" r="1.65"/><circle cx="592.1" cy="217.6" r="1.65"/><circle cx="599.4" cy="218.6" r="1.65"/><circle cx="598.9" cy="217.6" r="1.65"/><circle cx="600.2" cy="217.7" r="1.65"/><circle cx="598.9" cy="163.5" r="1.65"/><circle cx="595.9" cy="177.0" r="1.65"/><circle cx="592.9" cy="140.6" r="1.65"/><circle cx="592.9" cy="197.5" r="1.65"/><circle cx="604.3" cy="219.2" r="1.65"/><circle cx="602.8" cy="201.1" r="1.65"/><circle cx="600.3" cy="219.4" r="1.65"/><circle cx="596.2" cy="128.4" r="1.65"/><circle cx="593.2" cy="215.6" r="1.65"/><circle cx="605.9" cy="214.8" r="1.65"/><circle cx="602.3" cy="215.1" r="1.65"/><circle cx="597.5" cy="81.1" r="1.65"/><circle cx="602.4" cy="154.0" r="1.65"/><circle cx="603.0" cy="189.1" r="1.65"/><circle cx="592.7" cy="217.6" r="1.65"/><circle cx="598.6" cy="202.9" r="1.65"/><circle cx="592.7" cy="184.9" r="1.65"/><circle cx="598.7" cy="205.4" r="1.65"/><circle cx="603.3" cy="162.3" r="1.65"/><circle cx="599.4" cy="181.9" r="1.65"/><circle cx="600.2" cy="70.9" r="1.65"/><circle cx="602.7" cy="200.4" r="1.65"/><circle cx="602.2" cy="203.1" r="1.65"/><circle cx="599.8" cy="85.9" r="1.65"/><circle cx="601.2" cy="203.8" r="1.65"/><circle cx="602.6" cy="152.8" r="1.65"/><circle cx="595.5" cy="220.2" r="1.65"/><circle cx="597.4" cy="201.3" r="1.65"/><circle cx="594.1" cy="192.1" r="1.65"/><circle cx="599.1" cy="218.0" r="1.65"/><circle cx="592.7" cy="220.0" r="1.65"/><circle cx="602.5" cy="155.4" r="1.65"/><circle cx="603.0" cy="186.2" r="1.65"/><circle cx="599.0" cy="219.0" r="1.65"/><circle cx="604.2" cy="125.2" r="1.65"/><circle cx="602.3" cy="207.9" r="1.65"/><circle cx="603.5" cy="124.6" r="1.65"/><circle cx="599.5" cy="218.1" r="1.65"/><circle cx="599.9" cy="157.0" r="1.65"/><circle cx="598.1" cy="213.5" r="1.65"/><circle cx="596.6" cy="139.8" r="1.65"/><circle cx="597.3" cy="217.8" r="1.65"/><circle cx="594.8" cy="214.9" r="1.65"/><circle cx="600.7" cy="212.3" r="1.65"/><circle cx="601.3" cy="170.5" r="1.65"/><circle cx="599.2" cy="219.0" r="1.65"/><circle cx="592.8" cy="153.6" r="1.65"/><circle cx="603.0" cy="191.1" r="1.65"/><circle cx="591.9" cy="194.6" r="1.65"/><circle cx="593.0" cy="187.8" r="1.65"/><circle cx="599.7" cy="185.0" r="1.65"/><circle cx="591.7" cy="217.7" r="1.65"/><circle cx="597.6" cy="211.0" r="1.65"/><circle cx="600.0" cy="70.5" r="1.65"/><circle cx="603.8" cy="195.3" r="1.65"/><circle cx="604.7" cy="207.6" r="1.65"/><circle cx="597.3" cy="169.9" r="1.65"/><circle cx="603.0" cy="219.3" r="1.65"/><circle cx="602.3" cy="188.4" r="1.65"/><circle cx="605.8" cy="208.0" r="1.65"/><circle cx="601.2" cy="158.0" r="1.65"/><circle cx="601.8" cy="167.9" r="1.65"/><circle cx="594.5" cy="104.6" r="1.65"/><circle cx="606.0" cy="190.7" r="1.65"/><circle cx="600.5" cy="219.3" r="1.65"/><circle cx="598.8" cy="196.5" r="1.65"/><circle cx="602.0" cy="217.8" r="1.65"/><circle cx="600.8" cy="211.7" r="1.65"/><circle cx="604.6" cy="183.8" r="1.65"/><circle cx="598.5" cy="80.7" r="1.65"/><circle cx="597.3" cy="219.1" r="1.65"/><circle cx="603.2" cy="128.4" r="1.65"/><circle cx="597.5" cy="220.2" r="1.65"/><circle cx="592.7" cy="132.6" r="1.65"/><circle cx="597.8" cy="161.9" r="1.65"/><circle cx="600.6" cy="199.5" r="1.65"/><circle cx="604.1" cy="132.6" r="1.65"/><circle cx="599.0" cy="194.4" r="1.65"/><circle cx="598.5" cy="112.6" r="1.65"/><circle cx="592.0" cy="107.2" r="1.65"/><circle cx="592.0" cy="169.5" r="1.65"/><circle cx="598.9" cy="202.6" r="1.65"/><circle cx="595.3" cy="184.1" r="1.65"/><circle cx="598.5" cy="123.6" r="1.65"/><circle cx="597.5" cy="175.6" r="1.65"/><circle cx="603.9" cy="187.5" r="1.65"/><circle cx="602.5" cy="218.4" r="1.65"/><circle cx="600.7" cy="111.7" r="1.65"/><circle cx="604.6" cy="167.8" r="1.65"/><circle cx="593.2" cy="71.3" r="1.65"/><circle cx="595.5" cy="157.8" r="1.65"/><circle cx="604.6" cy="219.3" r="1.65"/><circle cx="594.4" cy="184.2" r="1.65"/><circle cx="593.9" cy="98.2" r="1.65"/><circle cx="595.3" cy="177.9" r="1.65"/><circle cx="596.9" cy="203.1" r="1.65"/><circle cx="595.0" cy="219.1" r="1.65"/><circle cx="603.9" cy="162.9" r="1.65"/><circle cx="593.7" cy="153.6" r="1.65"/><circle cx="595.7" cy="142.1" r="1.65"/><circle cx="602.8" cy="220.6" r="1.65"/><circle cx="595.0" cy="80.2" r="1.65"/><circle cx="600.9" cy="199.7" r="1.65"/><circle cx="594.0" cy="126.3" r="1.65"/><circle cx="593.7" cy="105.5" r="1.65"/><circle cx="604.4" cy="127.5" r="1.65"/><circle cx="599.3" cy="152.9" r="1.65"/><circle cx="598.8" cy="220.5" r="1.65"/><circle cx="604.5" cy="218.7" r="1.65"/><circle cx="591.7" cy="108.3" r="1.65"/><circle cx="604.3" cy="160.5" r="1.65"/><circle cx="592.1" cy="192.7" r="1.65"/><circle cx="597.8" cy="146.5" r="1.65"/><circle cx="595.0" cy="189.9" r="1.65"/><circle cx="593.7" cy="194.4" r="1.65"/><circle cx="596.0" cy="219.0" r="1.65"/><circle cx="593.8" cy="72.1" r="1.65"/><circle cx="598.0" cy="126.8" r="1.65"/><circle cx="598.7" cy="190.2" r="1.65"/><circle cx="594.7" cy="215.9" r="1.65"/><circle cx="596.2" cy="201.8" r="1.65"/><circle cx="594.2" cy="139.2" r="1.65"/><circle cx="591.5" cy="200.5" r="1.65"/><circle cx="603.1" cy="219.9" r="1.65"/><circle cx="601.7" cy="146.6" r="1.65"/><circle cx="601.9" cy="64.7" r="1.65"/><circle cx="598.0" cy="194.2" r="1.65"/><circle cx="605.7" cy="156.8" r="1.65"/><circle cx="601.0" cy="149.4" r="1.65"/><circle cx="595.1" cy="141.5" r="1.65"/><circle cx="593.7" cy="155.9" r="1.65"/><circle cx="600.3" cy="219.1" r="1.65"/><circle cx="593.6" cy="208.3" r="1.65"/><circle cx="603.7" cy="178.1" r="1.65"/><circle cx="599.6" cy="157.3" r="1.65"/><circle cx="601.4" cy="219.0" r="1.65"/><circle cx="599.3" cy="63.7" r="1.65"/><circle cx="598.7" cy="218.4" r="1.65"/><circle cx="595.8" cy="189.7" r="1.65"/><circle cx="594.3" cy="191.0" r="1.65"/><circle cx="603.2" cy="169.7" r="1.65"/><circle cx="603.0" cy="202.9" r="1.65"/><circle cx="601.1" cy="220.3" r="1.65"/><circle cx="599.7" cy="220.4" r="1.65"/><circle cx="603.7" cy="76.2" r="1.65"/><circle cx="592.5" cy="73.9" r="1.65"/><circle cx="591.4" cy="206.8" r="1.65"/><circle cx="602.4" cy="169.5" r="1.65"/><circle cx="593.1" cy="203.4" r="1.65"/><circle cx="599.7" cy="198.0" r="1.65"/><circle cx="598.1" cy="217.9" r="1.65"/><circle cx="595.6" cy="100.1" r="1.65"/><circle cx="602.8" cy="218.7" r="1.65"/><circle cx="604.4" cy="220.4" r="1.65"/><circle cx="603.1" cy="192.6" r="1.65"/><circle cx="601.9" cy="98.2" r="1.65"/><circle cx="604.9" cy="219.6" r="1.65"/><circle cx="598.0" cy="170.3" r="1.65"/><circle cx="599.7" cy="193.4" r="1.65"/><circle cx="591.9" cy="92.1" r="1.65"/><circle cx="597.8" cy="170.7" r="1.65"/><circle cx="601.1" cy="219.5" r="1.65"/><circle cx="599.4" cy="217.7" r="1.65"/><circle cx="596.8" cy="144.1" r="1.65"/><circle cx="603.9" cy="165.4" r="1.65"/><circle cx="591.5" cy="91.1" r="1.65"/><circle cx="602.9" cy="192.3" r="1.65"/><circle cx="600.0" cy="210.0" r="1.65"/><circle cx="594.8" cy="218.2" r="1.65"/><circle cx="599.7" cy="119.5" r="1.65"/><circle cx="593.6" cy="119.5" r="1.65"/><circle cx="600.7" cy="181.6" r="1.65"/><circle cx="597.1" cy="107.4" r="1.65"/><circle cx="598.5" cy="219.0" r="1.65"/><circle cx="602.0" cy="136.3" r="1.65"/><circle cx="604.2" cy="218.8" r="1.65"/><circle cx="601.3" cy="138.2" r="1.65"/><circle cx="595.6" cy="218.5" r="1.65"/><circle cx="596.8" cy="212.6" r="1.65"/><circle cx="606.1" cy="166.0" r="1.65"/><circle cx="600.0" cy="220.6" r="1.65"/><circle cx="604.4" cy="196.2" r="1.65"/><circle cx="593.7" cy="217.5" r="1.65"/><circle cx="603.5" cy="195.3" r="1.65"/><circle cx="599.1" cy="105.5" r="1.65"/><circle cx="599.4" cy="158.7" r="1.65"/><circle cx="605.6" cy="218.9" r="1.65"/><circle cx="596.7" cy="174.9" r="1.65"/><circle cx="597.0" cy="218.9" r="1.65"/><circle cx="598.7" cy="212.6" r="1.65"/><circle cx="597.3" cy="97.5" r="1.65"/><circle cx="596.2" cy="202.1" r="1.65"/><circle cx="604.9" cy="218.2" r="1.65"/><circle cx="598.8" cy="204.0" r="1.65"/><circle cx="597.2" cy="169.1" r="1.65"/><circle cx="594.2" cy="116.6" r="1.65"/><circle cx="599.8" cy="210.8" r="1.65"/><circle cx="595.9" cy="202.6" r="1.65"/><circle cx="604.2" cy="67.1" r="1.65"/><circle cx="599.3" cy="112.3" r="1.65"/><circle cx="599.2" cy="156.8" r="1.65"/><circle cx="594.0" cy="169.6" r="1.65"/><circle cx="591.9" cy="219.9" r="1.65"/><circle cx="593.0" cy="210.5" r="1.65"/><circle cx="602.0" cy="166.2" r="1.65"/><circle cx="599.7" cy="197.7" r="1.65"/><circle cx="597.6" cy="122.6" r="1.65"/><circle cx="597.7" cy="97.6" r="1.65"/><circle cx="600.9" cy="122.7" r="1.65"/><circle cx="593.0" cy="220.3" r="1.65"/><circle cx="594.3" cy="220.4" r="1.65"/><circle cx="598.9" cy="217.6" r="1.65"/><circle cx="601.7" cy="163.0" r="1.65"/><circle cx="593.6" cy="124.3" r="1.65"/><circle cx="593.9" cy="158.7" r="1.65"/><circle cx="606.0" cy="172.3" r="1.65"/><circle cx="596.7" cy="220.2" r="1.65"/><circle cx="591.4" cy="203.5" r="1.65"/><circle cx="598.2" cy="214.5" r="1.65"/><circle cx="601.1" cy="220.4" r="1.65"/><circle cx="605.4" cy="97.6" r="1.65"/><circle cx="601.7" cy="215.7" r="1.65"/><circle cx="592.0" cy="206.3" r="1.65"/><circle cx="596.9" cy="218.1" r="1.65"/><circle cx="595.7" cy="160.1" r="1.65"/><circle cx="600.1" cy="219.6" r="1.65"/><circle cx="599.3" cy="174.1" r="1.65"/><circle cx="603.8" cy="160.7" r="1.65"/><circle cx="598.5" cy="220.6" r="1.65"/><circle cx="598.2" cy="67.4" r="1.65"/><circle cx="602.9" cy="220.0" r="1.65"/><circle cx="601.7" cy="220.5" r="1.65"/><circle cx="592.4" cy="173.2" r="1.65"/><circle cx="591.6" cy="84.5" r="1.65"/><circle cx="594.8" cy="178.5" r="1.65"/><circle cx="591.9" cy="172.3" r="1.65"/><circle cx="592.7" cy="139.5" r="1.65"/><circle cx="596.2" cy="111.3" r="1.65"/><circle cx="593.9" cy="220.3" r="1.65"/><circle cx="605.7" cy="179.6" r="1.65"/><circle cx="592.4" cy="151.8" r="1.65"/><circle cx="603.3" cy="214.1" r="1.65"/><circle cx="602.2" cy="131.2" r="1.65"/><circle cx="603.6" cy="179.9" r="1.65"/><circle cx="599.3" cy="136.3" r="1.65"/><circle cx="601.8" cy="219.5" r="1.65"/><circle cx="604.7" cy="88.7" r="1.65"/><circle cx="605.1" cy="104.6" r="1.65"/><circle cx="598.0" cy="178.5" r="1.65"/><circle cx="602.1" cy="188.7" r="1.65"/><circle cx="601.0" cy="216.7" r="1.65"/><circle cx="599.6" cy="79.2" r="1.65"/><circle cx="605.1" cy="202.9" r="1.65"/><circle cx="595.6" cy="220.4" r="1.65"/><circle cx="591.4" cy="146.8" r="1.65"/><circle cx="593.5" cy="111.5" r="1.65"/><circle cx="595.1" cy="219.4" r="1.65"/><circle cx="593.4" cy="219.6" r="1.65"/><circle cx="597.9" cy="196.2" r="1.65"/><circle cx="598.2" cy="212.6" r="1.65"/><circle cx="596.1" cy="177.2" r="1.65"/><circle cx="605.7" cy="162.9" r="1.65"/><circle cx="591.4" cy="171.6" r="1.65"/><circle cx="606.0" cy="196.5" r="1.65"/><circle cx="594.4" cy="158.9" r="1.65"/><circle cx="605.5" cy="218.7" r="1.65"/><circle cx="599.5" cy="218.0" r="1.65"/><circle cx="592.2" cy="215.5" r="1.65"/><circle cx="596.2" cy="169.4" r="1.65"/><circle cx="596.6" cy="79.6" r="1.65"/><circle cx="591.9" cy="160.8" r="1.65"/><circle cx="593.8" cy="188.3" r="1.65"/><circle cx="594.2" cy="218.4" r="1.65"/><circle cx="604.6" cy="218.7" r="1.65"/><circle cx="599.6" cy="174.5" r="1.65"/><circle cx="602.2" cy="86.0" r="1.65"/><circle cx="604.1" cy="220.5" r="1.65"/><circle cx="600.2" cy="182.2" r="1.65"/><circle cx="597.1" cy="145.1" r="1.65"/><circle cx="602.8" cy="214.9" r="1.65"/><circle cx="591.9" cy="220.2" r="1.65"/><circle cx="605.0" cy="168.1" r="1.65"/><circle cx="601.5" cy="166.8" r="1.65"/><circle cx="601.5" cy="163.9" r="1.65"/><circle cx="605.5" cy="128.9" r="1.65"/><circle cx="592.2" cy="218.2" r="1.65"/><circle cx="593.2" cy="181.5" r="1.65"/><circle cx="601.2" cy="116.6" r="1.65"/><circle cx="598.3" cy="218.5" r="1.65"/><circle cx="592.1" cy="217.6" r="1.65"/><circle cx="593.2" cy="167.1" r="1.65"/><circle cx="594.3" cy="217.1" r="1.65"/><circle cx="598.2" cy="171.4" r="1.65"/><circle cx="603.5" cy="160.8" r="1.65"/><circle cx="594.2" cy="202.3" r="1.65"/><circle cx="596.1" cy="135.0" r="1.65"/><circle cx="593.0" cy="219.3" r="1.65"/><circle cx="601.4" cy="173.2" r="1.65"/><circle cx="593.5" cy="188.8" r="1.65"/><circle cx="596.3" cy="151.3" r="1.65"/><circle cx="602.1" cy="101.9" r="1.65"/><circle cx="603.8" cy="169.0" r="1.65"/><circle cx="597.5" cy="132.9" r="1.65"/><circle cx="599.7" cy="151.3" r="1.65"/><circle cx="601.4" cy="220.3" r="1.65"/><circle cx="604.3" cy="219.5" r="1.65"/><circle cx="603.1" cy="111.6" r="1.65"/><circle cx="599.0" cy="211.6" r="1.65"/><circle cx="600.5" cy="219.6" r="1.65"/><circle cx="605.1" cy="197.2" r="1.65"/><circle cx="605.9" cy="219.7" r="1.65"/><circle cx="599.6" cy="219.1" r="1.65"/><circle cx="593.9" cy="215.6" r="1.65"/><circle cx="602.1" cy="138.4" r="1.65"/><circle cx="592.6" cy="193.0" r="1.65"/><circle cx="604.2" cy="116.2" r="1.65"/><circle cx="598.0" cy="220.4" r="1.65"/><circle cx="606.2" cy="172.6" r="1.65"/><circle cx="602.3" cy="206.4" r="1.65"/><circle cx="605.5" cy="166.1" r="1.65"/><circle cx="604.7" cy="117.7" r="1.65"/><circle cx="599.0" cy="113.7" r="1.65"/><circle cx="596.4" cy="123.8" r="1.65"/><circle cx="591.6" cy="189.9" r="1.65"/><circle cx="605.6" cy="166.2" r="1.65"/><circle cx="601.0" cy="167.7" r="1.65"/><circle cx="603.0" cy="155.9" r="1.65"/><circle cx="601.0" cy="174.2" r="1.65"/><circle cx="593.6" cy="171.7" r="1.65"/><circle cx="594.6" cy="220.6" r="1.65"/><circle cx="593.3" cy="174.9" r="1.65"/><circle cx="598.6" cy="185.7" r="1.65"/><circle cx="599.7" cy="219.9" r="1.65"/><circle cx="604.8" cy="103.7" r="1.65"/><circle cx="604.2" cy="135.7" r="1.65"/><circle cx="605.0" cy="163.9" r="1.65"/><circle cx="605.4" cy="218.5" r="1.65"/><circle cx="597.6" cy="163.4" r="1.65"/><circle cx="591.5" cy="219.6" r="1.65"/><circle cx="598.0" cy="218.5" r="1.65"/><circle cx="602.7" cy="169.5" r="1.65"/><circle cx="591.9" cy="178.7" r="1.65"/><circle cx="602.4" cy="192.6" r="1.65"/><circle cx="593.8" cy="132.6" r="1.65"/><circle cx="596.2" cy="189.3" r="1.65"/><circle cx="592.5" cy="185.9" r="1.65"/><circle cx="602.9" cy="106.1" r="1.65"/><circle cx="603.9" cy="112.3" r="1.65"/><circle cx="598.3" cy="146.0" r="1.65"/><circle cx="603.9" cy="218.0" r="1.65"/><circle cx="594.4" cy="220.2" r="1.65"/><circle cx="591.9" cy="187.6" r="1.65"/><circle cx="597.4" cy="171.5" r="1.65"/><circle cx="596.5" cy="132.4" r="1.65"/><circle cx="603.4" cy="218.9" r="1.65"/><circle cx="602.6" cy="190.0" r="1.65"/><circle cx="605.6" cy="184.4" r="1.65"/><circle cx="605.9" cy="198.8" r="1.65"/><circle cx="603.7" cy="197.8" r="1.65"/><circle cx="592.1" cy="167.5" r="1.65"/><circle cx="602.4" cy="219.8" r="1.65"/><circle cx="595.6" cy="202.9" r="1.65"/><circle cx="601.2" cy="220.1" r="1.65"/><circle cx="592.1" cy="161.8" r="1.65"/><circle cx="594.8" cy="134.9" r="1.65"/><circle cx="593.9" cy="126.2" r="1.65"/><circle cx="602.5" cy="105.1" r="1.65"/><circle cx="598.0" cy="76.1" r="1.65"/><circle cx="592.2" cy="220.4" r="1.65"/><circle cx="594.2" cy="189.2" r="1.65"/><circle cx="593.7" cy="164.6" r="1.65"/><circle cx="601.4" cy="213.1" r="1.65"/><circle cx="601.7" cy="176.9" r="1.65"/><circle cx="592.3" cy="215.0" r="1.65"/><circle cx="601.0" cy="219.4" r="1.65"/><circle cx="593.1" cy="214.3" r="1.65"/><circle cx="600.2" cy="137.8" r="1.65"/><circle cx="597.9" cy="196.9" r="1.65"/><circle cx="603.5" cy="162.8" r="1.65"/><circle cx="593.2" cy="211.4" r="1.65"/><circle cx="603.1" cy="196.1" r="1.65"/><circle cx="600.6" cy="219.4" r="1.65"/><circle cx="601.5" cy="142.6" r="1.65"/><circle cx="600.8" cy="218.7" r="1.65"/><circle cx="603.8" cy="218.0" r="1.65"/><circle cx="597.8" cy="88.2" r="1.65"/><circle cx="605.4" cy="219.1" r="1.65"/><circle cx="595.1" cy="197.7" r="1.65"/><circle cx="596.0" cy="130.0" r="1.65"/><circle cx="598.4" cy="184.2" r="1.65"/><circle cx="593.7" cy="219.3" r="1.65"/><circle cx="594.2" cy="213.6" r="1.65"/><circle cx="596.0" cy="105.6" r="1.65"/><circle cx="595.2" cy="178.0" r="1.65"/><circle cx="603.6" cy="165.0" r="1.65"/><circle cx="604.2" cy="165.5" r="1.65"/><circle cx="593.2" cy="217.9" r="1.65"/><circle cx="603.3" cy="143.6" r="1.65"/><circle cx="599.3" cy="160.2" r="1.65"/><circle cx="593.4" cy="127.2" r="1.65"/><circle cx="602.9" cy="217.7" r="1.65"/><circle cx="602.8" cy="147.5" r="1.65"/><circle cx="601.6" cy="111.3" r="1.65"/><circle cx="594.5" cy="212.5" r="1.65"/><circle cx="597.2" cy="209.4" r="1.65"/><circle cx="594.6" cy="141.6" r="1.65"/><circle cx="595.0" cy="108.5" r="1.65"/><circle cx="604.4" cy="218.5" r="1.65"/><circle cx="604.5" cy="156.5" r="1.65"/><circle cx="595.1" cy="170.8" r="1.65"/><circle cx="593.6" cy="156.5" r="1.65"/><circle cx="594.6" cy="100.6" r="1.65"/><circle cx="594.2" cy="218.5" r="1.65"/><circle cx="594.7" cy="206.8" r="1.65"/><circle cx="603.4" cy="217.7" r="1.65"/><circle cx="601.4" cy="220.5" r="1.65"/><circle cx="592.3" cy="210.2" r="1.65"/><circle cx="602.5" cy="63.7" r="1.65"/><circle cx="594.5" cy="185.9" r="1.65"/><circle cx="602.7" cy="176.3" r="1.65"/><circle cx="593.1" cy="176.1" r="1.65"/><circle cx="602.1" cy="218.0" r="1.65"/><circle cx="592.3" cy="197.0" r="1.65"/><circle cx="596.0" cy="173.5" r="1.65"/><circle cx="592.2" cy="218.0" r="1.65"/><circle cx="593.9" cy="218.4" r="1.65"/><circle cx="602.9" cy="189.3" r="1.65"/><circle cx="600.0" cy="219.4" r="1.65"/><circle cx="605.6" cy="182.6" r="1.65"/><circle cx="594.4" cy="204.4" r="1.65"/><circle cx="603.0" cy="180.8" r="1.65"/><circle cx="600.0" cy="206.2" r="1.65"/><circle cx="598.0" cy="113.9" r="1.65"/><circle cx="604.5" cy="205.5" r="1.65"/><circle cx="595.9" cy="219.0" r="1.65"/><circle cx="601.7" cy="218.9" r="1.65"/><circle cx="597.1" cy="208.9" r="1.65"/><circle cx="595.3" cy="123.9" r="1.65"/><circle cx="594.0" cy="179.0" r="1.65"/><circle cx="591.6" cy="220.1" r="1.65"/><circle cx="603.8" cy="218.2" r="1.65"/><circle cx="598.8" cy="167.1" r="1.65"/><circle cx="603.7" cy="82.6" r="1.65"/><circle cx="601.6" cy="212.5" r="1.65"/><circle cx="601.7" cy="198.3" r="1.65"/><circle cx="597.4" cy="219.9" r="1.65"/><circle cx="597.9" cy="135.0" r="1.65"/><circle cx="602.3" cy="200.5" r="1.65"/><circle cx="604.2" cy="220.0" r="1.65"/><circle cx="598.5" cy="213.5" r="1.65"/><circle cx="599.4" cy="216.3" r="1.65"/><circle cx="600.9" cy="155.8" r="1.65"/><circle cx="602.3" cy="218.3" r="1.65"/><circle cx="591.4" cy="188.8" r="1.65"/><circle cx="592.0" cy="199.4" r="1.65"/><circle cx="599.1" cy="209.8" r="1.65"/><circle cx="595.9" cy="162.5" r="1.65"/><circle cx="601.6" cy="218.5" r="1.65"/><circle cx="600.1" cy="185.3" r="1.65"/><circle cx="604.2" cy="218.1" r="1.65"/><circle cx="601.9" cy="218.6" r="1.65"/></g><line x1="652.2" x2="652.2" y1="63.70" y2="119.40" stroke="#b4b4b4" stroke-width="1.1"/><rect x="631.90" y="119.40" width="40.60" height="100.10" fill="#ebdfeb" stroke="#555" stroke-width="0.7"/><line x1="631.90" x2="672.50" y1="157.84" y2="157.84" stroke="#333" stroke-width="1.3"/><g fill="#d8bfd8"><circle cx="658.5" cy="80.4" r="1.65"/><circle cx="651.6" cy="220.6" r="1.65"/><circle cx="648.1" cy="153.2" r="1.65"/><circle cx="652.0" cy="168.7" r="1.65"/><circle cx="655.8" cy="220.6" r="1.65"/><circle cx="656.2" cy="173.3" r="1.65"/><circle cx="656.9" cy="185.5" r="1.65"/><circle cx="654.5" cy="144.1" r="1.65"/><circle cx="656.5" cy="70.2" r="1.65"/><circle cx="655.1" cy="183.6" r="1.65"/><circle cx="652.3" cy="194.2" r="1.65"/><circle cx="651.9" cy="124.3" r="1.65"/><circle cx="647.9" cy="135.9" r="1.65"/><circle cx="648.2" cy="192.5" r="1.65"/><circle cx="645.9" cy="220.6" r="1.65"/><circle cx="657.4" cy="204.3" r="1.65"/><circle cx="649.6" cy="191.0" r="1.65"/><circle cx="653.4" cy="196.1" r="1.65"/><circle cx="656.9" cy="209.3" r="1.65"/><circle cx="648.8" cy="126.0" r="1.65"/><circle cx="654.1" cy="150.8" r="1.65"/><circle cx="659.7" cy="75.8" r="1.65"/><circle cx="645.6" cy="220.6" r="1.65"/><circle cx="659.7" cy="106.1" r="1.65"/><circle cx="653.3" cy="107.2" r="1.65"/><circle cx="650.4" cy="66.3" r="1.65"/><circle cx="648.2" cy="69.4" r="1.65"/><circle cx="648.2" cy="220.6" r="1.65"/><circle cx="648.5" cy="78.5" r="1.65"/><circle cx="647.8" cy="220.6" r="1.65"/><circle cx="649.0" cy="151.1" r="1.65"/><circle cx="651.9" cy="173.2" r="1.65"/><circle cx="657.3" cy="188.7" r="1.65"/><circle cx="651.4" cy="87.1" r="1.65"/><circle cx="654.8" cy="128.2" r="1.65"/><circle cx="651.4" cy="215.2" r="1.65"/><circle cx="653.4" cy="114.6" r="1.65"/><circle cx="654.6" cy="102.3" r="1.65"/><circle cx="657.7" cy="190.7" r="1.65"/><circle cx="646.5" cy="212.3" r="1.65"/><circle cx="648.8" cy="148.3" r="1.65"/><circle cx="652.0" cy="148.5" r="1.65"/><circle cx="650.9" cy="63.7" r="1.65"/><circle cx="658.1" cy="111.5" r="1.65"/><circle cx="647.9" cy="220.6" r="1.65"/><circle cx="646.5" cy="167.8" r="1.65"/><circle cx="655.5" cy="127.1" r="1.65"/><circle cx="653.1" cy="151.8" r="1.65"/><circle cx="646.6" cy="197.7" r="1.65"/><circle cx="652.7" cy="91.2" r="1.65"/><circle cx="654.3" cy="113.4" r="1.65"/><circle cx="650.5" cy="199.5" r="1.65"/><circle cx="650.4" cy="196.6" r="1.65"/><circle cx="657.4" cy="179.9" r="1.65"/><circle cx="649.1" cy="162.2" r="1.65"/><circle cx="648.5" cy="203.5" r="1.65"/><circle cx="652.7" cy="207.7" r="1.65"/><circle cx="647.1" cy="220.6" r="1.65"/><circle cx="658.0" cy="147.7" r="1.65"/><circle cx="649.0" cy="209.0" r="1.65"/><circle cx="645.9" cy="67.6" r="1.65"/><circle cx="650.7" cy="106.7" r="1.65"/><circle cx="646.6" cy="220.6" r="1.65"/><circle cx="655.4" cy="121.2" r="1.65"/><circle cx="658.8" cy="199.1" r="1.65"/><circle cx="659.7" cy="134.0" r="1.65"/><circle cx="645.6" cy="83.3" r="1.65"/><circle cx="656.1" cy="140.8" r="1.65"/><circle cx="653.7" cy="163.9" r="1.65"/><circle cx="654.2" cy="114.8" r="1.65"/><circle cx="647.3" cy="143.8" r="1.65"/><circle cx="648.4" cy="220.6" r="1.65"/><circle cx="654.5" cy="172.2" r="1.65"/><circle cx="651.8" cy="152.7" r="1.65"/><circle cx="656.3" cy="184.9" r="1.65"/><circle cx="658.4" cy="80.3" r="1.65"/><circle cx="647.2" cy="67.8" r="1.65"/><circle cx="657.6" cy="181.4" r="1.65"/><circle cx="656.0" cy="220.6" r="1.65"/><circle cx="648.4" cy="117.6" r="1.65"/><circle cx="650.0" cy="176.1" r="1.65"/><circle cx="654.0" cy="172.1" r="1.65"/><circle cx="650.0" cy="174.6" r="1.65"/><circle cx="647.9" cy="131.6" r="1.65"/><circle cx="659.6" cy="103.4" r="1.65"/><circle cx="651.6" cy="152.2" r="1.65"/><circle cx="659.8" cy="141.2" r="1.65"/><circle cx="646.2" cy="133.1" r="1.65"/><circle cx="651.0" cy="99.3" r="1.65"/><circle cx="651.1" cy="220.6" r="1.65"/><circle cx="655.8" cy="69.3" r="1.65"/><circle cx="647.8" cy="131.9" r="1.65"/><circle cx="654.0" cy="142.1" r="1.65"/><circle cx="647.1" cy="155.6" r="1.65"/><circle cx="647.5" cy="220.6" r="1.65"/><circle cx="654.5" cy="136.1" r="1.65"/><circle cx="653.2" cy="119.4" r="1.65"/><circle cx="659.8" cy="220.6" r="1.65"/><circle cx="652.6" cy="206.3" r="1.65"/><circle cx="649.7" cy="150.8" r="1.65"/><circle cx="657.0" cy="72.0" r="1.65"/><circle cx="647.6" cy="147.1" r="1.65"/><circle cx="655.2" cy="128.7" r="1.65"/><circle cx="659.7" cy="220.6" r="1.65"/><circle cx="646.5" cy="220.6" r="1.65"/><circle cx="656.0" cy="220.6" r="1.65"/><circle cx="652.9" cy="73.2" r="1.65"/><circle cx="660.0" cy="205.3" r="1.65"/><circle cx="648.2" cy="135.3" r="1.65"/><circle cx="646.3" cy="121.7" r="1.65"/><circle cx="648.5" cy="103.8" r="1.65"/><circle cx="647.4" cy="220.6" r="1.65"/><circle cx="657.3" cy="63.7" r="1.65"/><circle cx="653.8" cy="117.4" r="1.65"/><circle cx="647.4" cy="108.7" r="1.65"/><circle cx="653.9" cy="109.0" r="1.65"/><circle cx="651.4" cy="155.9" r="1.65"/><circle cx="650.1" cy="96.4" r="1.65"/><circle cx="657.6" cy="131.6" r="1.65"/><circle cx="657.1" cy="220.6" r="1.65"/><circle cx="653.9" cy="220.6" r="1.65"/><circle cx="651.6" cy="69.1" r="1.65"/><circle cx="653.0" cy="156.8" r="1.65"/><circle cx="659.1" cy="152.2" r="1.65"/><circle cx="649.2" cy="108.2" r="1.65"/><circle cx="655.9" cy="142.4" r="1.65"/><circle cx="647.2" cy="74.4" r="1.65"/><circle cx="648.3" cy="156.6" r="1.65"/><circle cx="656.7" cy="157.7" r="1.65"/><circle cx="650.8" cy="220.6" r="1.65"/><circle cx="647.7" cy="89.3" r="1.65"/><circle cx="645.9" cy="150.1" r="1.65"/><circle cx="656.8" cy="143.6" r="1.65"/><circle cx="653.6" cy="121.5" r="1.65"/><circle cx="651.9" cy="136.8" r="1.65"/><circle cx="649.2" cy="220.6" r="1.65"/><circle cx="656.8" cy="121.2" r="1.65"/><circle cx="651.6" cy="189.7" r="1.65"/><circle cx="651.3" cy="161.8" r="1.65"/><circle cx="656.1" cy="132.2" r="1.65"/><circle cx="659.3" cy="220.6" r="1.65"/><circle cx="656.8" cy="220.6" r="1.65"/><circle cx="656.1" cy="128.2" r="1.65"/><circle cx="659.6" cy="114.6" r="1.65"/><circle cx="659.0" cy="75.5" r="1.65"/><circle cx="653.1" cy="220.6" r="1.65"/><circle cx="654.7" cy="154.4" r="1.65"/><circle cx="659.3" cy="139.2" r="1.65"/><circle cx="654.2" cy="177.4" r="1.65"/><circle cx="647.6" cy="177.0" r="1.65"/><circle cx="649.7" cy="220.6" r="1.65"/><circle cx="650.5" cy="220.6" r="1.65"/><circle cx="655.1" cy="80.2" r="1.65"/><circle cx="647.0" cy="97.8" r="1.65"/><circle cx="659.9" cy="141.0" r="1.65"/><circle cx="648.9" cy="172.5" r="1.65"/><circle cx="655.6" cy="220.6" r="1.65"/><circle cx="659.7" cy="210.0" r="1.65"/><circle cx="659.9" cy="129.0" r="1.65"/><circle cx="656.3" cy="220.6" r="1.65"/><circle cx="653.3" cy="122.2" r="1.65"/><circle cx="646.1" cy="144.3" r="1.65"/><circle cx="657.0" cy="182.3" r="1.65"/><circle cx="647.0" cy="220.6" r="1.65"/><circle cx="658.1" cy="220.6" r="1.65"/><circle cx="655.2" cy="186.3" r="1.65"/><circle cx="656.4" cy="190.7" r="1.65"/><circle cx="654.5" cy="166.5" r="1.65"/><circle cx="658.6" cy="96.7" r="1.65"/><circle cx="652.8" cy="120.0" r="1.65"/><circle cx="656.1" cy="114.4" r="1.65"/><circle cx="653.3" cy="98.7" r="1.65"/><circle cx="652.4" cy="136.2" r="1.65"/><circle cx="657.9" cy="123.0" r="1.65"/><circle cx="658.4" cy="169.7" r="1.65"/><circle cx="645.9" cy="133.7" r="1.65"/><circle cx="646.9" cy="90.9" r="1.65"/><circle cx="656.5" cy="65.9" r="1.65"/><circle cx="653.0" cy="106.8" r="1.65"/><circle cx="651.7" cy="220.6" r="1.65"/><circle cx="648.3" cy="110.5" r="1.65"/><circle cx="651.3" cy="63.7" r="1.65"/><circle cx="648.0" cy="72.0" r="1.65"/><circle cx="648.8" cy="101.2" r="1.65"/><circle cx="648.3" cy="136.7" r="1.65"/><circle cx="648.1" cy="220.6" r="1.65"/><circle cx="653.3" cy="83.3" r="1.65"/><circle cx="645.3" cy="220.6" r="1.65"/><circle cx="645.7" cy="183.1" r="1.65"/><circle cx="652.5" cy="175.2" r="1.65"/><circle cx="658.1" cy="138.1" r="1.65"/><circle cx="647.3" cy="205.9" r="1.65"/><circle cx="646.5" cy="220.6" r="1.65"/><circle cx="646.6" cy="212.4" r="1.65"/><circle cx="652.6" cy="96.7" r="1.65"/><circle cx="646.0" cy="156.6" r="1.65"/><circle cx="645.4" cy="220.6" r="1.65"/><circle cx="657.9" cy="157.0" r="1.65"/><circle cx="649.9" cy="220.6" r="1.65"/><circle cx="656.5" cy="145.5" r="1.65"/><circle cx="655.2" cy="73.3" r="1.65"/><circle cx="657.4" cy="100.4" r="1.65"/><circle cx="657.1" cy="160.3" r="1.65"/><circle cx="650.0" cy="98.5" r="1.65"/><circle cx="649.9" cy="69.3" r="1.65"/><circle cx="648.9" cy="111.4" r="1.65"/><circle cx="658.2" cy="84.8" r="1.65"/><circle cx="655.5" cy="178.1" r="1.65"/><circle cx="646.7" cy="85.4" r="1.65"/><circle cx="651.6" cy="156.0" r="1.65"/><circle cx="653.7" cy="220.6" r="1.65"/><circle cx="651.0" cy="220.6" r="1.65"/><circle cx="658.6" cy="220.6" r="1.65"/><circle cx="647.9" cy="220.6" r="1.65"/><circle cx="656.3" cy="122.5" r="1.65"/><circle cx="647.7" cy="78.7" r="1.65"/><circle cx="656.8" cy="189.1" r="1.65"/><circle cx="656.2" cy="220.6" r="1.65"/><circle cx="647.6" cy="73.2" r="1.65"/><circle cx="648.1" cy="122.8" r="1.65"/><circle cx="648.5" cy="152.2" r="1.65"/><circle cx="658.9" cy="185.7" r="1.65"/><circle cx="655.9" cy="145.4" r="1.65"/><circle cx="656.6" cy="220.6" r="1.65"/><circle cx="653.3" cy="105.1" r="1.65"/><circle cx="654.8" cy="220.6" r="1.65"/><circle cx="650.3" cy="74.9" r="1.65"/><circle cx="659.5" cy="118.0" r="1.65"/><circle cx="658.2" cy="130.1" r="1.65"/><circle cx="652.1" cy="220.6" r="1.65"/><circle cx="648.3" cy="89.8" r="1.65"/><circle cx="656.4" cy="220.6" r="1.65"/><circle cx="648.6" cy="112.0" r="1.65"/><circle cx="653.1" cy="149.0" r="1.65"/><circle cx="655.5" cy="188.5" r="1.65"/><circle cx="653.6" cy="212.2" r="1.65"/><circle cx="649.8" cy="76.7" r="1.65"/><circle cx="652.5" cy="205.1" r="1.65"/><circle cx="655.9" cy="103.7" r="1.65"/><circle cx="652.7" cy="171.2" r="1.65"/><circle cx="654.4" cy="142.0" r="1.65"/><circle cx="654.1" cy="177.0" r="1.65"/><circle cx="647.9" cy="175.9" r="1.65"/><circle cx="655.5" cy="220.6" r="1.65"/><circle cx="646.6" cy="220.6" r="1.65"/><circle cx="645.6" cy="197.8" r="1.65"/><circle cx="656.1" cy="171.0" r="1.65"/><circle cx="653.7" cy="179.6" r="1.65"/><circle cx="650.9" cy="105.8" r="1.65"/><circle cx="655.6" cy="127.0" r="1.65"/><circle cx="650.0" cy="220.6" r="1.65"/><circle cx="656.4" cy="217.2" r="1.65"/><circle cx="645.6" cy="220.6" r="1.65"/><circle cx="646.5" cy="126.4" r="1.65"/><circle cx="656.4" cy="74.8" r="1.65"/><circle cx="645.6" cy="107.0" r="1.65"/><circle cx="645.6" cy="205.0" r="1.65"/><circle cx="650.7" cy="136.6" r="1.65"/><circle cx="649.5" cy="119.7" r="1.65"/><circle cx="657.9" cy="220.6" r="1.65"/><circle cx="658.1" cy="159.8" r="1.65"/><circle cx="659.6" cy="132.3" r="1.65"/><circle cx="658.4" cy="220.6" r="1.65"/><circle cx="657.5" cy="129.8" r="1.65"/><circle cx="649.2" cy="117.6" r="1.65"/><circle cx="657.7" cy="130.2" r="1.65"/><circle cx="656.0" cy="155.9" r="1.65"/><circle cx="648.2" cy="220.6" r="1.65"/><circle cx="660.1" cy="139.8" r="1.65"/><circle cx="657.7" cy="188.8" r="1.65"/><circle cx="648.7" cy="182.7" r="1.65"/><circle cx="655.8" cy="182.3" r="1.65"/><circle cx="654.9" cy="156.6" r="1.65"/><circle cx="651.9" cy="155.4" r="1.65"/><circle cx="655.1" cy="93.4" r="1.65"/><circle cx="651.6" cy="157.6" r="1.65"/><circle cx="646.3" cy="130.3" r="1.65"/><circle cx="646.0" cy="220.4" r="1.65"/><circle cx="652.1" cy="185.4" r="1.65"/><circle cx="651.9" cy="220.6" r="1.65"/><circle cx="652.6" cy="199.9" r="1.65"/><circle cx="645.5" cy="116.4" r="1.65"/><circle cx="654.7" cy="168.1" r="1.65"/><circle cx="655.3" cy="184.3" r="1.65"/><circle cx="645.9" cy="102.6" r="1.65"/><circle cx="651.1" cy="220.6" r="1.65"/><circle cx="659.2" cy="85.9" r="1.65"/><circle cx="657.6" cy="139.3" r="1.65"/><circle cx="648.0" cy="152.4" r="1.65"/><circle cx="649.7" cy="111.8" r="1.65"/><circle cx="649.7" cy="63.7" r="1.65"/><circle cx="650.4" cy="220.6" r="1.65"/><circle cx="649.5" cy="220.6" r="1.65"/><circle cx="650.2" cy="217.2" r="1.65"/><circle cx="659.7" cy="220.6" r="1.65"/><circle cx="654.0" cy="215.6" r="1.65"/><circle cx="649.2" cy="212.2" r="1.65"/><circle cx="646.0" cy="204.4" r="1.65"/><circle cx="656.7" cy="217.7" r="1.65"/><circle cx="650.2" cy="190.9" r="1.65"/><circle cx="658.5" cy="96.8" r="1.65"/><circle cx="647.3" cy="167.2" r="1.65"/><circle cx="656.9" cy="178.5" r="1.65"/><circle cx="651.4" cy="93.7" r="1.65"/><circle cx="647.2" cy="220.6" r="1.65"/><circle cx="651.7" cy="220.6" r="1.65"/><circle cx="656.6" cy="85.0" r="1.65"/><circle cx="651.4" cy="191.1" r="1.65"/><circle cx="649.4" cy="63.7" r="1.65"/><circle cx="652.8" cy="79.6" r="1.65"/><circle cx="645.9" cy="217.1" r="1.65"/><circle cx="652.1" cy="156.3" r="1.65"/><circle cx="645.6" cy="220.6" r="1.65"/><circle cx="658.4" cy="80.0" r="1.65"/><circle cx="654.6" cy="93.7" r="1.65"/><circle cx="650.9" cy="163.7" r="1.65"/><circle cx="653.6" cy="96.1" r="1.65"/><circle cx="658.4" cy="220.6" r="1.65"/><circle cx="659.9" cy="186.0" r="1.65"/><circle cx="653.3" cy="123.6" r="1.65"/><circle cx="649.3" cy="161.2" r="1.65"/><circle cx="654.1" cy="204.2" r="1.65"/><circle cx="656.4" cy="150.0" r="1.65"/><circle cx="652.4" cy="220.6" r="1.65"/><circle cx="660.0" cy="220.6" r="1.65"/><circle cx="652.7" cy="98.2" r="1.65"/><circle cx="656.2" cy="136.9" r="1.65"/><circle cx="659.8" cy="152.4" r="1.65"/><circle cx="657.4" cy="157.7" r="1.65"/><circle cx="652.0" cy="220.6" r="1.65"/><circle cx="651.8" cy="220.6" r="1.65"/><circle cx="655.4" cy="153.2" r="1.65"/><circle cx="647.0" cy="220.6" r="1.65"/><circle cx="657.9" cy="190.6" r="1.65"/><circle cx="647.6" cy="220.6" r="1.65"/><circle cx="659.9" cy="120.8" r="1.65"/><circle cx="649.6" cy="146.2" r="1.65"/><circle cx="659.6" cy="170.4" r="1.65"/><circle cx="647.2" cy="91.2" r="1.65"/><circle cx="653.9" cy="134.5" r="1.65"/><circle cx="650.5" cy="156.4" r="1.65"/><circle cx="650.6" cy="83.7" r="1.65"/><circle cx="647.3" cy="220.6" r="1.65"/><circle cx="648.9" cy="136.4" r="1.65"/><circle cx="650.3" cy="106.5" r="1.65"/><circle cx="654.9" cy="121.8" r="1.65"/><circle cx="650.0" cy="139.2" r="1.65"/><circle cx="648.7" cy="191.0" r="1.65"/><circle cx="648.1" cy="155.8" r="1.65"/><circle cx="648.5" cy="220.6" r="1.65"/><circle cx="657.3" cy="220.6" r="1.65"/><circle cx="651.5" cy="152.5" r="1.65"/><circle cx="656.6" cy="220.6" r="1.65"/><circle cx="655.4" cy="220.6" r="1.65"/><circle cx="651.0" cy="126.2" r="1.65"/><circle cx="657.4" cy="180.3" r="1.65"/><circle cx="659.0" cy="220.6" r="1.65"/><circle cx="656.9" cy="220.6" r="1.65"/><circle cx="652.1" cy="138.8" r="1.65"/><circle cx="649.2" cy="220.6" r="1.65"/><circle cx="652.6" cy="169.3" r="1.65"/><circle cx="649.5" cy="178.5" r="1.65"/><circle cx="647.0" cy="139.7" r="1.65"/><circle cx="647.7" cy="220.6" r="1.65"/><circle cx="652.8" cy="142.7" r="1.65"/><circle cx="650.0" cy="162.8" r="1.65"/><circle cx="655.1" cy="208.2" r="1.65"/><circle cx="655.8" cy="214.6" r="1.65"/><circle cx="657.8" cy="153.3" r="1.65"/><circle cx="653.4" cy="220.6" r="1.65"/><circle cx="647.5" cy="166.3" r="1.65"/><circle cx="647.0" cy="134.1" r="1.65"/><circle cx="646.9" cy="127.3" r="1.65"/><circle cx="653.8" cy="220.6" r="1.65"/><circle cx="645.6" cy="220.6" r="1.65"/><circle cx="651.0" cy="120.6" r="1.65"/><circle cx="656.8" cy="104.9" r="1.65"/><circle cx="657.1" cy="146.3" r="1.65"/><circle cx="649.1" cy="111.2" r="1.65"/><circle cx="656.4" cy="220.6" r="1.65"/><circle cx="652.3" cy="155.1" r="1.65"/><circle cx="653.7" cy="220.6" r="1.65"/><circle cx="658.4" cy="144.7" r="1.65"/><circle cx="657.1" cy="163.2" r="1.65"/><circle cx="654.5" cy="220.6" r="1.65"/><circle cx="652.9" cy="190.7" r="1.65"/><circle cx="657.5" cy="63.7" r="1.65"/><circle cx="656.6" cy="119.7" r="1.65"/><circle cx="648.9" cy="176.3" r="1.65"/><circle cx="655.3" cy="209.5" r="1.65"/><circle cx="659.1" cy="220.6" r="1.65"/><circle cx="652.2" cy="220.6" r="1.65"/><circle cx="652.2" cy="72.6" r="1.65"/><circle cx="649.2" cy="150.6" r="1.65"/><circle cx="653.3" cy="220.6" r="1.65"/><circle cx="646.4" cy="108.3" r="1.65"/><circle cx="659.6" cy="220.6" r="1.65"/><circle cx="651.9" cy="104.7" r="1.65"/><circle cx="650.0" cy="70.8" r="1.65"/><circle cx="653.7" cy="153.4" r="1.65"/><circle cx="646.9" cy="220.6" r="1.65"/><circle cx="652.8" cy="220.6" r="1.65"/><circle cx="658.4" cy="220.6" r="1.65"/><circle cx="652.4" cy="185.1" r="1.65"/><circle cx="652.3" cy="87.0" r="1.65"/><circle cx="659.1" cy="138.2" r="1.65"/><circle cx="652.5" cy="205.2" r="1.65"/><circle cx="655.1" cy="108.1" r="1.65"/><circle cx="658.8" cy="220.6" r="1.65"/><circle cx="648.5" cy="220.6" r="1.65"/><circle cx="652.7" cy="220.6" r="1.65"/><circle cx="653.3" cy="127.9" r="1.65"/><circle cx="659.7" cy="129.1" r="1.65"/><circle cx="646.1" cy="126.1" r="1.65"/><circle cx="659.5" cy="198.7" r="1.65"/><circle cx="650.3" cy="122.8" r="1.65"/><circle cx="659.7" cy="173.2" r="1.65"/><circle cx="651.4" cy="190.6" r="1.65"/><circle cx="656.6" cy="85.0" r="1.65"/><circle cx="656.5" cy="145.1" r="1.65"/><circle cx="654.5" cy="179.3" r="1.65"/><circle cx="650.6" cy="124.9" r="1.65"/><circle cx="650.9" cy="160.0" r="1.65"/><circle cx="646.3" cy="192.9" r="1.65"/><circle cx="650.8" cy="220.6" r="1.65"/><circle cx="658.8" cy="70.6" r="1.65"/><circle cx="654.9" cy="128.9" r="1.65"/><circle cx="646.5" cy="73.2" r="1.65"/><circle cx="650.3" cy="220.6" r="1.65"/><circle cx="659.9" cy="134.1" r="1.65"/><circle cx="654.0" cy="154.0" r="1.65"/><circle cx="657.2" cy="127.6" r="1.65"/><circle cx="657.8" cy="220.6" r="1.65"/><circle cx="658.1" cy="88.8" r="1.65"/><circle cx="652.4" cy="166.7" r="1.65"/><circle cx="650.8" cy="155.2" r="1.65"/><circle cx="653.8" cy="63.7" r="1.65"/><circle cx="646.2" cy="220.6" r="1.65"/><circle cx="656.5" cy="220.6" r="1.65"/><circle cx="657.4" cy="66.3" r="1.65"/><circle cx="653.4" cy="170.5" r="1.65"/><circle cx="645.5" cy="70.6" r="1.65"/><circle cx="658.5" cy="128.6" r="1.65"/><circle cx="651.4" cy="79.2" r="1.65"/><circle cx="658.3" cy="216.0" r="1.65"/><circle cx="650.1" cy="120.6" r="1.65"/><circle cx="652.7" cy="63.7" r="1.65"/><circle cx="659.9" cy="194.6" r="1.65"/><circle cx="655.2" cy="220.6" r="1.65"/><circle cx="658.6" cy="65.2" r="1.65"/><circle cx="654.6" cy="149.9" r="1.65"/><circle cx="647.9" cy="208.4" r="1.65"/><circle cx="645.7" cy="220.6" r="1.65"/><circle cx="658.8" cy="81.2" r="1.65"/><circle cx="650.3" cy="195.6" r="1.65"/><circle cx="648.7" cy="127.9" r="1.65"/><circle cx="658.6" cy="206.8" r="1.65"/><circle cx="659.1" cy="180.1" r="1.65"/><circle cx="648.4" cy="220.6" r="1.65"/><circle cx="648.6" cy="188.3" r="1.65"/><circle cx="650.2" cy="144.5" r="1.65"/><circle cx="656.8" cy="220.6" r="1.65"/><circle cx="646.9" cy="200.9" r="1.65"/><circle cx="652.9" cy="220.6" r="1.65"/><circle cx="656.4" cy="195.0" r="1.65"/><circle cx="658.3" cy="132.8" r="1.65"/><circle cx="650.6" cy="185.2" r="1.65"/><circle cx="652.7" cy="117.9" r="1.65"/><circle cx="649.2" cy="220.6" r="1.65"/><circle cx="651.3" cy="97.1" r="1.65"/></g><path d="M544.4 29.4 V25.0 H652.2 V29.4 M598.3 25.0 V29.4" fill="none" stroke="#666" stroke-width="0.7"/><text x="571.3" y="22.3" font-family='"Liberation Sans", sans-serif' font-size="5.5" fill="#333" text-anchor="middle">****</text><text x="598.3" y="22.9" font-family='"Liberation Sans", sans-serif' font-size="7" fill="#222" text-anchor="middle" textLength="5.1" lengthAdjust="spacingAndGlyphs">ns</text><text x="625.2" y="22.3" font-family='"Liberation Sans", sans-serif' font-size="5.5" fill="#333" text-anchor="middle">****</text><text x="550.7" y="10.2" font-family='"Liberation Sans", sans-serif' font-weight="bold" font-size="8.5" fill="#111" textLength="94.3" lengthAdjust="spacingAndGlyphs">Metabolic Activity (NonContext)</text><text x="544.4" y="237.7" font-family='"Liberation Sans", sans-serif' font-size="5.8" fill="#4d4d4d" text-anchor="middle" textLength="44.8" lengthAdjust="spacingAndGlyphs">Lactobacillus Absent</text><text x="598.3" y="237.7" font-family='"Liberation Sans", sans-serif' font-size="5.8" fill="#4d4d4d" text-anchor="middle" textLength="45.8" lengthAdjust="spacingAndGlyphs">Lactobacillus Diverse</text><text x="652.2" y="237.7" font-family='"Liberation Sans", sans-serif' font-size="5.8" fill="#4d4d4d" text-anchor="middle" textLength="43.5" lengthAdjust="spacingAndGlyphs">Lactobacillus Single</text><text x="598.3" y="246.0" font-family='"Liberation Sans", sans-serif' font-weight="bold" font-size="7.5" fill="#111" text-anchor="middle" textLength="43" lengthAdjust="spacingAndGlyphs">Community Type</text><text x="0" y="0" font-family='"Liberation Sans", sans-serif' font-weight="bold" font-size="6.2" fill="#111" text-anchor="middle" textLength="27" lengthAdjust="spacingAndGlyphs" transform="translate(499.7 121.6) rotate(-90)">Activity</text>
<text x="317.4" y="14.9" font-family='"Liberation Sans", sans-serif' font-size="18.6" fill="#000">B</text>
<text x="315.6" y="253.4" font-family='"Liberation Sans", sans-serif' font-size="19.8" fill="#000">C</text>
<rect x="358.50" y="281.80" width="8.68" height="6.07" fill="#80ff66"/><rect x="367.18" y="281.80" width="8.68" height="6.07" fill="#80ff66"/><rect x="375.86" y="281.80" width="8.68" height="6.07" fill="#c060ff"/><rect x="384.54" y="281.80" width="8.68" height="6.07" fill="#80ff66"/><rect x="393.22" y="281.80" width="8.68" height="6.07" fill="#80ff66"/><rect x="401.90" y="281.80" width="8.68" height="6.07" fill="#cc80ff"/><rect x="410.58" y="281.80" width="8.68" height="6.07" fill="#80ff66"/><rect x="419.26" y="281.80" width="8.68" height="6.07" fill="#ccffc4"/><rect x="427.94" y="281.80" width="8.68" height="6.07" fill="#c060ff"/><rect x="436.62" y="281.80" width="8.68" height="6.07" fill="#e0c0ff"/><rect x="445.30" y="281.80" width="8.68" height="6.07" fill="#c060ff"/><rect x="453.98" y="281.80" width="8.68" height="6.07" fill="#80ff66"/><rect x="462.66" y="281.80" width="8.68" height="6.07" fill="#f0e0ff"/><rect x="471.34" y="281.80" width="8.68" height="6.07" fill="#f0e0ff"/><rect x="480.02" y="281.80" width="8.68" height="6.07" fill="#f0e0ff"/><rect x="488.70" y="281.80" width="8.68" height="6.07" fill="#f0e0ff"/><rect x="497.38" y="281.80" width="8.68" height="6.07" fill="#b850ff"/><rect x="506.06" y="281.80" width="8.68" height="6.07" fill="#d0ffc8"/><rect x="514.74" y="281.80" width="8.68" height="6.07" fill="#b8ffb0"/><rect x="358.50" y="287.87" width="8.68" height="6.07" fill="#40ff10"/><rect x="367.18" y="287.87" width="8.68" height="6.07" fill="#eeffee"/><rect x="375.86" y="287.87" width="8.68" height="6.07" fill="#eefff0"/><rect x="384.54" y="287.87" width="8.68" height="6.07" fill="#40ff10"/><rect x="393.22" y="287.87" width="8.68" height="6.07" fill="#40ff10"/><rect x="401.90" y="287.87" width="8.68" height="6.07" fill="#c060ff"/><rect x="410.58" y="287.87" width="8.68" height="6.07" fill="#c060ff"/><rect x="419.26" y="287.87" width="8.68" height="6.07" fill="#c060ff"/><rect x="427.94" y="287.87" width="8.68" height="6.07" fill="#c060ff"/><rect x="436.62" y="287.87" width="8.68" height="6.07" fill="#c060ff"/><rect x="445.30" y="287.87" width="8.68" height="6.07" fill="#c060ff"/><rect x="453.98" y="287.87" width="8.68" height="6.07" fill="#eeffe8"/><rect x="462.66" y="287.87" width="8.68" height="6.07" fill="#e8ffe2"/><rect x="471.34" y="287.87" width="8.68" height="6.07" fill="#e8ffe2"/><rect x="480.02" y="287.87" width="8.68" height="6.07" fill="#e8ffe2"/><rect x="488.70" y="287.87" width="8.68" height="6.07" fill="#e8ffe2"/><rect x="497.38" y="287.87" width="8.68" height="6.07" fill="#e8ffe2"/><rect x="506.06" y="287.87" width="8.68" height="6.07" fill="#e8ffe2"/><rect x="514.74" y="287.87" width="8.68" height="6.07" fill="#e8ffe2"/><rect x="358.50" y="293.94" width="8.68" height="6.07" fill="#55ff30"/><rect x="367.18" y="293.94" width="8.68" height="6.07" fill="#fcfcfc"/><rect x="375.86" y="293.94" width="8.68" height="6.07" fill="#fcfcfc"/><rect x="384.54" y="293.94" width="8.68" height="6.07" fill="#55ff30"/><rect x="393.22" y="293.94" width="8.68" height="6.07" fill="#55ff30"/><rect x="401.90" y="293.94" width="8.68" height="6.07" fill="#c060ff"/><rect x="410.58" y="293.94" width="8.68" height="6.07" fill="#c060ff"/><rect x="419.26" y="293.94" width="8.68" height="6.07" fill="#c060ff"/><rect x="427.94" y="293.94" width="8.68" height="6.07" fill="#c060ff"/><rect x="436.62" y="293.94" width="8.68" height="6.07" fill="#c060ff"/><rect x="445.30" y="293.94" width="8.68" height="6.07" fill="#c060ff"/><rect x="453.98" y="293.94" width="8.68" height="6.07" fill="#fafffa"/><rect x="462.66" y="293.94" width="8.68" height="6.07" fill="#c8ffc0"/><rect x="471.34" y="293.94" width="8.68" height="6.07" fill="#c8ffc0"/><rect x="480.02" y="293.94" width="8.68" height="6.07" fill="#c8ffc0"/><rect x="488.70" y="293.94" width="8.68" height="6.07" fill="#c8ffc0"/><rect x="497.38" y="293.94" width="8.68" height="6.07" fill="#c8ffc0"/><rect x="506.06" y="293.94" width="8.68" height="6.07" fill="#c8ffc0"/><rect x="514.74" y="293.94" width="8.68" height="6.07" fill="#c8ffc0"/><rect x="358.50" y="300.01" width="8.68" height="6.07" fill="#40ff10"/><rect x="367.18" y="300.01" width="8.68" height="6.07" fill="#aaffa0"/><rect x="375.86" y="300.01" width="8.68" height="6.07" fill="#c880ff"/><rect x="384.54" y="300.01" width="8.68" height="6.07" fill="#40ff10"/><rect x="393.22" y="300.01" width="8.68" height="6.07" fill="#40ff10"/><rect x="401.90" y="300.01" width="8.68" height="6.07" fill="#cc88ff"/><rect x="410.58" y="300.01" width="8.68" height="6.07" fill="#cc88ff"/><rect x="419.26" y="300.01" width="8.68" height="6.07" fill="#cc88ff"/><rect x="427.94" y="300.01" width="8.68" height="6.07" fill="#cc88ff"/><rect x="436.62" y="300.01" width="8.68" height="6.07" fill="#cc88ff"/><rect x="445.30" y="300.01" width="8.68" height="6.07" fill="#cc88ff"/><rect x="453.98" y="300.01" width="8.68" height="6.07" fill="#cc88ff"/><rect x="462.66" y="300.01" width="8.68" height="6.07" fill="#d8ffd0"/><rect x="471.34" y="300.01" width="8.68" height="6.07" fill="#d8ffd0"/><rect x="480.02" y="300.01" width="8.68" height="6.07" fill="#d8ffd0"/><rect x="488.70" y="300.01" width="8.68" height="6.07" fill="#d8ffd0"/><rect x="497.38" y="300.01" width="8.68" height="6.07" fill="#d8ffd0"/><rect x="506.06" y="300.01" width="8.68" height="6.07" fill="#d8ffd0"/><rect x="514.74" y="300.01" width="8.68" height="6.07" fill="#d8ffd0"/><rect x="358.50" y="306.08" width="8.68" height="6.07" fill="#40ff10"/><rect x="367.18" y="306.08" width="8.68" height="6.07" fill="#dda8ff"/><rect x="375.86" y="306.08" width="8.68" height="6.07" fill="#dda8ff"/><rect x="384.54" y="306.08" width="8.68" height="6.07" fill="#40ff10"/><rect x="393.22" y="306.08" width="8.68" height="6.07" fill="#40ff10"/><rect x="401.90" y="306.08" width="8.68" height="6.07" fill="#d8a8ff"/><rect x="410.58" y="306.08" width="8.68" height="6.07" fill="#d8a8ff"/><rect x="419.26" y="306.08" width="8.68" height="6.07" fill="#d8a8ff"/><rect x="427.94" y="306.08" width="8.68" height="6.07" fill="#d8a8ff"/><rect x="436.62" y="306.08" width="8.68" height="6.07" fill="#d8a8ff"/><rect x="445.30" y="306.08" width="8.68" height="6.07" fill="#d8a8ff"/><rect x="453.98" y="306.08" width="8.68" height="6.07" fill="#d8a8ff"/><rect x="462.66" y="306.08" width="8.68" height="6.07" fill="#e0ffd8"/><rect x="471.34" y="306.08" width="8.68" height="6.07" fill="#e0ffd8"/><rect x="480.02" y="306.08" width="8.68" height="6.07" fill="#e0ffd8"/><rect x="488.70" y="306.08" width="8.68" height="6.07" fill="#e0ffd8"/><rect x="497.38" y="306.08" width="8.68" height="6.07" fill="#e0ffd8"/><rect x="506.06" y="306.08" width="8.68" height="6.07" fill="#e0ffd8"/><rect x="514.74" y="306.08" width="8.68" height="6.07" fill="#e0ffd8"/><rect x="358.50" y="312.15" width="8.68" height="6.07" fill="#40ff10"/><rect x="367.18" y="312.15" width="8.68" height="6.07" fill="#b840ff"/><rect x="375.86" y="312.15" width="8.68" height="6.07" fill="#b840ff"/><rect x="384.54" y="312.15" width="8.68" height="6.07" fill="#40ff10"/><rect x="393.22" y="312.15" width="8.68" height="6.07" fill="#40ff10"/><rect x="401.90" y="312.15" width="8.68" height="6.07" fill="#f4eeff"/><rect x="410.58" y="312.15" width="8.68" height="6.07" fill="#f4eeff"/><rect x="419.26" y="312.15" width="8.68" height="6.07" fill="#f4eeff"/><rect x="427.94" y="312.15" width="8.68" height="6.07" fill="#f4eeff"/><rect x="436.62" y="312.15" width="8.68" height="6.07" fill="#f4eeff"/><rect x="445.30" y="312.15" width="8.68" height="6.07" fill="#f4eeff"/><rect x="453.98" y="312.15" width="8.68" height="6.07" fill="#b830ff"/><rect x="462.66" y="312.15" width="8.68" height="6.07" fill="#f0fff0"/><rect x="471.34" y="312.15" width="8.68" height="6.07" fill="#f0fff0"/><rect x="480.02" y="312.15" width="8.68" height="6.07" fill="#f0fff0"/><rect x="488.70" y="312.15" width="8.68" height="6.07" fill="#f0fff0"/><rect x="497.38" y="312.15" width="8.68" height="6.07" fill="#f0fff0"/><rect x="506.06" y="312.15" width="8.68" height="6.07" fill="#f0fff0"/><rect x="514.74" y="312.15" width="8.68" height="6.07" fill="#f0fff0"/><rect x="358.50" y="318.22" width="8.68" height="6.07" fill="#40ff10"/><rect x="367.18" y="318.22" width="8.68" height="6.07" fill="#b840ff"/><rect x="375.86" y="318.22" width="8.68" height="6.07" fill="#b840ff"/><rect x="384.54" y="318.22" width="8.68" height="6.07" fill="#40ff10"/><rect x="393.22" y="318.22" width="8.68" height="6.07" fill="#40ff10"/><rect x="401.90" y="318.22" width="8.68" height="6.07" fill="#fcfcff"/><rect x="410.58" y="318.22" width="8.68" height="6.07" fill="#fcfcff"/><rect x="419.26" y="318.22" width="8.68" height="6.07" fill="#fcfcff"/><rect x="427.94" y="318.22" width="8.68" height="6.07" fill="#fcfcff"/><rect x="436.62" y="318.22" width="8.68" height="6.07" fill="#fcfcff"/><rect x="445.30" y="318.22" width="8.68" height="6.07" fill="#fcfcff"/><rect x="453.98" y="318.22" width="8.68" height="6.07" fill="#b830ff"/><rect x="462.66" y="318.22" width="8.68" height="6.07" fill="#fcfffc"/><rect x="471.34" y="318.22" width="8.68" height="6.07" fill="#fcfffc"/><rect x="480.02" y="318.22" width="8.68" height="6.07" fill="#fcfffc"/><rect x="488.70" y="318.22" width="8.68" height="6.07" fill="#fcfffc"/><rect x="497.38" y="318.22" width="8.68" height="6.07" fill="#fcfffc"/><rect x="506.06" y="318.22" width="8.68" height="6.07" fill="#fcfffc"/><rect x="514.74" y="318.22" width="8.68" height="6.07" fill="#fcfffc"/><rect x="358.50" y="324.29" width="8.68" height="6.07" fill="#40ff10"/><rect x="367.18" y="324.29" width="8.68" height="6.07" fill="#b840ff"/><rect x="375.86" y="324.29" width="8.68" height="6.07" fill="#b840ff"/><rect x="384.54" y="324.29" width="8.68" height="6.07" fill="#40ff10"/><rect x="393.22" y="324.29" width="8.68" height="6.07" fill="#40ff10"/><rect x="401.90" y="324.29" width="8.68" height="6.07" fill="#fcfcff"/><rect x="410.58" y="324.29" width="8.68" height="6.07" fill="#fcfcff"/><rect x="419.26" y="324.29" width="8.68" height="6.07" fill="#fcfcff"/><rect x="427.94" y="324.29" width="8.68" height="6.07" fill="#fcfcff"/><rect x="436.62" y="324.29" width="8.68" height="6.07" fill="#fcfcff"/><rect x="445.30" y="324.29" width="8.68" height="6.07" fill="#fcfcff"/><rect x="453.98" y="324.29" width="8.68" height="6.07" fill="#b830ff"/><rect x="462.66" y="324.29" width="8.68" height="6.07" fill="#fcfffc"/><rect x="471.34" y="324.29" width="8.68" height="6.07" fill="#fcfffc"/><rect x="480.02" y="324.29" width="8.68" height="6.07" fill="#fcfffc"/><rect x="488.70" y="324.29" width="8.68" height="6.07" fill="#fcfffc"/><rect x="497.38" y="324.29" width="8.68" height="6.07" fill="#fcfffc"/><rect x="506.06" y="324.29" width="8.68" height="6.07" fill="#fcfffc"/><rect x="514.74" y="324.29" width="8.68" height="6.07" fill="#fcfffc"/><rect x="358.50" y="330.36" width="8.68" height="6.07" fill="#40ff10"/><rect x="367.18" y="330.36" width="8.68" height="6.07" fill="#b840ff"/><rect x="375.86" y="330.36" width="8.68" height="6.07" fill="#b840ff"/><rect x="384.54" y="330.36" width="8.68" height="6.07" fill="#40ff10"/><rect x="393.22" y="330.36" width="8.68" height="6.07" fill="#40ff10"/><rect x="401.90" y="330.36" width="8.68" height="6.07" fill="#fcfcff"/><rect x="410.58" y="330.36" width="8.68" height="6.07" fill="#fcfcff"/><rect x="419.26" y="330.36" width="8.68" height="6.07" fill="#fcfcff"/><rect x="427.94" y="330.36" width="8.68" height="6.07" fill="#fcfcff"/><rect x="436.62" y="330.36" width="8.68" height="6.07" fill="#fcfcff"/><rect x="445.30" y="330.36" width="8.68" height="6.07" fill="#fcfcff"/><rect x="453.98" y="330.36" width="8.68" height="6.07" fill="#b830ff"/><rect x="462.66" y="330.36" width="8.68" height="6.07" fill="#fcfffc"/><rect x="471.34" y="330.36" width="8.68" height="6.07" fill="#fcfffc"/><rect x="480.02" y="330.36" width="8.68" height="6.07" fill="#fcfffc"/><rect x="488.70" y="330.36" width="8.68" height="6.07" fill="#fcfffc"/><rect x="497.38" y="330.36" width="8.68" height="6.07" fill="#fcfffc"/><rect x="506.06" y="330.36" width="8.68" height="6.07" fill="#fcfffc"/><rect x="514.74" y="330.36" width="8.68" height="6.07" fill="#fcfffc"/><rect x="358.50" y="336.43" width="8.68" height="6.07" fill="#f2eaff"/><rect x="367.18" y="336.43" width="8.68" height="6.07" fill="#b830ff"/><rect x="375.86" y="336.43" width="8.68" height="6.07" fill="#f5eeff"/><rect x="384.54" y="336.43" width="8.68" height="6.07" fill="#e4ffe0"/><rect x="393.22" y="336.43" width="8.68" height="6.07" fill="#e4ffe0"/><rect x="401.90" y="336.43" width="8.68" height="6.07" fill="#e4ffe0"/><rect x="410.58" y="336.43" width="8.68" height="6.07" fill="#e4ffe0"/><rect x="419.26" y="336.43" width="8.68" height="6.07" fill="#e4ffe0"/><rect x="427.94" y="336.43" width="8.68" height="6.07" fill="#e4ffe0"/><rect x="436.62" y="336.43" width="8.68" height="6.07" fill="#dcffd6"/><rect x="445.30" y="336.43" width="8.68" height="6.07" fill="#dcffd6"/><rect x="453.98" y="336.43" width="8.68" height="6.07" fill="#eaffe6"/><rect x="462.66" y="336.43" width="8.68" height="6.07" fill="#eaffe6"/><rect x="471.34" y="336.43" width="8.68" height="6.07" fill="#eaffe6"/><rect x="480.02" y="336.43" width="8.68" height="6.07" fill="#eaffe6"/><rect x="488.70" y="336.43" width="8.68" height="6.07" fill="#eaffe6"/><rect x="497.38" y="336.43" width="8.68" height="6.07" fill="#daffd4"/><rect x="506.06" y="336.43" width="8.68" height="6.07" fill="#daffd4"/><rect x="514.74" y="336.43" width="8.68" height="6.07" fill="#daffd4"/><rect x="358.50" y="342.50" width="8.68" height="6.07" fill="#fafffa"/><rect x="367.18" y="342.50" width="8.68" height="6.07" fill="#b830ff"/><rect x="375.86" y="342.50" width="8.68" height="6.07" fill="#e4ffe0"/><rect x="384.54" y="342.50" width="8.68" height="6.07" fill="#e4ffe0"/><rect x="393.22" y="342.50" width="8.68" height="6.07" fill="#e4ffe0"/><rect x="401.90" y="342.50" width="8.68" height="6.07" fill="#e4ffe0"/><rect x="410.58" y="342.50" width="8.68" height="6.07" fill="#fafffa"/><rect x="419.26" y="342.50" width="8.68" height="6.07" fill="#e4ffe0"/><rect x="427.94" y="342.50" width="8.68" height="6.07" fill="#e0ffda"/><rect x="436.62" y="342.50" width="8.68" height="6.07" fill="#e0ffda"/><rect x="445.30" y="342.50" width="8.68" height="6.07" fill="#e0ffda"/><rect x="453.98" y="342.50" width="8.68" height="6.07" fill="#e0ffda"/><rect x="462.66" y="342.50" width="8.68" height="6.07" fill="#e0ffda"/><rect x="471.34" y="342.50" width="8.68" height="6.07" fill="#e0ffda"/><rect x="480.02" y="342.50" width="8.68" height="6.07" fill="#e0ffda"/><rect x="488.70" y="342.50" width="8.68" height="6.07" fill="#e0ffda"/><rect x="497.38" y="342.50" width="8.68" height="6.07" fill="#e0ffda"/><rect x="506.06" y="342.50" width="8.68" height="6.07" fill="#e0ffda"/><rect x="514.74" y="342.50" width="8.68" height="6.07" fill="#e0ffda"/><rect x="358.50" y="348.57" width="8.68" height="6.07" fill="#f2eaff"/><rect x="367.18" y="348.57" width="8.68" height="6.07" fill="#d8ffd0"/><rect x="375.86" y="348.57" width="8.68" height="6.07" fill="#e0ffda"/><rect x="384.54" y="348.57" width="8.68" height="6.07" fill="#b840ff"/><rect x="393.22" y="348.57" width="8.68" height="6.07" fill="#b840ff"/><rect x="401.90" y="348.57" width="8.68" height="6.07" fill="#e0ffda"/><rect x="410.58" y="348.57" width="8.68" height="6.07" fill="#e0ffda"/><rect x="419.26" y="348.57" width="8.68" height="6.07" fill="#e0ffda"/><rect x="427.94" y="348.57" width="8.68" height="6.07" fill="#e0ffda"/><rect x="436.62" y="348.57" width="8.68" height="6.07" fill="#e0ffda"/><rect x="445.30" y="348.57" width="8.68" height="6.07" fill="#e0ffda"/><rect x="453.98" y="348.57" width="8.68" height="6.07" fill="#e0ffda"/><rect x="462.66" y="348.57" width="8.68" height="6.07" fill="#daffd4"/><rect x="471.34" y="348.57" width="8.68" height="6.07" fill="#daffd4"/><rect x="480.02" y="348.57" width="8.68" height="6.07" fill="#daffd4"/><rect x="488.70" y="348.57" width="8.68" height="6.07" fill="#daffd4"/><rect x="497.38" y="348.57" width="8.68" height="6.07" fill="#daffd4"/><rect x="506.06" y="348.57" width="8.68" height="6.07" fill="#daffd4"/><rect x="514.74" y="348.57" width="8.68" height="6.07" fill="#daffd4"/><rect x="358.50" y="354.64" width="8.68" height="6.07" fill="#b830ff"/><rect x="367.18" y="354.64" width="8.68" height="6.07" fill="#eaffea"/><rect x="375.86" y="354.64" width="8.68" height="6.07" fill="#eaffea"/><rect x="384.54" y="354.64" width="8.68" height="6.07" fill="#b840ff"/><rect x="393.22" y="354.64" width="8.68" height="6.07" fill="#b840ff"/><rect x="401.90" y="354.64" width="8.68" height="6.07" fill="#e8ffe4"/><rect x="410.58" y="354.64" width="8.68" height="6.07" fill="#e8ffe4"/><rect x="419.26" y="354.64" width="8.68" height="6.07" fill="#e8ffe4"/><rect x="427.94" y="354.64" width="8.68" height="6.07" fill="#e8ffe4"/><rect x="436.62" y="354.64" width="8.68" height="6.07" fill="#e8ffe4"/><rect x="445.30" y="354.64" width="8.68" height="6.07" fill="#e8ffe4"/><rect x="453.98" y="354.64" width="8.68" height="6.07" fill="#e8ffe4"/><rect x="462.66" y="354.64" width="8.68" height="6.07" fill="#b4ffaa"/><rect x="471.34" y="354.64" width="8.68" height="6.07" fill="#b4ffaa"/><rect x="480.02" y="354.64" width="8.68" height="6.07" fill="#b4ffaa"/><rect x="488.70" y="354.64" width="8.68" height="6.07" fill="#b4ffaa"/><rect x="497.38" y="354.64" width="8.68" height="6.07" fill="#b4ffaa"/><rect x="506.06" y="354.64" width="8.68" height="6.07" fill="#b4ffaa"/><rect x="514.74" y="354.64" width="8.68" height="6.07" fill="#b4ffaa"/><rect x="358.50" y="360.71" width="8.68" height="6.07" fill="#d8a8ff"/><rect x="367.18" y="360.71" width="8.68" height="6.07" fill="#b0ffa8"/><rect x="375.86" y="360.71" width="8.68" height="6.07" fill="#b0ffa8"/><rect x="384.54" y="360.71" width="8.68" height="6.07" fill="#c880ff"/><rect x="393.22" y="360.71" width="8.68" height="6.07" fill="#cc88ff"/><rect x="401.90" y="360.71" width="8.68" height="6.07" fill="#b830ff"/><rect x="410.58" y="360.71" width="8.68" height="6.07" fill="#f0e8ff"/><rect x="419.26" y="360.71" width="8.68" height="6.07" fill="#eee0ff"/><rect x="427.94" y="360.71" width="8.68" height="6.07" fill="#f0e8ff"/><rect x="436.62" y="360.71" width="8.68" height="6.07" fill="#e0c8ff"/><rect x="445.30" y="360.71" width="8.68" height="6.07" fill="#e0c8ff"/><rect x="453.98" y="360.71" width="8.68" height="6.07" fill="#c4ffbc"/><rect x="462.66" y="360.71" width="8.68" height="6.07" fill="#a0ff90"/><rect x="471.34" y="360.71" width="8.68" height="6.07" fill="#a0ff90"/><rect x="480.02" y="360.71" width="8.68" height="6.07" fill="#a0ff90"/><rect x="488.70" y="360.71" width="8.68" height="6.07" fill="#a0ff90"/><rect x="497.38" y="360.71" width="8.68" height="6.07" fill="#b8ffb0"/><rect x="506.06" y="360.71" width="8.68" height="6.07" fill="#b8ffb0"/><rect x="514.74" y="360.71" width="8.68" height="6.07" fill="#b8ffb0"/><rect x="358.50" y="366.78" width="8.68" height="6.07" fill="#eee0ff"/><rect x="367.18" y="366.78" width="8.68" height="6.07" fill="#f4fff2"/><rect x="375.86" y="366.78" width="8.68" height="6.07" fill="#e4ffe0"/><rect x="384.54" y="366.78" width="8.68" height="6.07" fill="#50ff20"/><rect x="393.22" y="366.78" width="8.68" height="6.07" fill="#cc90ff"/><rect x="401.90" y="366.78" width="8.68" height="6.07" fill="#b830ff"/><rect x="410.58" y="366.78" width="8.68" height="6.07" fill="#d090ff"/><rect x="419.26" y="366.78" width="8.68" height="6.07" fill="#d090ff"/><rect x="427.94" y="366.78" width="8.68" height="6.07" fill="#50ff20"/><rect x="436.62" y="366.78" width="8.68" height="6.07" fill="#d4a0ff"/><rect x="445.30" y="366.78" width="8.68" height="6.07" fill="#d098ff"/><rect x="453.98" y="366.78" width="8.68" height="6.07" fill="#e4ffe0"/><rect x="462.66" y="366.78" width="8.68" height="6.07" fill="#dcffd6"/><rect x="471.34" y="366.78" width="8.68" height="6.07" fill="#dcffd6"/><rect x="480.02" y="366.78" width="8.68" height="6.07" fill="#dcffd6"/><rect x="488.70" y="366.78" width="8.68" height="6.07" fill="#dcffd6"/><rect x="497.38" y="366.78" width="8.68" height="6.07" fill="#f2fff0"/><rect x="506.06" y="366.78" width="8.68" height="6.07" fill="#f2fff0"/><rect x="514.74" y="366.78" width="8.68" height="6.07" fill="#b0ffa8"/><rect x="358.50" y="372.85" width="8.68" height="6.07" fill="#d8b0ff"/><rect x="367.18" y="372.85" width="8.68" height="6.07" fill="#b840ff"/><rect x="375.86" y="372.85" width="8.68" height="6.07" fill="#b840ff"/><rect x="384.54" y="372.85" width="8.68" height="6.07" fill="#b0ffa8"/><rect x="393.22" y="372.85" width="8.68" height="6.07" fill="#b0ffa8"/><rect x="401.90" y="372.85" width="8.68" height="6.07" fill="#b0ffa8"/><rect x="410.58" y="372.85" width="8.68" height="6.07" fill="#b0ffa8"/><rect x="419.26" y="372.85" width="8.68" height="6.07" fill="#b0ffa8"/><rect x="427.94" y="372.85" width="8.68" height="6.07" fill="#b0ffa8"/><rect x="436.62" y="372.85" width="8.68" height="6.07" fill="#b0ffa8"/><rect x="445.30" y="372.85" width="8.68" height="6.07" fill="#b0ffa8"/><rect x="453.98" y="372.85" width="8.68" height="6.07" fill="#c4ffbc"/><rect x="462.66" y="372.85" width="8.68" height="6.07" fill="#cc90ff"/><rect x="471.34" y="372.85" width="8.68" height="6.07" fill="#cc90ff"/><rect x="480.02" y="372.85" width="8.68" height="6.07" fill="#cc90ff"/><rect x="488.70" y="372.85" width="8.68" height="6.07" fill="#cc90ff"/><rect x="497.38" y="372.85" width="8.68" height="6.07" fill="#b0ffa8"/><rect x="506.06" y="372.85" width="8.68" height="6.07" fill="#b0ffa8"/><rect x="514.74" y="372.85" width="8.68" height="6.07" fill="#b0ffa8"/><rect x="358.50" y="378.92" width="8.68" height="6.07" fill="#c060ff"/><rect x="367.18" y="378.92" width="8.68" height="6.07" fill="#c060ff"/><rect x="375.86" y="378.92" width="8.68" height="6.07" fill="#b020ff"/><rect x="384.54" y="378.92" width="8.68" height="6.07" fill="#b0ffa8"/><rect x="393.22" y="378.92" width="8.68" height="6.07" fill="#b0ffa8"/><rect x="401.90" y="378.92" width="8.68" height="6.07" fill="#b0ffa8"/><rect x="410.58" y="378.92" width="8.68" height="6.07" fill="#b0ffa8"/><rect x="419.26" y="378.92" width="8.68" height="6.07" fill="#b0ffa8"/><rect x="427.94" y="378.92" width="8.68" height="6.07" fill="#b0ffa8"/><rect x="436.62" y="378.92" width="8.68" height="6.07" fill="#b0ffa8"/><rect x="445.30" y="378.92" width="8.68" height="6.07" fill="#b0ffa8"/><rect x="453.98" y="378.92" width="8.68" height="6.07" fill="#c4ffbc"/><rect x="462.66" y="378.92" width="8.68" height="6.07" fill="#cc90ff"/><rect x="471.34" y="378.92" width="8.68" height="6.07" fill="#cc90ff"/><rect x="480.02" y="378.92" width="8.68" height="6.07" fill="#cc90ff"/><rect x="488.70" y="378.92" width="8.68" height="6.07" fill="#cc90ff"/><rect x="497.38" y="378.92" width="8.68" height="6.07" fill="#b0ffa8"/><rect x="506.06" y="378.92" width="8.68" height="6.07" fill="#b0ffa8"/><rect x="514.74" y="378.92" width="8.68" height="6.07" fill="#b0ffa8"/><rect x="358.50" y="384.99" width="8.68" height="6.07" fill="#fafffa"/><rect x="367.18" y="384.99" width="8.68" height="6.07" fill="#b840ff"/><rect x="375.86" y="384.99" width="8.68" height="6.07" fill="#b020ff"/><rect x="384.54" y="384.99" width="8.68" height="6.07" fill="#a8ffa0"/><rect x="393.22" y="384.99" width="8.68" height="6.07" fill="#b820ff"/><rect x="401.90" y="384.99" width="8.68" height="6.07" fill="#ccffc4"/><rect x="410.58" y="384.99" width="8.68" height="6.07" fill="#d0ffc8"/><rect x="419.26" y="384.99" width="8.68" height="6.07" fill="#ccffc4"/><rect x="427.94" y="384.99" width="8.68" height="6.07" fill="#a8ffa0"/><rect x="436.62" y="384.99" width="8.68" height="6.07" fill="#a8ffa0"/><rect x="445.30" y="384.99" width="8.68" height="6.07" fill="#d4ffcc"/><rect x="453.98" y="384.99" width="8.68" height="6.07" fill="#d090ff"/><rect x="462.66" y="384.99" width="8.68" height="6.07" fill="#d8ffd0"/><rect x="471.34" y="384.99" width="8.68" height="6.07" fill="#d8ffd0"/><rect x="480.02" y="384.99" width="8.68" height="6.07" fill="#d8ffd0"/><rect x="488.70" y="384.99" width="8.68" height="6.07" fill="#d8ffd0"/><rect x="497.38" y="384.99" width="8.68" height="6.07" fill="#d4ffcc"/><rect x="506.06" y="384.99" width="8.68" height="6.07" fill="#d4ffcc"/><rect x="514.74" y="384.99" width="8.68" height="6.07" fill="#d4ffcc"/><rect x="358.50" y="391.06" width="8.68" height="6.07" fill="#b0ffa8"/><rect x="367.18" y="391.06" width="8.68" height="6.07" fill="#b0ffa8"/><rect x="375.86" y="391.06" width="8.68" height="6.07" fill="#b020ff"/><rect x="384.54" y="391.06" width="8.68" height="6.07" fill="#cc88ff"/><rect x="393.22" y="391.06" width="8.68" height="6.07" fill="#d098ff"/><rect x="401.90" y="391.06" width="8.68" height="6.07" fill="#c4ffbc"/><rect x="410.58" y="391.06" width="8.68" height="6.07" fill="#d8ffd0"/><rect x="419.26" y="391.06" width="8.68" height="6.07" fill="#d4ffcc"/><rect x="427.94" y="391.06" width="8.68" height="6.07" fill="#d4ffcc"/><rect x="436.62" y="391.06" width="8.68" height="6.07" fill="#d8ffd0"/><rect x="445.30" y="391.06" width="8.68" height="6.07" fill="#d0ffc8"/><rect x="453.98" y="391.06" width="8.68" height="6.07" fill="#b8ffb0"/><rect x="462.66" y="391.06" width="8.68" height="6.07" fill="#f2eaff"/><rect x="471.34" y="391.06" width="8.68" height="6.07" fill="#f2eaff"/><rect x="480.02" y="391.06" width="8.68" height="6.07" fill="#f2eaff"/><rect x="488.70" y="391.06" width="8.68" height="6.07" fill="#f2eaff"/><rect x="497.38" y="391.06" width="8.68" height="6.07" fill="#d4ffcc"/><rect x="506.06" y="391.06" width="8.68" height="6.07" fill="#d4ffcc"/><rect x="514.74" y="391.06" width="8.68" height="6.07" fill="#d4ffcc"/><rect x="358.50" y="397.13" width="8.68" height="6.07" fill="#b818ff"/><rect x="367.18" y="397.13" width="8.68" height="6.07" fill="#e0c8ff"/><rect x="375.86" y="397.13" width="8.68" height="6.07" fill="#d8b8ff"/><rect x="384.54" y="397.13" width="8.68" height="6.07" fill="#b0ffa8"/><rect x="393.22" y="397.13" width="8.68" height="6.07" fill="#b8ffb0"/><rect x="401.90" y="397.13" width="8.68" height="6.07" fill="#faf4ff"/><rect x="410.58" y="397.13" width="8.68" height="6.07" fill="#c4ffbc"/><rect x="419.26" y="397.13" width="8.68" height="6.07" fill="#b8ffb0"/><rect x="427.94" y="397.13" width="8.68" height="6.07" fill="#b4ffac"/><rect x="436.62" y="397.13" width="8.68" height="6.07" fill="#b4ffac"/><rect x="445.30" y="397.13" width="8.68" height="6.07" fill="#b4ffac"/><rect x="453.98" y="397.13" width="8.68" height="6.07" fill="#c8ffc0"/><rect x="462.66" y="397.13" width="8.68" height="6.07" fill="#e0c4ff"/><rect x="471.34" y="397.13" width="8.68" height="6.07" fill="#e0c4ff"/><rect x="480.02" y="397.13" width="8.68" height="6.07" fill="#e0c4ff"/><rect x="488.70" y="397.13" width="8.68" height="6.07" fill="#e0c4ff"/><rect x="497.38" y="397.13" width="8.68" height="6.07" fill="#b4ffac"/><rect x="506.06" y="397.13" width="8.68" height="6.07" fill="#e4ccff"/><rect x="514.74" y="397.13" width="8.68" height="6.07" fill="#b4ffac"/><rect x="358.50" y="403.20" width="8.68" height="6.07" fill="#b818ff"/><rect x="367.18" y="403.20" width="8.68" height="6.07" fill="#d4a8ff"/><rect x="375.86" y="403.20" width="8.68" height="6.07" fill="#c060ff"/><rect x="384.54" y="403.20" width="8.68" height="6.07" fill="#fafff8"/><rect x="393.22" y="403.20" width="8.68" height="6.07" fill="#f0e8ff"/><rect x="401.90" y="403.20" width="8.68" height="6.07" fill="#c0ffb8"/><rect x="410.58" y="403.20" width="8.68" height="6.07" fill="#c0ffb8"/><rect x="419.26" y="403.20" width="8.68" height="6.07" fill="#a0ff90"/><rect x="427.94" y="403.20" width="8.68" height="6.07" fill="#c0ffb8"/><rect x="436.62" y="403.20" width="8.68" height="6.07" fill="#b8ffb0"/><rect x="445.30" y="403.20" width="8.68" height="6.07" fill="#b4ffac"/><rect x="453.98" y="403.20" width="8.68" height="6.07" fill="#eaffe6"/><rect x="462.66" y="403.20" width="8.68" height="6.07" fill="#f0e4ff"/><rect x="471.34" y="403.20" width="8.68" height="6.07" fill="#f0e4ff"/><rect x="480.02" y="403.20" width="8.68" height="6.07" fill="#f0e4ff"/><rect x="488.70" y="403.20" width="8.68" height="6.07" fill="#f0e4ff"/><rect x="497.38" y="403.20" width="8.68" height="6.07" fill="#b8ffb0"/><rect x="506.06" y="403.20" width="8.68" height="6.07" fill="#c8ffc0"/><rect x="514.74" y="403.20" width="8.68" height="6.07" fill="#a8ffa0"/><rect x="358.50" y="409.27" width="8.68" height="6.07" fill="#b818ff"/><rect x="367.18" y="409.27" width="8.68" height="6.07" fill="#f8f4fa"/><rect x="375.86" y="409.27" width="8.68" height="6.07" fill="#c870ff"/><rect x="384.54" y="409.27" width="8.68" height="6.07" fill="#dcffd6"/><rect x="393.22" y="409.27" width="8.68" height="6.07" fill="#faf8ff"/><rect x="401.90" y="409.27" width="8.68" height="6.07" fill="#ccffc4"/><rect x="410.58" y="409.27" width="8.68" height="6.07" fill="#b4ffac"/><rect x="419.26" y="409.27" width="8.68" height="6.07" fill="#c8ffc0"/><rect x="427.94" y="409.27" width="8.68" height="6.07" fill="#c0ffb8"/><rect x="436.62" y="409.27" width="8.68" height="6.07" fill="#e4ffe0"/><rect x="445.30" y="409.27" width="8.68" height="6.07" fill="#ccffc4"/><rect x="453.98" y="409.27" width="8.68" height="6.07" fill="#ecffea"/><rect x="462.66" y="409.27" width="8.68" height="6.07" fill="#f0fff0"/><rect x="471.34" y="409.27" width="8.68" height="6.07" fill="#f0fff0"/><rect x="480.02" y="409.27" width="8.68" height="6.07" fill="#f0fff0"/><rect x="488.70" y="409.27" width="8.68" height="6.07" fill="#f0fff0"/><rect x="497.38" y="409.27" width="8.68" height="6.07" fill="#d8ffd0"/><rect x="506.06" y="409.27" width="8.68" height="6.07" fill="#d0ffc8"/><rect x="514.74" y="409.27" width="8.68" height="6.07" fill="#e0ffda"/><rect x="358.50" y="415.34" width="8.68" height="6.07" fill="#b818ff"/><rect x="367.18" y="415.34" width="8.68" height="6.07" fill="#dcc0ff"/><rect x="375.86" y="415.34" width="8.68" height="6.07" fill="#d8b8ff"/><rect x="384.54" y="415.34" width="8.68" height="6.07" fill="#b0ffa8"/><rect x="393.22" y="415.34" width="8.68" height="6.07" fill="#ecffea"/><rect x="401.90" y="415.34" width="8.68" height="6.07" fill="#c8ffc0"/><rect x="410.58" y="415.34" width="8.68" height="6.07" fill="#eaffe6"/><rect x="419.26" y="415.34" width="8.68" height="6.07" fill="#d4ffcc"/><rect x="427.94" y="415.34" width="8.68" height="6.07" fill="#b4ffac"/><rect x="436.62" y="415.34" width="8.68" height="6.07" fill="#c8ffc0"/><rect x="445.30" y="415.34" width="8.68" height="6.07" fill="#c0ffb8"/><rect x="453.98" y="415.34" width="8.68" height="6.07" fill="#f0fff0"/><rect x="462.66" y="415.34" width="8.68" height="6.07" fill="#eedcff"/><rect x="471.34" y="415.34" width="8.68" height="6.07" fill="#eedcff"/><rect x="480.02" y="415.34" width="8.68" height="6.07" fill="#eedcff"/><rect x="488.70" y="415.34" width="8.68" height="6.07" fill="#eedcff"/><rect x="497.38" y="415.34" width="8.68" height="6.07" fill="#b4ffac"/><rect x="506.06" y="415.34" width="8.68" height="6.07" fill="#b4ffac"/><rect x="514.74" y="415.34" width="8.68" height="6.07" fill="#b4ffac"/><rect x="358.50" y="421.41" width="8.68" height="6.07" fill="#b818ff"/><rect x="367.18" y="421.41" width="8.68" height="6.07" fill="#eadcff"/><rect x="375.86" y="421.41" width="8.68" height="6.07" fill="#e4d4ff"/><rect x="384.54" y="421.41" width="8.68" height="6.07" fill="#fafffa"/><rect x="393.22" y="421.41" width="8.68" height="6.07" fill="#e4d0ff"/><rect x="401.90" y="421.41" width="8.68" height="6.07" fill="#bcffb4"/><rect x="410.58" y="421.41" width="8.68" height="6.07" fill="#bcffb4"/><rect x="419.26" y="421.41" width="8.68" height="6.07" fill="#c4ffbc"/><rect x="427.94" y="421.41" width="8.68" height="6.07" fill="#bcffb4"/><rect x="436.62" y="421.41" width="8.68" height="6.07" fill="#c4ffbc"/><rect x="445.30" y="421.41" width="8.68" height="6.07" fill="#c4ffbc"/><rect x="453.98" y="421.41" width="8.68" height="6.07" fill="#fafffa"/><rect x="462.66" y="421.41" width="8.68" height="6.07" fill="#f0fff0"/><rect x="471.34" y="421.41" width="8.68" height="6.07" fill="#f0fff0"/><rect x="480.02" y="421.41" width="8.68" height="6.07" fill="#f0fff0"/><rect x="488.70" y="421.41" width="8.68" height="6.07" fill="#f0fff0"/><rect x="497.38" y="421.41" width="8.68" height="6.07" fill="#c0ffb8"/><rect x="506.06" y="421.41" width="8.68" height="6.07" fill="#c0ffb8"/><rect x="514.74" y="421.41" width="8.68" height="6.07" fill="#c0ffb8"/><rect x="358.50" y="427.48" width="8.68" height="6.07" fill="#b818ff"/><rect x="367.18" y="427.48" width="8.68" height="6.07" fill="#f0e8ff"/><rect x="375.86" y="427.48" width="8.68" height="6.07" fill="#e8d8ff"/><rect x="384.54" y="427.48" width="8.68" height="6.07" fill="#fcfcff"/><rect x="393.22" y="427.48" width="8.68" height="6.07" fill="#fafffa"/><rect x="401.90" y="427.48" width="8.68" height="6.07" fill="#c4ffbc"/><rect x="410.58" y="427.48" width="8.68" height="6.07" fill="#c0ffb8"/><rect x="419.26" y="427.48" width="8.68" height="6.07" fill="#ccffc4"/><rect x="427.94" y="427.48" width="8.68" height="6.07" fill="#b0ffa8"/><rect x="436.62" y="427.48" width="8.68" height="6.07" fill="#c0ffb8"/><rect x="445.30" y="427.48" width="8.68" height="6.07" fill="#b4ffac"/><rect x="453.98" y="427.48" width="8.68" height="6.07" fill="#eaffe6"/><rect x="462.66" y="427.48" width="8.68" height="6.07" fill="#eedcff"/><rect x="471.34" y="427.48" width="8.68" height="6.07" fill="#eedcff"/><rect x="480.02" y="427.48" width="8.68" height="6.07" fill="#eedcff"/><rect x="488.70" y="427.48" width="8.68" height="6.07" fill="#eedcff"/><rect x="497.38" y="427.48" width="8.68" height="6.07" fill="#b4ffac"/><rect x="506.06" y="427.48" width="8.68" height="6.07" fill="#ccffc4"/><rect x="514.74" y="427.48" width="8.68" height="6.07" fill="#a8ffa0"/><rect x="358.50" y="433.55" width="8.68" height="6.07" fill="#b818ff"/><rect x="367.18" y="433.55" width="8.68" height="6.07" fill="#cc88ff"/><rect x="375.86" y="433.55" width="8.68" height="6.07" fill="#c470ff"/><rect x="384.54" y="433.55" width="8.68" height="6.07" fill="#c878ff"/><rect x="393.22" y="433.55" width="8.68" height="6.07" fill="#dcffd6"/><rect x="401.90" y="433.55" width="8.68" height="6.07" fill="#a4ff98"/><rect x="410.58" y="433.55" width="8.68" height="6.07" fill="#fffcff"/><rect x="419.26" y="433.55" width="8.68" height="6.07" fill="#d8ffd0"/><rect x="427.94" y="433.55" width="8.68" height="6.07" fill="#88ff70"/><rect x="436.62" y="433.55" width="8.68" height="6.07" fill="#d0ffc8"/><rect x="445.30" y="433.55" width="8.68" height="6.07" fill="#c8ffc0"/><rect x="453.98" y="433.55" width="8.68" height="6.07" fill="#faf6ff"/><rect x="462.66" y="433.55" width="8.68" height="6.07" fill="#eaffe6"/><rect x="471.34" y="433.55" width="8.68" height="6.07" fill="#eaffe6"/><rect x="480.02" y="433.55" width="8.68" height="6.07" fill="#eaffe6"/><rect x="488.70" y="433.55" width="8.68" height="6.07" fill="#eaffe6"/><rect x="497.38" y="433.55" width="8.68" height="6.07" fill="#c8ffc0"/><rect x="506.06" y="433.55" width="8.68" height="6.07" fill="#88ff70"/><rect x="514.74" y="433.55" width="8.68" height="6.07" fill="#98ff88"/><rect x="358.50" y="439.62" width="8.68" height="6.07" fill="#b818ff"/><rect x="367.18" y="439.62" width="8.68" height="6.07" fill="#c060ff"/><rect x="375.86" y="439.62" width="8.68" height="6.07" fill="#c060ff"/><rect x="384.54" y="439.62" width="8.68" height="6.07" fill="#a8ffa0"/><rect x="393.22" y="439.62" width="8.68" height="6.07" fill="#b0ffa8"/><rect x="401.90" y="439.62" width="8.68" height="6.07" fill="#a8ffa0"/><rect x="410.58" y="439.62" width="8.68" height="6.07" fill="#ecffea"/><rect x="419.26" y="439.62" width="8.68" height="6.07" fill="#b4ffac"/><rect x="427.94" y="439.62" width="8.68" height="6.07" fill="#b4ffac"/><rect x="436.62" y="439.62" width="8.68" height="6.07" fill="#a8ffa0"/><rect x="445.30" y="439.62" width="8.68" height="6.07" fill="#b4ffac"/><rect x="453.98" y="439.62" width="8.68" height="6.07" fill="#d8a8ff"/><rect x="462.66" y="439.62" width="8.68" height="6.07" fill="#e0c0ff"/><rect x="471.34" y="439.62" width="8.68" height="6.07" fill="#e0c0ff"/><rect x="480.02" y="439.62" width="8.68" height="6.07" fill="#e0c0ff"/><rect x="488.70" y="439.62" width="8.68" height="6.07" fill="#e0c0ff"/><rect x="497.38" y="439.62" width="8.68" height="6.07" fill="#b4ffac"/><rect x="506.06" y="439.62" width="8.68" height="6.07" fill="#b0ffa8"/><rect x="514.74" y="439.62" width="8.68" height="6.07" fill="#a8ffa0"/><rect x="358.50" y="445.69" width="8.68" height="6.07" fill="#b818ff"/><rect x="367.18" y="445.69" width="8.68" height="6.07" fill="#c468ff"/><rect x="375.86" y="445.69" width="8.68" height="6.07" fill="#cc88ff"/><rect x="384.54" y="445.69" width="8.68" height="6.07" fill="#b4ffac"/><rect x="393.22" y="445.69" width="8.68" height="6.07" fill="#b8ffb0"/><rect x="401.90" y="445.69" width="8.68" height="6.07" fill="#b0ffa8"/><rect x="410.58" y="445.69" width="8.68" height="6.07" fill="#bcffb4"/><rect x="419.26" y="445.69" width="8.68" height="6.07" fill="#b0ffa8"/><rect x="427.94" y="445.69" width="8.68" height="6.07" fill="#88ff70"/><rect x="436.62" y="445.69" width="8.68" height="6.07" fill="#d0ffc8"/><rect x="445.30" y="445.69" width="8.68" height="6.07" fill="#b0ffa8"/><rect x="453.98" y="445.69" width="8.68" height="6.07" fill="#f4eeff"/><rect x="462.66" y="445.69" width="8.68" height="6.07" fill="#e0c8ff"/><rect x="471.34" y="445.69" width="8.68" height="6.07" fill="#e0c8ff"/><rect x="480.02" y="445.69" width="8.68" height="6.07" fill="#e0c8ff"/><rect x="488.70" y="445.69" width="8.68" height="6.07" fill="#e0c8ff"/><rect x="497.38" y="445.69" width="8.68" height="6.07" fill="#b4ffac"/><rect x="506.06" y="445.69" width="8.68" height="6.07" fill="#b0ffa8"/><rect x="514.74" y="445.69" width="8.68" height="6.07" fill="#a8ffa0"/><rect x="358.50" y="451.76" width="8.68" height="6.07" fill="#b818ff"/><rect x="367.18" y="451.76" width="8.68" height="6.07" fill="#f2fff0"/><rect x="375.86" y="451.76" width="8.68" height="6.07" fill="#a8ffa0"/><rect x="384.54" y="451.76" width="8.68" height="6.07" fill="#cc88ff"/><rect x="393.22" y="451.76" width="8.68" height="6.07" fill="#dcb8ff"/><rect x="401.90" y="451.76" width="8.68" height="6.07" fill="#b4ffac"/><rect x="410.58" y="451.76" width="8.68" height="6.07" fill="#fcfffc"/><rect x="419.26" y="451.76" width="8.68" height="6.07" fill="#eaffe6"/><rect x="427.94" y="451.76" width="8.68" height="6.07" fill="#f6f0ff"/><rect x="436.62" y="451.76" width="8.68" height="6.07" fill="#fffeff"/><rect x="445.30" y="451.76" width="8.68" height="6.07" fill="#f8f4ff"/><rect x="453.98" y="451.76" width="8.68" height="6.07" fill="#f2fff0"/><rect x="462.66" y="451.76" width="8.68" height="6.07" fill="#b0ffa8"/><rect x="471.34" y="451.76" width="8.68" height="6.07" fill="#b0ffa8"/><rect x="480.02" y="451.76" width="8.68" height="6.07" fill="#b0ffa8"/><rect x="488.70" y="451.76" width="8.68" height="6.07" fill="#b0ffa8"/><rect x="497.38" y="451.76" width="8.68" height="6.07" fill="#f6f0ff"/><rect x="506.06" y="451.76" width="8.68" height="6.07" fill="#fcfffc"/><rect x="514.74" y="451.76" width="8.68" height="6.07" fill="#b0ffa8"/><rect x="358.50" y="457.83" width="8.68" height="6.07" fill="#b818ff"/><rect x="367.18" y="457.83" width="8.68" height="6.07" fill="#80ff66"/><rect x="375.86" y="457.83" width="8.68" height="6.07" fill="#f2eaff"/><rect x="384.54" y="457.83" width="8.68" height="6.07" fill="#60ff30"/><rect x="393.22" y="457.83" width="8.68" height="6.07" fill="#60ff30"/><rect x="401.90" y="457.83" width="8.68" height="6.07" fill="#dcb0ff"/><rect x="410.58" y="457.83" width="8.68" height="6.07" fill="#60ff30"/><rect x="419.26" y="457.83" width="8.68" height="6.07" fill="#dcffd6"/><rect x="427.94" y="457.83" width="8.68" height="6.07" fill="#eadcff"/><rect x="436.62" y="457.83" width="8.68" height="6.07" fill="#f4f0ff"/><rect x="445.30" y="457.83" width="8.68" height="6.07" fill="#d49cff"/><rect x="453.98" y="457.83" width="8.68" height="6.07" fill="#d49cff"/><rect x="462.66" y="457.83" width="8.68" height="6.07" fill="#f0eaff"/><rect x="471.34" y="457.83" width="8.68" height="6.07" fill="#f0eaff"/><rect x="480.02" y="457.83" width="8.68" height="6.07" fill="#f0eaff"/><rect x="488.70" y="457.83" width="8.68" height="6.07" fill="#f0eaff"/><rect x="497.38" y="457.83" width="8.68" height="6.07" fill="#f0eaff"/><rect x="506.06" y="457.83" width="8.68" height="6.07" fill="#70ff50"/><rect x="514.74" y="457.83" width="8.68" height="6.07" fill="#fafff8"/><rect x="358.50" y="463.90" width="8.68" height="6.07" fill="#b818ff"/><rect x="367.18" y="463.90" width="8.68" height="6.07" fill="#a0ff90"/><rect x="375.86" y="463.90" width="8.68" height="6.07" fill="#ede0ff"/><rect x="384.54" y="463.90" width="8.68" height="6.07" fill="#80ff66"/><rect x="393.22" y="463.90" width="8.68" height="6.07" fill="#80ff66"/><rect x="401.90" y="463.90" width="8.68" height="6.07" fill="#ede4ff"/><rect x="410.58" y="463.90" width="8.68" height="6.07" fill="#80ff66"/><rect x="419.26" y="463.90" width="8.68" height="6.07" fill="#e8ffe4"/><rect x="427.94" y="463.90" width="8.68" height="6.07" fill="#fffcff"/><rect x="436.62" y="463.90" width="8.68" height="6.07" fill="#f0fff0"/><rect x="445.30" y="463.90" width="8.68" height="6.07" fill="#eee4ff"/><rect x="453.98" y="463.90" width="8.68" height="6.07" fill="#eee4ff"/><rect x="462.66" y="463.90" width="8.68" height="6.07" fill="#ede4ff"/><rect x="471.34" y="463.90" width="8.68" height="6.07" fill="#ede4ff"/><rect x="480.02" y="463.90" width="8.68" height="6.07" fill="#ede4ff"/><rect x="488.70" y="463.90" width="8.68" height="6.07" fill="#ede4ff"/><rect x="497.38" y="463.90" width="8.68" height="6.07" fill="#ede4ff"/><rect x="506.06" y="463.90" width="8.68" height="6.07" fill="#98ff88"/><rect x="514.74" y="463.90" width="8.68" height="6.07" fill="#faf6ff"/>
<path d="M358.50 281.80V469.97M367.18 281.80V469.97M375.86 281.80V469.97M384.54 281.80V469.97M393.22 281.80V469.97M401.90 281.80V469.97M410.58 281.80V469.97M419.26 281.80V469.97M427.94 281.80V469.97M436.62 281.80V469.97M445.30 281.80V469.97M453.98 281.80V469.97M462.66 281.80V469.97M471.34 281.80V469.97M480.02 281.80V469.97M488.70 281.80V469.97M497.38 281.80V469.97M506.06 281.80V469.97M514.74 281.80V469.97M523.42 281.80V469.97M358.50 281.80H523.42M358.50 287.87H523.42M358.50 293.94H523.42M358.50 300.01H523.42M358.50 306.08H523.42M358.50 312.15H523.42M358.50 318.22H523.42M358.50 324.29H523.42M358.50 330.36H523.42M358.50 336.43H523.42M358.50 342.50H523.42M358.50 348.57H523.42M358.50 354.64H523.42M358.50 360.71H523.42M358.50 366.78H523.42M358.50 372.85H523.42M358.50 378.92H523.42M358.50 384.99H523.42M358.50 391.06H523.42M358.50 397.13H523.42M358.50 403.20H523.42M358.50 409.27H523.42M358.50 415.34H523.42M358.50 421.41H523.42M358.50 427.48H523.42M358.50 433.55H523.42M358.50 439.62H523.42M358.50 445.69H523.42M358.50 451.76H523.42M358.50 457.83H523.42M358.50 463.90H523.42M358.50 469.97H523.42" stroke="#000" stroke-opacity="0.13" stroke-width="0.6" fill="none"/>
<rect x="358.50" y="276.2" width="8.68" height="4.0" fill="#dc6414"/><rect x="367.18" y="276.2" width="8.68" height="4.0" fill="#3a9c7c"/><rect x="375.86" y="276.2" width="8.68" height="4.0" fill="#3a9c7c"/><rect x="384.54" y="276.2" width="8.68" height="4.0" fill="#dc6414"/><rect x="393.22" y="276.2" width="8.68" height="4.0" fill="#dc6414"/><rect x="401.90" y="276.2" width="8.68" height="4.0" fill="#dc6414"/><rect x="410.58" y="276.2" width="8.68" height="4.0" fill="#dc6414"/><rect x="419.26" y="276.2" width="8.68" height="4.0" fill="#dc6414"/><rect x="427.94" y="276.2" width="8.68" height="4.0" fill="#dc6414"/><rect x="436.62" y="276.2" width="8.68" height="4.0" fill="#dc6414"/><rect x="445.30" y="276.2" width="8.68" height="4.0" fill="#dc6414"/><rect x="453.98" y="276.2" width="8.68" height="4.0" fill="#7872b4"/><rect x="462.66" y="276.2" width="8.68" height="4.0" fill="#3a9c7c"/><rect x="471.34" y="276.2" width="8.68" height="4.0" fill="#7872b4"/><rect x="480.02" y="276.2" width="8.68" height="4.0" fill="#3a9c7c"/><rect x="488.70" y="276.2" width="8.68" height="4.0" fill="#dc6414"/><rect x="497.38" y="276.2" width="8.68" height="4.0" fill="#7872b4"/><rect x="506.06" y="276.2" width="8.68" height="4.0" fill="#7872b4"/><rect x="514.74" y="276.2" width="8.68" height="4.0" fill="#3a9c7c"/>
<path d="M367.18 276.2V280.2M375.86 276.2V280.2M384.54 276.2V280.2M393.22 276.2V280.2M401.90 276.2V280.2M410.58 276.2V280.2M419.26 276.2V280.2M427.94 276.2V280.2M436.62 276.2V280.2M445.30 276.2V280.2M453.98 276.2V280.2M462.66 276.2V280.2M471.34 276.2V280.2M480.02 276.2V280.2M488.70 276.2V280.2M497.38 276.2V280.2M506.06 276.2V280.2M514.74 276.2V280.2" stroke="#d0d0d0" stroke-width="0.4" opacity="0.6"/>
<path d="M371.52 276.20V265.00H380.20V276.20M388.88 276.20V269.30H397.56V276.20M414.92 276.20V273.50H423.60V276.20M440.96 276.20V273.50H449.64V276.20M432.28 276.20V271.40H445.30V273.50M419.26 273.50V269.90H438.79V271.40M406.24 276.20V269.40H429.02V269.90M484.36 276.20V275.80H493.04V276.20M475.68 276.20V275.70H488.70V275.80M467.00 276.20V275.50H482.19V275.70M510.40 276.20V273.00H519.08V276.20M501.72 276.20V271.90H514.74V273.00M474.60 275.50V270.40H508.23V271.90M458.32 276.20V268.30H491.41V270.40M417.63 269.40V267.30H474.87V268.30M393.22 269.30V262.20H446.25V267.30M375.86 265.00V259.70H419.73V262.20M362.84 276.20V255.10H397.80V259.70" stroke="#8a8a8a" stroke-width="0.6" fill="none"/>
<path d="M358.50 290.91H355.30V296.98H358.50M358.50 303.05H353.40V309.12H358.50M355.30 293.94H351.50V306.08H353.40M358.50 284.84H345.40V300.01H351.50M358.50 321.25H357.60V327.33H358.50M357.60 324.29H357.30V333.39H358.50M358.50 315.19H356.60V328.84H357.30M358.50 339.47H357.10V345.54H358.50M356.60 322.01H344.50V342.50H357.10M345.40 292.42H339.50V332.26H344.50M358.50 351.61H350.70V357.68H358.50M358.50 363.75H346.40V369.81H358.50M350.70 354.64H341.40V366.78H346.40M358.50 375.88H355.40V381.96H358.50M358.50 388.03H347.10V394.10H358.50M355.40 378.92H345.00V391.06H347.10M358.50 406.24H354.50V412.31H358.50M358.50 424.45H355.40V430.51H358.50M358.50 418.38H354.60V427.48H355.40M354.50 409.27H353.30V422.93H354.60M358.50 400.17H351.60V416.10H353.30M358.50 442.66H355.00V448.73H358.50M358.50 436.59H350.40V445.69H355.00M351.60 408.13H349.30V441.14H350.40M358.50 460.87H353.40V466.94H358.50M358.50 454.80H344.90V463.90H353.40M349.30 424.63H344.40V459.35H344.90M345.00 384.99H340.20V441.99H344.40M341.40 360.71H337.40V413.49H340.20M339.50 312.34H336.30V387.10H337.40" stroke="#8a8a8a" stroke-width="0.6" fill="none"/>
<g font-family='"Liberation Sans", sans-serif' font-weight="bold" font-size="5.45" fill="#111"><text x="524.9" y="286.79" textLength="84.87" lengthAdjust="spacingAndGlyphs">Taurine and hypotaurine metabolism</text><text x="524.9" y="292.86" textLength="87.41" lengthAdjust="spacingAndGlyphs">C5-branched dibasic acid metabolism</text><text x="524.9" y="298.93" textLength="57.90" lengthAdjust="spacingAndGlyphs">Sphingolipid metabolism</text><text x="524.9" y="305.00" textLength="36.62" lengthAdjust="spacingAndGlyphs">CoA catabolism</text><text x="524.9" y="311.06" textLength="49.79" lengthAdjust="spacingAndGlyphs">N-glycan degradation</text><text x="524.9" y="317.13" textLength="56.01" lengthAdjust="spacingAndGlyphs">Xenobiotics metabolism</text><text x="524.9" y="323.20" textLength="79.28" lengthAdjust="spacingAndGlyphs">Isoquinoline alkaloid biosynthesis</text><text x="524.9" y="329.28" textLength="48.43" lengthAdjust="spacingAndGlyphs">Atrazine degradation</text><text x="524.9" y="335.34" textLength="48.97" lengthAdjust="spacingAndGlyphs">Geraniol degradation</text><text x="524.9" y="341.42" textLength="94.17" lengthAdjust="spacingAndGlyphs">Carbon fixation pathways in prokaryotes</text><text x="524.9" y="347.49" textLength="45.46" lengthAdjust="spacingAndGlyphs">Zeatin biosynthesis</text><text x="524.9" y="353.56" textLength="33.29" lengthAdjust="spacingAndGlyphs">Miscellaneous</text><text x="524.9" y="359.62" textLength="67.92" lengthAdjust="spacingAndGlyphs">Nucleotide sugar metabolism</text><text x="524.9" y="365.69" textLength="48.44" lengthAdjust="spacingAndGlyphs">Bile acid metabolism</text><text x="524.9" y="371.76" textLength="53.86" lengthAdjust="spacingAndGlyphs">Transport, extracellular</text><text x="524.9" y="377.83" textLength="71.70" lengthAdjust="spacingAndGlyphs">Inositol phosphate metabolism</text><text x="524.9" y="383.91" textLength="48.17" lengthAdjust="spacingAndGlyphs">Methane metabolism</text><text x="524.9" y="389.98" textLength="50.87" lengthAdjust="spacingAndGlyphs">Benzoate degradation</text><text x="524.9" y="396.05" textLength="48.43" lengthAdjust="spacingAndGlyphs">Nitrogen metabolism</text><text x="524.9" y="402.12" textLength="82.81" lengthAdjust="spacingAndGlyphs">Squalene and cholesterol synthesis</text><text x="524.9" y="408.19" textLength="42.48" lengthAdjust="spacingAndGlyphs">Sulfur metabolism</text><text x="524.9" y="414.25" textLength="82.27" lengthAdjust="spacingAndGlyphs">Ascorbate and aldarate metabolism</text><text x="524.9" y="420.32" textLength="15.70" lengthAdjust="spacingAndGlyphs">Others</text><text x="524.9" y="426.40" textLength="45.73" lengthAdjust="spacingAndGlyphs">Fatty acid oxidation</text><text x="524.9" y="432.46" textLength="95.80" lengthAdjust="spacingAndGlyphs">Glyoxylate and dicarboxylate metabolism</text><text x="524.9" y="438.54" textLength="48.35" lengthAdjust="spacingAndGlyphs">Tyrosine metabolism</text><text x="524.9" y="444.61" textLength="65.47" lengthAdjust="spacingAndGlyphs">Aminobenzoate degradation</text><text x="524.9" y="450.68" textLength="55.47" lengthAdjust="spacingAndGlyphs">Glutathione metabolism</text><text x="524.9" y="456.75" textLength="50.06" lengthAdjust="spacingAndGlyphs">O-glycan degradation</text><text x="524.9" y="462.81" textLength="43.85" lengthAdjust="spacingAndGlyphs">Bile acid synthesis</text><text x="524.9" y="468.89" textLength="50.43" lengthAdjust="spacingAndGlyphs">Vitamin A metabolism</text></g>
<text x="524.9" y="280.0" font-family='"Liberation Sans", sans-serif' font-weight="bold" font-size="4.7" fill="#111" textLength="27.3" lengthAdjust="spacingAndGlyphs">Lactobacillus</text>
<g font-family='"Liberation Sans", sans-serif' font-weight="bold" font-size="4.87" fill="#111" text-anchor="end"><text x="0" y="0" transform="translate(365.44 471.3) rotate(-90)">H2SB3</text><text x="0" y="0" transform="translate(374.12 471.3) rotate(-90)">A01</text><text x="0" y="0" transform="translate(382.80 471.3) rotate(-90)">G01</text><text x="0" y="0" transform="translate(391.48 471.3) rotate(-90)">F02</text><text x="0" y="0" transform="translate(400.16 471.3) rotate(-90)">H2SB2</text><text x="0" y="0" transform="translate(408.84 471.3) rotate(-90)">E02</text><text x="0" y="0" transform="translate(417.52 471.3) rotate(-90)">H01</text><text x="0" y="0" transform="translate(426.20 471.3) rotate(-90)">H2SB4</text><text x="0" y="0" transform="translate(434.88 471.3) rotate(-90)">E01</text><text x="0" y="0" transform="translate(443.56 471.3) rotate(-90)">C02</text><text x="0" y="0" transform="translate(452.24 471.3) rotate(-90)">F01</text><text x="0" y="0" transform="translate(460.92 471.3) rotate(-90)">C01</text><text x="0" y="0" transform="translate(469.60 471.3) rotate(-90)">B02</text><text x="0" y="0" transform="translate(478.28 471.3) rotate(-90)">A02</text><text x="0" y="0" transform="translate(486.96 471.3) rotate(-90)">D01</text><text x="0" y="0" transform="translate(495.64 471.3) rotate(-90)">H2SB5</text><text x="0" y="0" transform="translate(504.32 471.3) rotate(-90)">H2SB1</text><text x="0" y="0" transform="translate(513.00 471.3) rotate(-90)">B01</text><text x="0" y="0" transform="translate(521.68 471.3) rotate(-90)">D02</text></g>
<defs><linearGradient id="cg" x1="0" y1="0" x2="0" y2="1"><stop offset="0" stop-color="#bb22ff"/><stop offset="0.3" stop-color="#bb22ff"/><stop offset="0.47" stop-color="#ffffff"/><stop offset="0.53" stop-color="#ffffff"/><stop offset="0.7" stop-color="#44ff11"/><stop offset="1" stop-color="#44ff11"/></linearGradient></defs>
<rect x="602" y="365.9" width="5.2" height="24.9" fill="url(#cg)"/>
<text x="608" y="369.1" font-family='"Liberation Sans", sans-serif' font-size="4.5" fill="#111">4</text>
<text x="608" y="374.8" font-family='"Liberation Sans", sans-serif' font-size="4.5" fill="#111">2</text>
<text x="608" y="380.6" font-family='"Liberation Sans", sans-serif' font-size="4.5" fill="#111">0</text>
<text x="608" y="386.2" font-family='"Liberation Sans", sans-serif' font-size="4.5" fill="#111">-2</text>
<text x="608" y="391.8" font-family='"Liberation Sans", sans-serif' font-size="4.5" fill="#111">-4</text>
<text x="625" y="364.7" font-family='"Liberation Sans", sans-serif' font-weight="bold" font-size="5.0" fill="#111" textLength="27.8" lengthAdjust="spacingAndGlyphs">Lactobacillus</text>
<rect x="625.2" y="366.5" width="5" height="4.5" fill="#dc6414"/>
<text x="631" y="370.4" font-family='"Liberation Sans", sans-serif' font-size="4.6" fill="#111">Absent</text>
<rect x="625.2" y="371.0" width="5" height="4.5" fill="#3a9c7c"/>
<text x="631" y="374.9" font-family='"Liberation Sans", sans-serif' font-size="4.6" fill="#111">Diverse</text>
<rect x="625.2" y="375.5" width="5" height="4.5" fill="#7872b4"/>
<text x="631" y="379.4" font-family='"Liberation Sans", sans-serif' font-size="4.6" fill="#111">Single</text>
</svg>
</body></html>
